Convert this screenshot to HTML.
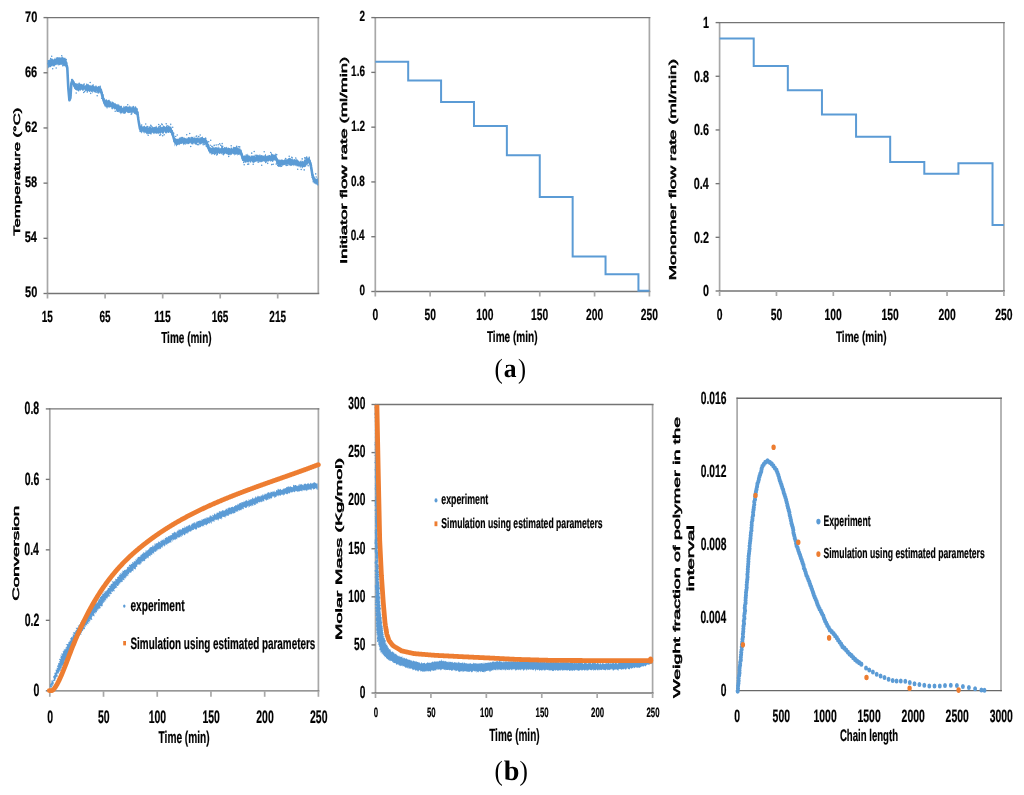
<!DOCTYPE html>
<html><head><meta charset="utf-8"><style>
html,body{margin:0;padding:0;background:#fff;width:1024px;height:795px;overflow:hidden}
svg{display:block;will-change:transform;filter:blur(0.35px)}
text{fill:#000;stroke:#000;stroke-width:0.22px;text-rendering:geometricPrecision}
</style></head><body>
<svg width="1024" height="795" viewBox="0 0 1024 795">
<rect width="1024" height="795" fill="#fff"/>
<line x1="47.5" y1="17" x2="47.5" y2="294.1" stroke="#a8a8a8" stroke-width="1.7"/>
<line x1="318.3" y1="17" x2="318.3" y2="294.1" stroke="#a8a8a8" stroke-width="1.7"/>
<line x1="46.9" y1="17.6" x2="319.2" y2="17.6" stroke="#747474" stroke-width="1.35"/>
<line x1="46.9" y1="293.5" x2="319.2" y2="293.5" stroke="#747474" stroke-width="1.35"/>
<line x1="43.5" y1="17.6" x2="47.5" y2="17.6" stroke="#747474" stroke-width="1.35"/>
<line x1="43.5" y1="72.78" x2="47.5" y2="72.78" stroke="#747474" stroke-width="1.35"/>
<line x1="43.5" y1="127.96" x2="47.5" y2="127.96" stroke="#747474" stroke-width="1.35"/>
<line x1="43.5" y1="183.14" x2="47.5" y2="183.14" stroke="#747474" stroke-width="1.35"/>
<line x1="43.5" y1="238.32" x2="47.5" y2="238.32" stroke="#747474" stroke-width="1.35"/>
<line x1="43.5" y1="293.5" x2="47.5" y2="293.5" stroke="#747474" stroke-width="1.35"/>
<line x1="47.5" y1="293.5" x2="47.5" y2="298.5" stroke="#a8a8a8" stroke-width="1.7"/>
<line x1="105.1" y1="293.5" x2="105.1" y2="298.5" stroke="#a8a8a8" stroke-width="1.7"/>
<line x1="162.7" y1="293.5" x2="162.7" y2="298.5" stroke="#a8a8a8" stroke-width="1.7"/>
<line x1="220.2" y1="293.5" x2="220.2" y2="298.5" stroke="#a8a8a8" stroke-width="1.7"/>
<line x1="277.7" y1="293.5" x2="277.7" y2="298.5" stroke="#a8a8a8" stroke-width="1.7"/>
<text x="25.03" y="21.51" font-family="Liberation Sans" font-size="15.14" font-weight="bold" textLength="12.22" lengthAdjust="spacingAndGlyphs">70</text>
<text x="24.97" y="76.69" font-family="Liberation Sans" font-size="15.14" font-weight="bold" textLength="12.22" lengthAdjust="spacingAndGlyphs">66</text>
<text x="25.02" y="131.87" font-family="Liberation Sans" font-size="15.14" font-weight="bold" textLength="12.22" lengthAdjust="spacingAndGlyphs">62</text>
<text x="24.92" y="187.05" font-family="Liberation Sans" font-size="15.14" font-weight="bold" textLength="12.22" lengthAdjust="spacingAndGlyphs">58</text>
<text x="24.64" y="242.23" font-family="Liberation Sans" font-size="15.14" font-weight="bold" textLength="12.22" lengthAdjust="spacingAndGlyphs">54</text>
<text x="25.03" y="297.41" font-family="Liberation Sans" font-size="15.14" font-weight="bold" textLength="12.22" lengthAdjust="spacingAndGlyphs">50</text>
<text x="41.77" y="321.62" font-family="Liberation Sans" font-size="16.03" font-weight="bold" textLength="11.12" lengthAdjust="spacingAndGlyphs">15</text>
<text x="99.5" y="321.62" font-family="Liberation Sans" font-size="16.03" font-weight="bold" textLength="11.12" lengthAdjust="spacingAndGlyphs">65</text>
<text x="154.19" y="321.62" font-family="Liberation Sans" font-size="16.03" font-weight="bold" textLength="16.67" lengthAdjust="spacingAndGlyphs">115</text>
<text x="211.69" y="321.62" font-family="Liberation Sans" font-size="16.03" font-weight="bold" textLength="16.67" lengthAdjust="spacingAndGlyphs">165</text>
<text x="269.33" y="321.62" font-family="Liberation Sans" font-size="16.03" font-weight="bold" textLength="16.67" lengthAdjust="spacingAndGlyphs">215</text>
<text x="161.19" y="343.2" font-family="Liberation Sans" font-size="15.99" font-weight="bold" textLength="50.41" lengthAdjust="spacingAndGlyphs">Time (min)</text>
<text transform="translate(20,235.77) rotate(-90)" x="0" y="0" font-family="Liberation Sans" font-size="9.16" font-weight="normal" textLength="128.19" lengthAdjust="spacingAndGlyphs" style="stroke-width:0.5px">Temperature (°C)</text>
<path d="M47.8 60.17 L48.1 59.91 L48.4 59.9 L48.7 60.31 L49 60.26 L49.3 60.18 L49.6 59.82 L49.9 58.64 L50.2 58.76 L50.5 59.51 L50.8 58.94 L51.1 58.39 L51.4 58.49 L51.7 59 L52 58.99 L52.3 58.18 L52.6 58.7 L52.9 59.14 L53.2 59.32 L53.5 59.62 L53.8 59.52 L54.1 58.97 L54.4 58.64 L54.7 58.34 L55 57.62 L55.3 57.76 L55.6 58.89 L55.9 58.97 L56.2 57.79 L56.5 57.42 L56.8 58.01 L57.1 58.2 L57.4 57.96 L57.7 58.1 L58 57.19 L58.3 57.19 L58.6 57.68 L58.9 56.92 L59.2 57.16 L59.5 57.61 L59.8 57.3 L60.1 57.22 L60.4 57.82 L60.7 57.82 L61 56.65 L61.3 57.38 L61.6 57.61 L61.9 56.86 L62.2 57.53 L62.5 56.69 L62.8 56.06 L63.1 57.5 L63.4 57.96 L63.7 57.31 L64 57.58 L64.3 57.68 L64.6 57.77 L64.9 57.93 L65.2 57.4 L65.5 58.16 L65.8 58.86 L66.1 58.92 L66.4 60.3 L66.7 64.18 L67 65.84 L67.3 66.75 L67.6 72.08 L67.9 77.48 L68.2 84.48 L68.5 89.59 L68.8 92.06 L69.1 95.95 L69.4 99.81 L69.7 98.26 L70 96.8 L70.3 95.75 L70.6 93.13 L70.9 88.94 L71.2 84.23 L71.5 81.09 L71.8 80.07 L72.1 79.8 L72.4 79.48 L72.7 78.31 L73 79.17 L73.3 80.23 L73.6 80.75 L73.9 81.06 L74.2 81.14 L74.5 81.26 L74.8 82.4 L75.1 83.01 L75.4 83.37 L75.7 83.23 L76 83.11 L76.3 83.35 L76.6 83.96 L76.9 84.09 L77.2 84.3 L77.5 85.4 L77.8 84.81 L78.1 84.33 L78.4 84.15 L78.7 82.76 L79 83.24 L79.3 84.56 L79.6 84.13 L79.9 83.65 L80.2 83.85 L80.5 84.2 L80.8 83.83 L81.1 83.54 L81.4 84.35 L81.7 84.65 L82 84.2 L82.3 84.66 L82.6 84.59 L82.9 84.53 L83.2 84.24 L83.5 83.8 L83.8 84.23 L84.1 84.61 L84.4 84.73 L84.7 85.4 L85 85.88 L85.3 84.85 L85.6 85.33 L85.9 85.14 L86.2 85 L86.5 85.07 L86.8 84.69 L87.1 84.71 L87.4 84.3 L87.7 85.37 L88 84.9 L88.3 83.59 L88.6 84.21 L88.9 85.01 L89.2 85.09 L89.5 85.43 L89.8 84.89 L90.1 84.73 L90.4 85.28 L90.7 85.44 L91 85.74 L91.3 86 L91.6 85.2 L91.9 84.73 L92.2 84.91 L92.5 84.87 L92.8 85.66 L93.1 85.86 L93.4 85.84 L93.7 85.73 L94 85.69 L94.3 85.88 L94.6 86.37 L94.9 86.64 L95.2 85.32 L95.5 85.3 L95.8 86.56 L96.1 86.15 L96.4 85.09 L96.7 85.94 L97 86.71 L97.3 86.38 L97.6 87.12 L97.9 86.55 L98.2 85.81 L98.5 86.15 L98.8 86.52 L99.1 86.39 L99.4 86.34 L99.7 86.65 L100 86.95 L100.3 87.47 L100.6 86.42 L100.9 86.54 L101.2 88.25 L101.5 89.28 L101.8 90.85 L102.1 92.3 L102.4 92.97 L102.7 93.84 L103 95.16 L103.3 95.98 L103.6 96.34 L103.9 97.01 L104.2 98.33 L104.5 99.86 L104.8 101.01 L105.1 100.38 L105.4 99.38 L105.7 99.93 L106 100.17 L106.3 99.81 L106.6 99.74 L106.9 99.73 L107.2 100.36 L107.5 100.15 L107.8 100.56 L108.1 100.91 L108.4 100.18 L108.7 100.23 L109 99.66 L109.3 99.44 L109.6 100.85 L109.9 102.33 L110.2 101.5 L110.5 101.26 L110.8 101.68 L111.1 100.9 L111.4 101.69 L111.7 103.07 L112 102.27 L112.3 101.35 L112.6 101.64 L112.9 101.69 L113.2 102.15 L113.5 103.03 L113.8 102.9 L114.1 102.83 L114.4 103.68 L114.7 103.19 L115 102.66 L115.3 102.88 L115.6 103.48 L115.9 104.14 L116.2 104.33 L116.5 104.61 L116.8 104.25 L117.1 104.38 L117.4 104.49 L117.7 104.17 L118 103.6 L118.3 104.56 L118.6 105.25 L118.9 104.84 L119.2 105.43 L119.5 106.22 L119.8 106.6 L120.1 105.79 L120.4 105.8 L120.7 106.11 L121 106.22 L121.3 105.75 L121.6 105.65 L121.9 107.17 L122.2 107.49 L122.5 107.39 L122.8 108.56 L123.1 107.93 L123.4 105.88 L123.7 105.63 L124 106.77 L124.3 107.23 L124.6 106.21 L124.9 105.73 L125.2 106.23 L125.5 106.34 L125.8 106.36 L126.1 105.98 L126.4 105.77 L126.7 106.05 L127 106.78 L127.3 106.66 L127.6 106.51 L127.9 106.26 L128.2 106.54 L128.5 107.11 L128.8 106.55 L129.1 107.1 L129.4 106.34 L129.7 105.1 L130 106.1 L130.3 106.42 L130.6 106.06 L130.9 107.59 L131.2 107.66 L131.5 106.53 L131.8 106.62 L132.1 107.09 L132.4 107.26 L132.7 106.87 L133 106.23 L133.3 106.01 L133.6 106.56 L133.9 106.04 L134.2 106.3 L134.5 107.18 L134.8 107.76 L135.1 106.89 L135.4 105.66 L135.7 106.16 L136 106.61 L136.3 107.29 L136.6 107.81 L136.9 108.29 L137.2 108.8 L137.5 110.1 L137.8 111.33 L138.1 113.1 L138.4 115.81 L138.7 118.32 L139 120.41 L139.3 121.18 L139.6 122.42 L139.9 124.86 L140.2 125.85 L140.5 126.43 L140.8 126.34 L141.1 125.49 L141.4 125.68 L141.7 126.22 L142 126.18 L142.3 126.08 L142.6 126.74 L142.9 126.93 L143.2 126.64 L143.5 126.18 L143.8 126.19 L144.1 126.37 L144.4 125.38 L144.7 125.82 L145 126.82 L145.3 126.63 L145.6 126.41 L145.9 126.98 L146.2 126.82 L146.5 125.51 L146.8 125.87 L147.1 126.91 L147.4 127.31 L147.7 127.12 L148 127.25 L148.3 127.93 L148.6 126.84 L148.9 126.79 L149.2 126.92 L149.5 125.87 L149.8 126.28 L150.1 126.76 L150.4 126.04 L150.7 126.4 L151 127.52 L151.3 128.02 L151.6 127.71 L151.9 126.42 L152.2 125.98 L152.5 127.05 L152.8 127.84 L153.1 127.62 L153.4 127.08 L153.7 126.92 L154 126.94 L154.3 126.69 L154.6 126.89 L154.9 127.02 L155.2 126.77 L155.5 126.77 L155.8 126.61 L156.1 125.71 L156.4 125.65 L156.7 126.44 L157 127.44 L157.3 127.27 L157.6 127.37 L157.9 128.15 L158.2 126.87 L158.5 125.89 L158.8 126.32 L159.1 127.39 L159.4 127.46 L159.7 126.98 L160 126.5 L160.3 125.16 L160.6 125.32 L160.9 126.66 L161.2 127.27 L161.5 126.92 L161.8 126.45 L162.1 126.92 L162.4 126.76 L162.7 126.74 L163 126.27 L163.3 125.25 L163.6 125.24 L163.9 125.91 L164.2 126.14 L164.5 125.96 L164.8 126.35 L165.1 126.42 L165.4 126.8 L165.7 127.28 L166 126.31 L166.3 125.73 L166.6 125.96 L166.9 125.4 L167.2 126.26 L167.5 127.04 L167.8 126.16 L168.1 125.61 L168.4 125.83 L168.7 125.52 L169 125.23 L169.3 126.22 L169.6 126.71 L169.9 125.78 L170.2 125.13 L170.5 126.89 L170.8 127.04 L171.1 126.46 L171.4 127.01 L171.7 128 L172 129.28 L172.3 130.16 L172.6 129.83 L172.9 130.55 L173.2 132.13 L173.5 133.49 L173.8 135.27 L174.1 136.88 L174.4 138.28 L174.7 138.23 L175 138.6 L175.3 138.53 L175.6 137.8 L175.9 138.73 L176.2 139.08 L176.5 138.79 L176.8 138.57 L177.1 138.58 L177.4 138.91 L177.7 138.78 L178 138.85 L178.3 139.27 L178.6 138.8 L178.9 137.8 L179.2 138.44 L179.5 138.82 L179.8 138.4 L180.1 138.82 L180.4 138.12 L180.7 137.89 L181 137.57 L181.3 137.67 L181.6 138.15 L181.9 137.87 L182.2 138.36 L182.5 137.97 L182.8 137.68 L183.1 137.65 L183.4 137.58 L183.7 138.32 L184 138.32 L184.3 137.78 L184.6 137.28 L184.9 137.69 L185.2 138.11 L185.5 138.46 L185.8 138.12 L186.1 137.81 L186.4 138.89 L186.7 138.41 L187 137.07 L187.3 137.71 L187.6 138.67 L187.9 138.29 L188.2 138.29 L188.5 137.76 L188.8 137.59 L189.1 138.06 L189.4 137.41 L189.7 137.4 L190 137.44 L190.3 137.52 L190.6 138.23 L190.9 138.6 L191.2 137.19 L191.5 136.48 L191.8 137.19 L192.1 137.03 L192.4 137.05 L192.7 136.99 L193 136.18 L193.3 136.64 L193.6 138.18 L193.9 138.17 L194.2 138.08 L194.5 137.31 L194.8 136.36 L195.1 137.14 L195.4 138.16 L195.7 137.9 L196 136.66 L196.3 137.79 L196.6 138.2 L196.9 137.43 L197.2 137.22 L197.5 137.23 L197.8 137.85 L198.1 138.06 L198.4 138.39 L198.7 137.1 L199 136.31 L199.3 137.13 L199.6 137.91 L199.9 138.6 L200.2 138.4 L200.5 137.58 L200.8 137.46 L201.1 137.5 L201.4 137.99 L201.7 137.99 L202 137.52 L202.3 136.93 L202.6 136.09 L202.9 136.75 L203.2 137.95 L203.5 137.93 L203.8 137.88 L204.1 138.2 L204.4 137.97 L204.7 138.12 L205 137.84 L205.3 137.43 L205.6 137.61 L205.9 137.66 L206.2 138.61 L206.5 139.7 L206.8 140.23 L207.1 140.8 L207.4 141.34 L207.7 141.91 L208 143.56 L208.3 144.46 L208.6 145.39 L208.9 146.63 L209.2 147.09 L209.5 148.37 L209.8 148.19 L210.1 147.19 L210.4 147.3 L210.7 147.56 L211 147.66 L211.3 147.91 L211.6 147.86 L211.9 147.67 L212.2 147.51 L212.5 147.8 L212.8 147.74 L213.1 147.13 L213.4 147.3 L213.7 147.56 L214 147.25 L214.3 147.8 L214.6 147.84 L214.9 146.98 L215.2 147.06 L215.5 147 L215.8 147.42 L216.1 147.71 L216.4 147.13 L216.7 146.82 L217 147.01 L217.3 147.89 L217.6 147.74 L217.9 146.53 L218.2 146.32 L218.5 146.74 L218.8 147.9 L219.1 147.58 L219.4 146.94 L219.7 148.51 L220 148.27 L220.3 147.8 L220.6 148.55 L220.9 148.17 L221.2 147.02 L221.5 146.91 L221.8 147.37 L222.1 146.43 L222.4 145.85 L222.7 146.69 L223 147.53 L223.3 148.06 L223.6 148.27 L223.9 147.53 L224.2 147.05 L224.5 147.2 L224.8 146.94 L225.1 147.35 L225.4 147.83 L225.7 147.17 L226 146.89 L226.3 146.75 L226.6 146.84 L226.9 147.48 L227.2 147.5 L227.5 147.83 L227.8 148.74 L228.1 148.04 L228.4 147.33 L228.7 147.47 L229 148.22 L229.3 148.53 L229.6 148.05 L229.9 148.28 L230.2 149.04 L230.5 148.81 L230.8 147.4 L231.1 147.09 L231.4 147.78 L231.7 147.97 L232 147.37 L232.3 148.61 L232.6 149.02 L232.9 147.55 L233.2 147.19 L233.5 146.68 L233.8 146.49 L234.1 147.13 L234.4 147.51 L234.7 147.31 L235 147.7 L235.3 148.08 L235.6 147.44 L235.9 146.55 L236.2 147.04 L236.5 147.96 L236.8 147.81 L237.1 147.19 L237.4 147.31 L237.7 147.26 L238 147.69 L238.3 148.45 L238.6 148.11 L238.9 147.69 L239.2 147.14 L239.5 148.18 L239.8 149.08 L240.1 148.26 L240.4 148.56 L240.7 150.02 L241 149.88 L241.3 149.6 L241.6 150.6 L241.9 152.06 L242.2 152.85 L242.5 153.77 L242.8 154.77 L243.1 155.42 L243.4 156.29 L243.7 155.79 L244 155.72 L244.3 155.51 L244.6 155.08 L244.9 155.8 L245.2 155.88 L245.5 155.63 L245.8 155.25 L246.1 155.37 L246.4 155.98 L246.7 155.15 L247 153.95 L247.3 153.59 L247.6 154.57 L247.9 155.37 L248.2 154.71 L248.5 154.87 L248.8 156 L249.1 155.89 L249.4 155.24 L249.7 155.67 L250 156.61 L250.3 156.89 L250.6 155.85 L250.9 155.54 L251.2 155.9 L251.5 155.47 L251.8 155.13 L252.1 155.37 L252.4 155.43 L252.7 155.68 L253 156.06 L253.3 156.12 L253.6 155.45 L253.9 155 L254.2 155.84 L254.5 155.99 L254.8 155.76 L255.1 155.28 L255.4 155.9 L255.7 156.68 L256 156.14 L256.3 154.53 L256.6 153.93 L256.9 155.12 L257.2 155.23 L257.5 154.25 L257.8 154.68 L258.1 155.77 L258.4 155.12 L258.7 154.73 L259 154.98 L259.3 155.43 L259.6 154.86 L259.9 153.86 L260.2 154.48 L260.5 154.94 L260.8 156.1 L261.1 156.13 L261.4 155.3 L261.7 155.39 L262 155 L262.3 155.32 L262.6 156.35 L262.9 156 L263.2 155.55 L263.5 155.83 L263.8 155.74 L264.1 155.71 L264.4 156.45 L264.7 155.72 L265 154.53 L265.3 154.55 L265.6 153.74 L265.9 154.2 L266.2 155.87 L266.5 156.25 L266.8 155.95 L267.1 155.75 L267.4 155.14 L267.7 155.78 L268 155.63 L268.3 155.38 L268.6 155.37 L268.9 154.71 L269.2 154.95 L269.5 154.91 L269.8 154.98 L270.1 155.19 L270.4 155.67 L270.7 155.38 L271 153.76 L271.3 152.83 L271.6 153.03 L271.9 153.58 L272.2 154.44 L272.5 154.08 L272.8 153.77 L273.1 154.42 L273.4 154.5 L273.7 154.39 L274 154.43 L274.3 154.48 L274.6 154.74 L274.9 154.84 L275.2 153.29 L275.5 153.13 L275.8 154.5 L276.1 155 L276.4 155.34 L276.7 156.85 L277 158.04 L277.3 157.78 L277.6 158.17 L277.9 159.12 L278.2 159.15 L278.5 159.89 L278.8 160.49 L279.1 160.36 L279.4 159.67 L279.7 160.26 L280 161.17 L280.3 160.48 L280.6 159.82 L280.9 159.25 L281.2 158.86 L281.5 159.79 L281.8 160.02 L282.1 159.39 L282.4 159.97 L282.7 159.54 L283 159.59 L283.3 160.71 L283.6 160.41 L283.9 160.09 L284.2 160.16 L284.5 159.26 L284.8 158.77 L285.1 158.17 L285.4 158.34 L285.7 159.69 L286 159.88 L286.3 159.55 L286.6 159.7 L286.9 159.03 L287.2 158.71 L287.5 159.74 L287.8 159.08 L288.1 158.18 L288.4 158.28 L288.7 158.13 L289 157.94 L289.3 157.92 L289.6 157.67 L289.9 157.56 L290.2 158 L290.5 158.07 L290.8 158.96 L291.1 159.28 L291.4 158.8 L291.7 158.7 L292 159.25 L292.3 158.67 L292.6 158.08 L292.9 159.42 L293.2 160.3 L293.5 159.94 L293.8 159.27 L294.1 159.53 L294.4 159.51 L294.7 159.54 L295 159.39 L295.3 159.49 L295.6 159.82 L295.9 159.12 L296.2 158 L296.5 158.96 L296.8 160.39 L297.1 160.37 L297.4 159.87 L297.7 160.07 L298 160.71 L298.3 160.26 L298.6 160.55 L298.9 161.03 L299.2 160.86 L299.5 161.44 L299.8 161.94 L300.1 161.24 L300.4 160.58 L300.7 160.54 L301 161.47 L301.3 161.66 L301.6 160.56 L301.9 160.16 L302.2 160.62 L302.5 161.33 L302.8 161.07 L303.1 160.91 L303.4 161.52 L303.7 161.42 L304 160.05 L304.3 159.39 L304.6 159.32 L304.9 159.44 L305.2 159.34 L305.5 159.2 L305.8 159.49 L306.1 157.9 L306.4 157.29 L306.7 158.43 L307 158.62 L307.3 158.05 L307.6 157.27 L307.9 157.44 L308.2 158.56 L308.5 158.27 L308.8 157.28 L309.1 156.91 L309.4 156.86 L309.7 157.66 L310 158.79 L310.3 160.33 L310.6 161.2 L310.9 160.99 L311.2 162.91 L311.5 165.61 L311.8 167.77 L312.1 168.95 L312.4 171.31 L312.7 173.24 L313 173.68 L313.3 174.36 L313.6 175.84 L313.9 177.1 L314.2 177.48 L314.5 177.71 L314.8 177.79 L315.1 178.5 L315.4 178.6 L315.7 177.83 L316 178.4 L316.3 179.05 L316.6 178.46 L316.9 178.73 L317.2 178.71 L317.5 178.48 L317.8 177.82 L318.1 176.15 L318.1 184.44 L317.8 183.73 L317.5 184.96 L317.2 184.74 L316.9 184.13 L316.6 185.06 L316.3 184.41 L316 184.1 L315.7 184.82 L315.4 183.99 L315.1 183.41 L314.8 183.16 L314.5 183.47 L314.2 183.63 L313.9 183.78 L313.6 182.06 L313.3 180.05 L313 180.38 L312.7 179.36 L312.4 177.62 L312.1 176.64 L311.8 175.22 L311.5 173.28 L311.2 171.39 L310.9 168.4 L310.6 167.32 L310.3 167.64 L310 166.47 L309.7 165.18 L309.4 163.89 L309.1 163.06 L308.8 163.1 L308.5 163.53 L308.2 164.68 L307.9 164.47 L307.6 163.99 L307.3 165.15 L307 165.74 L306.7 164.77 L306.4 165.02 L306.1 166.58 L305.8 166.92 L305.5 166.02 L305.2 165.89 L304.9 167.4 L304.6 167.27 L304.3 166.88 L304 166.74 L303.7 165.88 L303.4 166.64 L303.1 167.07 L302.8 167.69 L302.5 168.39 L302.2 168.3 L301.9 168.4 L301.6 167.06 L301.3 166.16 L301 167.65 L300.7 168.44 L300.4 167.14 L300.1 166.42 L299.8 166.5 L299.5 166.19 L299.2 167.45 L298.9 167.49 L298.6 166 L298.3 166.58 L298 166.83 L297.7 166.71 L297.4 165.93 L297.1 165.95 L296.8 166.42 L296.5 166.27 L296.2 165.43 L295.9 165.11 L295.6 165.77 L295.3 165.96 L295 166.2 L294.7 164.85 L294.4 164.96 L294.1 166.05 L293.8 166.16 L293.5 165.35 L293.2 165.34 L292.9 165.74 L292.6 164.91 L292.3 165.02 L292 165.45 L291.7 166 L291.4 165.81 L291.1 165.67 L290.8 166.2 L290.5 165.64 L290.2 165.5 L289.9 165.53 L289.6 165.46 L289.3 165.44 L289 164.68 L288.7 164.36 L288.4 165.33 L288.1 164.69 L287.8 164.39 L287.5 164.95 L287.2 164.45 L286.9 164.47 L286.6 165.14 L286.3 165.91 L286 165.71 L285.7 165.05 L285.4 164.49 L285.1 164.48 L284.8 164.97 L284.5 165.25 L284.2 164.86 L283.9 165.43 L283.6 165.17 L283.3 165.05 L283 165.83 L282.7 165.7 L282.4 165.81 L282.1 165.43 L281.8 164.89 L281.5 164.87 L281.2 166.06 L280.9 166.57 L280.6 166.66 L280.3 167.6 L280 166.8 L279.7 166.71 L279.4 167.21 L279.1 166.36 L278.8 166.19 L278.5 166.45 L278.2 166.4 L277.9 166.1 L277.6 165.01 L277.3 163.71 L277 163.65 L276.7 163.35 L276.4 162.28 L276.1 161.42 L275.8 160.59 L275.5 160.94 L275.2 160.18 L274.9 159.7 L274.6 160.67 L274.3 160.75 L274 160.17 L273.7 160.53 L273.4 161.33 L273.1 161.74 L272.8 161.74 L272.5 162.05 L272.2 162.07 L271.9 161.47 L271.6 161.34 L271.3 160.82 L271 160.69 L270.7 160.79 L270.4 162.04 L270.1 162.02 L269.8 160.69 L269.5 160.49 L269.2 160.98 L268.9 161.25 L268.6 161.71 L268.3 161.87 L268 161.01 L267.7 161.54 L267.4 162.07 L267.1 161.28 L266.8 161.16 L266.5 161.32 L266.2 161.53 L265.9 162.6 L265.6 162.55 L265.3 161.49 L265 161.64 L264.7 162.07 L264.4 161.5 L264.1 161.61 L263.8 161.67 L263.5 161.16 L263.2 161.08 L262.9 161.04 L262.6 161.19 L262.3 160.67 L262 161.57 L261.7 162.69 L261.4 162.06 L261.1 161.79 L260.8 162.42 L260.5 162.36 L260.2 161.54 L259.9 162.38 L259.6 162.6 L259.3 161.43 L259 161.83 L258.7 161.87 L258.4 161.62 L258.1 162.13 L257.8 161.92 L257.5 161.17 L257.2 161.14 L256.9 161.77 L256.6 161.89 L256.3 161.11 L256 161.11 L255.7 162.06 L255.4 161.74 L255.1 161.89 L254.8 162.63 L254.5 162.27 L254.2 162.24 L253.9 163.39 L253.6 163.09 L253.3 162.41 L253 162.96 L252.7 162.84 L252.4 162.05 L252.1 162.25 L251.8 161.87 L251.5 160.72 L251.2 161.34 L250.9 161.8 L250.6 161.73 L250.3 162.33 L250 162.73 L249.7 162.22 L249.4 161.36 L249.1 161.58 L248.8 163 L248.5 162.73 L248.2 161.78 L247.9 162.07 L247.6 162.12 L247.3 162.54 L247 163.1 L246.7 162.64 L246.4 161.66 L246.1 161.84 L245.8 162.96 L245.5 162.87 L245.2 162.82 L244.9 162.28 L244.6 161.09 L244.3 162.29 L244 162.61 L243.7 161.4 L243.4 161.6 L243.1 160.9 L242.8 160.51 L242.5 160.99 L242.2 159.43 L241.9 158.5 L241.6 157.63 L241.3 157.18 L241 156.77 L240.7 155.49 L240.4 154.88 L240.1 154.31 L239.8 155.17 L239.5 155.33 L239.2 154.09 L238.9 154.64 L238.6 155.12 L238.3 154.65 L238 155.15 L237.7 154.12 L237.4 154.99 L237.1 156.17 L236.8 154.04 L236.5 153.88 L236.2 154.9 L235.9 154.65 L235.6 154.23 L235.3 154.59 L235 155.28 L234.7 155.84 L234.4 154.65 L234.1 153.93 L233.8 154.64 L233.5 154.36 L233.2 153.99 L232.9 153.74 L232.6 153.61 L232.3 154.1 L232 154.19 L231.7 154.56 L231.4 155.2 L231.1 154.8 L230.8 155.21 L230.5 155.54 L230.2 154.21 L229.9 154.89 L229.6 155.75 L229.3 154.41 L229 154.75 L228.7 155.21 L228.4 155.33 L228.1 155.19 L227.8 155.12 L227.5 154.33 L227.2 153.49 L226.9 153.85 L226.6 154.26 L226.3 154.24 L226 153.71 L225.7 153.44 L225.4 153.2 L225.1 153.26 L224.8 153.58 L224.5 153.93 L224.2 154.38 L223.9 155.58 L223.6 155.65 L223.3 154.4 L223 154.05 L222.7 153.68 L222.4 153.28 L222.1 153.97 L221.8 154.56 L221.5 154.04 L221.2 153.46 L220.9 153.51 L220.6 153.27 L220.3 153.4 L220 154.11 L219.7 153.71 L219.4 154.07 L219.1 153.93 L218.8 152.47 L218.5 153.15 L218.2 153.69 L217.9 154.64 L217.6 154.99 L217.3 154.48 L217 154.54 L216.7 154.21 L216.4 153.8 L216.1 152.93 L215.8 153.28 L215.5 153.85 L215.2 153.88 L214.9 153.51 L214.6 154.15 L214.3 155.8 L214 153.84 L213.7 152.35 L213.4 154.28 L213.1 153.89 L212.8 153.88 L212.5 154.4 L212.2 154.13 L211.9 155.05 L211.6 155 L211.3 153.81 L211 153.11 L210.7 152.89 L210.4 153.46 L210.1 154.15 L209.8 153.51 L209.5 153.4 L209.2 152.57 L208.9 151.51 L208.6 150.44 L208.3 149.52 L208 149.1 L207.7 148.62 L207.4 148.2 L207.1 147.31 L206.8 146.79 L206.5 145.76 L206.2 144.97 L205.9 144.29 L205.6 144.17 L205.3 145.54 L205 145.96 L204.7 144.32 L204.4 143.14 L204.1 143.27 L203.8 143.87 L203.5 143.92 L203.2 144.54 L202.9 144.91 L202.6 143.56 L202.3 143.37 L202 143.39 L201.7 143.91 L201.4 144.3 L201.1 143.52 L200.8 144.2 L200.5 144.51 L200.2 144.53 L199.9 145.41 L199.6 144.76 L199.3 143.8 L199 143.38 L198.7 143.48 L198.4 143.14 L198.1 142.09 L197.8 142.76 L197.5 143.2 L197.2 143.25 L196.9 144.47 L196.6 145.18 L196.3 145.12 L196 143.98 L195.7 144.12 L195.4 144.83 L195.1 145.27 L194.8 143.8 L194.5 142.19 L194.2 143.59 L193.9 143.37 L193.6 143.15 L193.3 144.14 L193 144.65 L192.7 144.67 L192.4 143.63 L192.1 144.4 L191.8 143.94 L191.5 143.5 L191.2 144.85 L190.9 144.04 L190.6 142.76 L190.3 142.65 L190 143.83 L189.7 143.97 L189.4 143 L189.1 143.43 L188.8 144.53 L188.5 144.01 L188.2 144.01 L187.9 144.57 L187.6 143.89 L187.3 143.06 L187 143.66 L186.7 144.45 L186.4 143.75 L186.1 143.1 L185.8 143.57 L185.5 144.88 L185.2 144.91 L184.9 144.07 L184.6 144.65 L184.3 144.46 L184 143.4 L183.7 144.64 L183.4 145.52 L183.1 144.72 L182.8 143.82 L182.5 143.16 L182.2 143.08 L181.9 143.49 L181.6 143.78 L181.3 143.43 L181 143.71 L180.7 144.35 L180.4 144.11 L180.1 143.76 L179.8 144.54 L179.5 145.09 L179.2 145.34 L178.9 145.3 L178.6 144.83 L178.3 144.17 L178 144.89 L177.7 145.03 L177.4 144.69 L177.1 145.73 L176.8 145.83 L176.5 146.5 L176.2 146.6 L175.9 144.68 L175.6 144.2 L175.3 144.97 L175 145.9 L174.7 146.56 L174.4 143.96 L174.1 142.28 L173.8 141.9 L173.5 141.34 L173.2 140.16 L172.9 137.97 L172.6 135.56 L172.3 135.04 L172 135.93 L171.7 135.04 L171.4 134.71 L171.1 133.72 L170.8 133.02 L170.5 133.17 L170.2 132.65 L169.9 132.79 L169.6 132.02 L169.3 132.08 L169 131.74 L168.7 132.37 L168.4 133.15 L168.1 132.21 L167.8 132.32 L167.5 132.62 L167.2 132.48 L166.9 132.42 L166.6 132.98 L166.3 133.82 L166 133.66 L165.7 133.46 L165.4 132.84 L165.1 133.03 L164.8 132.78 L164.5 131.56 L164.2 131.56 L163.9 132.19 L163.6 133.56 L163.3 133.99 L163 133.52 L162.7 133.69 L162.4 133.79 L162.1 133.41 L161.8 132.93 L161.5 132.45 L161.2 132.87 L160.9 133.73 L160.6 134.01 L160.3 133.78 L160 133.35 L159.7 133.02 L159.4 133.73 L159.1 133.45 L158.8 134.12 L158.5 134.42 L158.2 133.33 L157.9 133.1 L157.6 133.33 L157.3 133.71 L157 132.98 L156.7 132.7 L156.4 133.49 L156.1 133.42 L155.8 133.28 L155.5 133.72 L155.2 133 L154.9 132.71 L154.6 134.2 L154.3 133.92 L154 132.81 L153.7 133.88 L153.4 134.21 L153.1 133.26 L152.8 132.98 L152.5 133.15 L152.2 132.27 L151.9 132.75 L151.6 134.36 L151.3 134.64 L151 134.29 L150.7 134.19 L150.4 134.72 L150.1 133.96 L149.8 133.11 L149.5 133.89 L149.2 133.84 L148.9 133.53 L148.6 133.6 L148.3 132.73 L148 133.04 L147.7 134.3 L147.4 134.49 L147.1 134.38 L146.8 134.34 L146.5 134.04 L146.2 133.59 L145.9 133.11 L145.6 132.64 L145.3 132.58 L145 133.41 L144.7 133.83 L144.4 132.53 L144.1 132.3 L143.8 133.53 L143.5 132.84 L143.2 131.56 L142.9 131.67 L142.6 131.61 L142.3 131.94 L142 133.36 L141.7 133.6 L141.4 132.66 L141.1 132.53 L140.8 132.22 L140.5 131.91 L140.2 132.21 L139.9 132.13 L139.6 130.81 L139.3 128.61 L139 126.06 L138.7 123.45 L138.4 121.68 L138.1 120.23 L137.8 118.49 L137.5 116.11 L137.2 114.95 L136.9 115.17 L136.6 114.42 L136.3 114.8 L136 115.06 L135.7 114.65 L135.4 114.34 L135.1 113.57 L134.8 113.55 L134.5 114.05 L134.2 113.73 L133.9 113.18 L133.6 112.68 L133.3 112.85 L133 112.37 L132.7 112.39 L132.4 113.22 L132.1 113.21 L131.8 112.84 L131.5 112.68 L131.2 113.13 L130.9 113.13 L130.6 112.04 L130.3 112.9 L130 113.35 L129.7 111.79 L129.4 112.19 L129.1 112.72 L128.8 113.05 L128.5 113.32 L128.2 112.91 L127.9 112.42 L127.6 112.6 L127.3 113.28 L127 112.83 L126.7 111.84 L126.4 111.87 L126.1 112.37 L125.8 113.2 L125.5 113.6 L125.2 113.05 L124.9 112.78 L124.6 112.46 L124.3 113.55 L124 113.96 L123.7 112.87 L123.4 112.39 L123.1 112.42 L122.8 112.36 L122.5 112.05 L122.2 112.79 L121.9 113.21 L121.6 112.98 L121.3 113.39 L121 114.42 L120.7 114.29 L120.4 113.18 L120.1 112.67 L119.8 113.28 L119.5 112.62 L119.2 111.04 L118.9 111.49 L118.6 112.39 L118.3 111.9 L118 110.34 L117.7 109.85 L117.4 109.55 L117.1 109.35 L116.8 110.7 L116.5 110.55 L116.2 109.93 L115.9 109.77 L115.6 109.3 L115.3 109.08 L115 109.14 L114.7 109.9 L114.4 109.22 L114.1 108.77 L113.8 108.94 L113.5 108.36 L113.2 108.35 L112.9 108.39 L112.6 108.53 L112.3 108.48 L112 108.67 L111.7 108.37 L111.4 107.45 L111.1 107.45 L110.8 107.26 L110.5 107.03 L110.2 107.33 L109.9 107.81 L109.6 107.69 L109.3 107.21 L109 107.16 L108.7 107.1 L108.4 107.39 L108.1 107.78 L107.8 108.76 L107.5 108.49 L107.2 106.65 L106.9 107.5 L106.6 109.02 L106.3 107.62 L106 106.8 L105.7 107.41 L105.4 106.91 L105.1 106.09 L104.8 106.43 L104.5 106.54 L104.2 105.15 L103.9 104.13 L103.6 102.52 L103.3 102.07 L103 101.97 L102.7 100.61 L102.4 99.82 L102.1 98.45 L101.8 97.01 L101.5 95.37 L101.2 93.17 L100.9 93.09 L100.6 93.01 L100.3 92.26 L100 92.51 L99.7 92.18 L99.4 93.09 L99.1 93.77 L98.8 92.69 L98.5 92.78 L98.2 94.1 L97.9 93.74 L97.6 92.58 L97.3 92.65 L97 91.89 L96.7 91.2 L96.4 91.46 L96.1 91.23 L95.8 91.71 L95.5 92.56 L95.2 93.09 L94.9 92.34 L94.6 91.53 L94.3 92.25 L94 92.4 L93.7 91.51 L93.4 91.15 L93.1 92.02 L92.8 93.57 L92.5 93.07 L92.2 91.3 L91.9 91.09 L91.6 91.31 L91.3 91.23 L91 91.94 L90.7 91.92 L90.4 90.59 L90.1 91.47 L89.8 92.31 L89.5 91.88 L89.2 91.75 L88.9 91.61 L88.6 91.26 L88.3 91.02 L88 91.52 L87.7 92.22 L87.4 92.36 L87.1 91.51 L86.8 91.08 L86.5 91.21 L86.2 90.71 L85.9 90.84 L85.6 90.95 L85.3 91.34 L85 91.35 L84.7 89.69 L84.4 89.62 L84.1 89.72 L83.8 89.52 L83.5 90.4 L83.2 90.92 L82.9 90.44 L82.6 90.19 L82.3 90.65 L82 89.94 L81.7 89.65 L81.4 89.8 L81.1 89.74 L80.8 90.55 L80.5 90.68 L80.2 90.82 L79.9 90.59 L79.6 90.07 L79.3 90.64 L79 91.71 L78.7 91.41 L78.4 91.49 L78.1 91.11 L77.8 90.35 L77.5 90.67 L77.2 90.09 L76.9 90.11 L76.6 90.27 L76.3 90.49 L76 90.24 L75.7 89.78 L75.4 90.08 L75.1 89.71 L74.8 89.02 L74.5 89 L74.2 88.8 L73.9 87.67 L73.6 86.81 L73.3 86.72 L73 86.03 L72.7 85.41 L72.4 83.39 L72.1 82.88 L71.8 83.05 L71.5 83.75 L71.2 86.33 L70.9 91.58 L70.6 96.26 L70.3 99.33 L70 100.85 L69.7 101.18 L69.4 101.72 L69.1 97.81 L68.8 94.64 L68.5 92.26 L68.2 87.86 L67.9 82.1 L67.6 75.77 L67.3 69.9 L67 68.94 L66.7 67.55 L66.4 67.61 L66.1 65.08 L65.8 66.14 L65.5 67.7 L65.2 66.64 L64.9 66.02 L64.6 65.64 L64.3 66.15 L64 66.64 L63.7 66.01 L63.4 65.99 L63.1 65.39 L62.8 65.5 L62.5 65.21 L62.2 64.45 L61.9 64.66 L61.6 64.94 L61.3 64.71 L61 64.44 L60.7 64.64 L60.4 65.05 L60.1 64.77 L59.8 64.93 L59.5 65.4 L59.2 64.89 L58.9 65.24 L58.6 65.86 L58.3 65.16 L58 64.15 L57.7 64.27 L57.4 65.42 L57.1 64.97 L56.8 64.19 L56.5 65.3 L56.2 65.03 L55.9 65.11 L55.6 65.72 L55.3 64.94 L55 64.89 L54.7 65.75 L54.4 66.06 L54.1 65.74 L53.8 66.09 L53.5 66.5 L53.2 65.3 L52.9 64.74 L52.6 65.99 L52.3 66.32 L52 66.5 L51.7 66.68 L51.4 66.12 L51.1 66.16 L50.8 67.2 L50.5 67.23 L50.2 67.2 L49.9 66.75 L49.6 67.1 L49.3 67.87 L49 67.36 L48.7 67.77 L48.4 67.75 L48.1 68.45 L47.8 68.68Z" fill="#5b9bd5"/>
<polyline points="47.5,64.1 47.96,63.9 48.42,63.71 48.88,63.51 49.34,63.31 49.8,63.12 50.26,62.92 50.72,62.72 51.19,62.55 51.67,62.43 52.16,62.32 52.64,62.2 53.13,62.08 53.61,61.96 54.1,61.84 54.59,61.72 55.07,61.6 55.56,61.48 56.04,61.36 56.53,61.24 57.01,61.12 57.51,61.1 58.01,61.1 58.51,61.1 59.01,61.1 59.51,61.1 60.01,61.1 60.51,61.1 61.01,61.1 61.51,61.1 62.01,61.1 62.51,61.1 63.01,61.1 63.47,61.28 63.91,61.51 64.36,61.73 64.81,61.95 65.26,62.18 65.7,62.4 66.11,62.65 66.22,63.14 66.33,63.63 66.44,64.12 66.55,64.61 66.65,65.1 66.76,65.58 66.87,66.07 66.98,66.56 67.09,67.05 67.2,67.54 67.3,68.02 67.33,68.52 67.35,69.02 67.38,69.52 67.4,70.02 67.43,70.52 67.45,71.02 67.48,71.52 67.5,72.02 67.53,72.52 67.55,73.02 67.58,73.52 67.6,74.02 67.63,74.52 67.65,75.02 67.68,75.52 67.7,76.01 67.73,76.51 67.75,77.01 67.78,77.51 67.8,78.01 67.83,78.51 67.85,79.01 67.88,79.51 67.9,80.01 67.93,80.51 67.95,81.01 67.98,81.51 68,82.01 68.03,82.51 68.05,83.01 68.08,83.51 68.1,84 68.13,84.5 68.15,85 68.18,85.5 68.2,86 68.23,86.5 68.25,87 68.28,87.5 68.3,88 68.34,88.5 68.39,89 68.43,89.49 68.48,89.99 68.52,90.49 68.57,90.99 68.61,91.49 68.66,91.98 68.7,92.48 68.75,92.98 68.79,93.48 68.83,93.98 68.88,94.47 68.92,94.97 68.97,95.47 69.01,95.97 69.06,96.47 69.1,96.96 69.15,97.46 69.19,97.96 69.24,98.46 69.28,98.96 69.32,99.45 69.37,99.95 69.46,100.16 69.66,99.7 69.86,99.24 70.06,98.79 70.26,98.33 70.41,97.86 70.44,97.36 70.47,96.86 70.51,96.36 70.54,95.86 70.57,95.36 70.6,94.86 70.63,94.36 70.67,93.87 70.7,93.37 70.73,92.87 70.76,92.37 70.79,91.87 70.83,91.37 70.86,90.87 70.89,90.37 70.92,89.87 70.95,89.38 70.99,88.88 71.02,88.38 71.05,87.88 71.08,87.38 71.11,86.88 71.15,86.38 71.18,85.88 71.21,85.38 71.24,84.88 71.28,84.39 71.33,83.89 71.46,83.41 71.59,82.93 71.72,82.44 71.86,81.96 71.99,81.48 72.12,81 72.29,80.87 72.51,81.32 72.73,81.77 72.95,82.22 73.17,82.67 73.39,83.12 73.61,83.57 73.83,84.01 74.05,84.46 74.27,84.91 74.49,85.36 74.71,85.81 74.93,86.26 75.15,86.71 75.59,86.84 76.09,86.89 76.59,86.94 77.09,86.99 77.58,87.04 78.08,87.09 78.58,87.14 79.08,87.19 79.57,87.23 80.07,87.28 80.57,87.33 81.07,87.38 81.56,87.43 82.06,87.48 82.56,87.53 83.06,87.58 83.55,87.63 84.05,87.68 84.55,87.73 85.05,87.78 85.54,87.83 86.04,87.88 86.54,87.93 87.04,87.98 87.53,88.03 88.03,88.07 88.53,88.12 89.03,88.17 89.52,88.22 90.02,88.27 90.52,88.33 91.01,88.4 91.51,88.47 92,88.54 92.5,88.61 92.99,88.68 93.49,88.76 93.98,88.83 94.48,88.9 94.97,88.97 95.47,89.04 95.96,89.11 96.46,89.18 96.95,89.25 97.45,89.32 97.94,89.39 98.44,89.46 98.93,89.53 99.43,89.6 99.92,89.67 100.42,89.75 100.83,89.91 100.94,90.4 101.06,90.88 101.18,91.37 101.3,91.86 101.41,92.34 101.53,92.83 101.65,93.31 101.77,93.8 101.89,94.28 102,94.77 102.12,95.26 102.24,95.74 102.37,96.22 102.52,96.7 102.67,97.18 102.82,97.66 102.96,98.13 103.11,98.61 103.26,99.09 103.41,99.57 103.56,100.04 103.71,100.52 103.85,101 104,101.48 104.15,101.95 104.3,102.43 104.45,102.91 104.6,103.39 105.08,103.49 105.57,103.58 106.06,103.66 106.55,103.75 107.05,103.84 107.54,103.93 108.03,104.02 108.52,104.11 109.01,104.2 109.51,104.29 110,104.38 110.49,104.46 110.98,104.55 111.47,104.64 111.97,104.73 112.46,104.82 112.94,104.93 113.37,105.18 113.8,105.44 114.23,105.7 114.66,105.96 115.09,106.21 115.52,106.47 115.95,106.73 116.37,106.98 116.8,107.24 117.23,107.5 117.66,107.76 118.09,108.01 118.52,108.27 118.95,108.53 119.38,108.79 119.8,109.04 120.23,109.3 120.71,109.41 121.2,109.44 121.7,109.46 122.2,109.48 122.7,109.51 123.2,109.53 123.7,109.55 124.2,109.58 124.7,109.6 125.2,109.62 125.7,109.65 126.2,109.67 126.7,109.69 127.2,109.72 127.7,109.74 128.2,109.76 128.7,109.78 129.2,109.81 129.7,109.83 130.19,109.85 130.69,109.88 131.19,109.9 131.69,109.92 132.19,109.95 132.69,109.97 133.19,109.99 133.69,110.02 134.19,110.04 134.69,110.06 135.19,110.09 135.63,110.24 135.97,110.6 136.32,110.96 136.66,111.33 137.01,111.69 137.31,112.07 137.38,112.57 137.46,113.06 137.53,113.55 137.61,114.05 137.68,114.54 137.76,115.04 137.83,115.53 137.9,116.03 137.98,116.52 138.05,117.02 138.13,117.51 138.2,118 138.27,118.5 138.35,118.99 138.42,119.49 138.5,119.98 138.57,120.48 138.65,120.97 138.72,121.47 138.79,121.96 138.88,122.45 138.96,122.95 139.05,123.44 139.13,123.93 139.22,124.42 139.3,124.92 139.38,125.41 139.47,125.9 139.55,126.4 139.64,126.89 139.72,127.38 139.81,127.87 139.89,128.37 139.98,128.86 140.35,129.05 140.85,129.12 141.34,129.19 141.84,129.26 142.33,129.33 142.83,129.4 143.32,129.47 143.82,129.54 144.31,129.61 144.81,129.68 145.31,129.75 145.8,129.82 146.3,129.89 146.79,129.96 147.29,130.03 147.78,130.1 148.28,130.17 148.77,130.24 149.27,130.31 149.76,130.38 150.26,130.45 150.75,130.49 151.25,130.45 151.75,130.41 152.25,130.37 152.75,130.34 153.24,130.3 153.74,130.26 154.24,130.22 154.74,130.18 155.24,130.14 155.74,130.11 156.24,130.07 156.73,130.03 157.23,129.99 157.73,129.95 158.23,129.92 158.73,129.88 159.23,129.84 159.73,129.8 160.22,129.76 160.72,129.73 161.22,129.69 161.72,129.65 162.22,129.61 162.72,129.57 163.22,129.53 163.71,129.5 164.21,129.46 164.71,129.42 165.21,129.38 165.71,129.34 166.21,129.31 166.71,129.27 167.2,129.23 167.7,129.19 168.2,129.15 168.7,129.11 169.2,129.08 169.7,129.04 170.2,129 170.44,129.43 170.68,129.87 170.92,130.31 171.16,130.75 171.4,131.19 171.64,131.62 171.88,132.06 172.13,132.5 172.37,132.94 172.51,133.42 172.64,133.9 172.76,134.38 172.89,134.87 173.01,135.35 173.14,135.83 173.27,136.32 173.39,136.8 173.52,137.29 173.65,137.77 173.77,138.25 173.9,138.74 174.03,139.22 174.15,139.7 174.28,140.19 174.41,140.67 174.53,141.16 174.66,141.64 175.03,141.77 175.53,141.74 176.03,141.7 176.53,141.66 177.03,141.62 177.53,141.58 178.02,141.54 178.52,141.51 179.02,141.47 179.52,141.43 180.02,141.39 180.52,141.35 181.02,141.31 181.51,141.28 182.01,141.24 182.51,141.2 183.01,141.16 183.51,141.12 184.01,141.08 184.51,141.04 185,141 185.5,140.96 186,140.92 186.5,140.88 187,140.84 187.5,140.8 187.99,140.76 188.49,140.72 188.99,140.68 189.49,140.64 189.99,140.6 190.49,140.56 190.98,140.52 191.48,140.48 191.98,140.44 192.48,140.4 192.98,140.36 193.48,140.32 193.97,140.32 194.47,140.34 194.97,140.37 195.47,140.4 195.97,140.43 196.47,140.46 196.97,140.49 197.47,140.51 197.97,140.54 198.47,140.57 198.97,140.6 199.47,140.63 199.97,140.66 200.46,140.68 200.96,140.71 201.46,140.74 201.96,140.77 202.46,140.8 202.96,140.83 203.46,140.86 203.96,140.88 204.46,140.91 204.96,140.94 205.46,140.97 205.96,141 206.17,141.42 206.35,141.89 206.54,142.35 206.73,142.82 206.91,143.28 207.1,143.74 207.28,144.21 207.47,144.67 207.65,145.14 207.8,145.62 207.95,146.09 208.1,146.57 208.26,147.04 208.41,147.52 208.56,148 208.72,148.47 208.87,148.95 209.02,149.42 209.18,149.9 209.33,150.38 209.66,150.6 210.16,150.6 210.66,150.6 211.16,150.6 211.66,150.6 212.16,150.6 212.66,150.6 213.16,150.6 213.66,150.6 214.16,150.6 214.66,150.6 215.16,150.6 215.66,150.6 216.16,150.6 216.66,150.6 217.16,150.6 217.66,150.6 218.16,150.6 218.66,150.6 219.16,150.6 219.66,150.6 220.16,150.6 220.66,150.6 221.16,150.61 221.66,150.62 222.16,150.64 222.66,150.66 223.16,150.68 223.66,150.7 224.16,150.72 224.66,150.73 225.16,150.75 225.66,150.77 226.16,150.79 226.66,150.81 227.16,150.82 227.66,150.84 228.16,150.86 228.66,150.88 229.16,150.9 229.66,150.92 230.16,150.93 230.66,150.95 231.16,150.97 231.66,150.99 232.16,151.01 232.66,151.03 233.16,151.04 233.66,151.06 234.16,151.08 234.66,151.1 235.16,151.12 235.66,151.13 236.15,151.15 236.65,151.17 237.15,151.19 237.65,151.21 238.15,151.23 238.65,151.24 239.15,151.26 239.65,151.28 240.15,151.3 240.4,151.71 240.61,152.16 240.83,152.61 241.05,153.06 241.26,153.51 241.48,153.96 241.63,154.44 241.77,154.92 241.91,155.4 242.05,155.88 242.19,156.36 242.33,156.84 242.47,157.32 242.61,157.8 242.75,158.28 242.89,158.76 243.36,158.8 243.86,158.8 244.36,158.8 244.86,158.8 245.36,158.8 245.86,158.8 246.36,158.8 246.86,158.8 247.36,158.8 247.86,158.8 248.36,158.8 248.86,158.8 249.36,158.8 249.86,158.8 250.36,158.8 250.86,158.8 251.36,158.8 251.86,158.8 252.36,158.8 252.86,158.8 253.36,158.8 253.86,158.8 254.36,158.8 254.86,158.8 255.36,158.8 255.86,158.8 256.36,158.8 256.86,158.8 257.36,158.8 257.86,158.8 258.36,158.8 258.86,158.8 259.36,158.8 259.86,158.8 260.36,158.8 260.86,158.8 261.36,158.8 261.86,158.8 262.35,158.76 262.85,158.71 263.35,158.66 263.85,158.61 264.34,158.56 264.84,158.51 265.34,158.46 265.84,158.41 266.33,158.36 266.83,158.31 267.33,158.26 267.83,158.2 268.32,158.15 268.82,158.1 269.32,158.05 269.81,158 270.31,157.95 270.81,157.9 271.31,157.85 271.8,157.8 272.3,157.75 272.8,157.7 273.3,157.65 273.79,157.59 274.29,157.54 274.79,157.49 275.29,157.44 275.73,157.48 275.91,157.94 276.09,158.41 276.27,158.88 276.46,159.34 276.64,159.81 276.82,160.27 277,160.74 277.2,161.2 277.42,161.65 277.65,162.09 277.87,162.54 278.09,162.99 278.32,163.43 278.71,163.54 279.2,163.45 279.69,163.35 280.18,163.26 280.67,163.17 281.16,163.07 281.66,162.98 282.15,162.88 282.64,162.79 283.13,162.7 283.62,162.6 284.11,162.51 284.6,162.42 285.09,162.32 285.58,162.23 286.08,162.13 286.57,162.04 287.06,161.95 287.55,161.85 288.04,161.76 288.53,161.67 289.02,161.57 289.51,161.52 290,161.62 290.49,161.73 290.98,161.83 291.47,161.93 291.96,162.03 292.45,162.13 292.94,162.23 293.43,162.33 293.92,162.43 294.41,162.53 294.9,162.63 295.39,162.73 295.88,162.83 296.37,162.93 296.86,163.04 297.35,163.14 297.84,163.24 298.33,163.34 298.82,163.44 299.31,163.54 299.8,163.64 300.29,163.74 300.78,163.84 301.27,163.94 301.76,164.04 302.25,164.14 302.74,164.25 303.19,164.17 303.61,163.9 304.03,163.62 304.44,163.35 304.86,163.07 305.28,162.79 305.69,162.52 306.11,162.24 306.53,161.97 306.95,161.69 307.36,161.41 307.78,161.14 308.2,160.86 308.61,160.59 309.03,160.31 309.29,160.48 309.45,160.96 309.61,161.43 309.77,161.91 309.93,162.38 310.08,162.85 310.24,163.33 310.4,163.8 310.56,164.28 310.72,164.75 310.84,165.24 310.92,165.73 311,166.22 311.07,166.72 311.15,167.21 311.23,167.7 311.31,168.2 311.39,168.69 311.47,169.18 311.55,169.68 311.63,170.17 311.71,170.67 311.79,171.16 311.86,171.65 311.94,172.15 312.02,172.64 312.1,173.13 312.18,173.63 312.26,174.12 312.34,174.62 312.43,175.11 312.57,175.59 312.7,176.07 312.84,176.55 312.97,177.03 313.11,177.51 313.24,178 313.38,178.48 313.51,178.96 313.65,179.44 313.78,179.92 313.92,180.4 314.17,180.78 314.62,181 315.07,181.22 315.52,181.43 315.97,181.65 316.42,181.87 316.85,181.88 317.25,181.58 317.65,181.27" fill="none" stroke="#5b9bd5" stroke-width="2.6" stroke-linejoin="round"/>
<path d="M48.2 60.96h0 M48.7 62.08h0 M49.2 60.85h0 M49.7 63.52h0 M50.2 64.14h0 M50.7 58.48h0 M51.2 62.6h0 M51.7 56.31h0 M52.2 64.25h0 M52.7 68.77h0 M53.2 65.47h0 M53.7 65.3h0 M54.2 65.76h0 M54.7 63h0 M55.2 59.88h0 M55.7 61.09h0 M56.2 68.03h0 M56.7 60.15h0 M57.2 57.79h0 M57.7 58.8h0 M58.2 61.04h0 M58.7 62.88h0 M59.2 61.98h0 M59.7 63.78h0 M60.2 61.1h0 M60.7 60.19h0 M61.2 60.93h0 M61.7 55.71h0 M62.2 62.17h0 M62.7 65.75h0 M63.2 63.44h0 M63.7 61.21h0 M64.2 60.51h0 M64.7 60.75h0 M65.2 63.9h0 M65.7 61.02h0 M66.2 59.62h0 M66.7 66.26h0 M67.2 69.1h0 M67.7 78.56h0 M68.2 83.97h0 M68.7 90.55h0 M69.2 96.77h0 M69.7 96.28h0 M70.2 96.68h0 M70.7 95.45h0 M71.2 83.41h0 M71.7 79.66h0 M72.2 81.95h0 M72.7 80.31h0 M73.2 83.38h0 M73.7 84h0 M74.2 85.06h0 M74.7 84.83h0 M75.2 84.49h0 M75.7 85.55h0 M76.2 92.98h0 M76.7 84.18h0 M77.2 89.86h0 M77.7 84.33h0 M78.2 87.87h0 M78.7 86.66h0 M79.2 83.22h0 M79.7 84.26h0 M80.2 85.6h0 M80.7 87.75h0 M81.2 87.76h0 M81.7 84.74h0 M82.2 86.05h0 M82.7 89.78h0 M83.2 88.85h0 M83.7 92.47h0 M84.2 84.11h0 M84.7 91.52h0 M85.2 86.86h0 M85.7 88h0 M86.2 87.95h0 M86.7 84.34h0 M87.2 92.04h0 M87.7 85.03h0 M88.2 85.66h0 M88.7 89.01h0 M89.2 89.6h0 M89.7 90.33h0 M90.2 82.55h0 M90.7 93.34h0 M91.2 89.97h0 M91.7 91.2h0 M92.2 88.77h0 M92.7 85.9h0 M93.2 85.11h0 M93.7 88.54h0 M94.2 90.09h0 M94.7 91.51h0 M95.2 87.55h0 M95.7 91.06h0 M96.2 92.16h0 M96.7 89.32h0 M97.2 95.76h0 M97.7 88.7h0 M98.2 92.78h0 M98.7 87.08h0 M99.2 91.43h0 M99.7 88.44h0 M100.2 86.36h0 M100.7 91.24h0 M101.2 92.72h0 M101.7 98.18h0 M102.2 92.53h0 M102.7 96.29h0 M103.2 95.07h0 M103.7 99.86h0 M104.2 99.17h0 M104.7 102.96h0 M105.2 101.19h0 M105.7 105.22h0 M106.2 100.01h0 M106.7 101.79h0 M107.2 104.11h0 M107.7 103.07h0 M108.2 101.38h0 M108.7 100.48h0 M109.2 101.64h0 M109.7 101.46h0 M110.2 102.62h0 M110.7 105.49h0 M111.2 104.98h0 M111.7 105.77h0 M112.2 108.62h0 M112.7 107.5h0 M113.2 102.97h0 M113.7 103.85h0 M114.2 105.34h0 M114.7 106.21h0 M115.2 111.18h0 M115.7 104.48h0 M116.2 107.74h0 M116.7 109.95h0 M117.2 111.16h0 M117.7 109.73h0 M118.2 111.15h0 M118.7 105.35h0 M119.2 106.23h0 M119.7 110.67h0 M120.2 109.08h0 M120.7 106.84h0 M121.2 106.67h0 M121.7 112.12h0 M122.2 109.82h0 M122.7 108.46h0 M123.2 112.87h0 M123.7 108.48h0 M124.2 112.83h0 M124.7 113.07h0 M125.2 111.78h0 M125.7 109.08h0 M126.2 107.68h0 M126.7 109.79h0 M127.2 108.45h0 M127.7 104.81h0 M128.2 110.47h0 M128.7 109.44h0 M129.2 107.41h0 M129.7 112.32h0 M130.2 109.41h0 M130.7 110.5h0 M131.2 114.21h0 M131.7 113.73h0 M132.2 108.91h0 M132.7 111.39h0 M133.2 106.52h0 M133.7 109.39h0 M134.2 109.19h0 M134.7 113.06h0 M135.2 108.54h0 M135.7 109.32h0 M136.2 113.36h0 M136.7 111.92h0 M137.2 109.13h0 M137.7 118.88h0 M138.2 114.88h0 M138.7 121.54h0 M139.2 123.31h0 M139.7 126.49h0 M140.2 131.14h0 M140.7 128.08h0 M141.2 126.42h0 M141.7 124.93h0 M142.2 127.18h0 M142.7 128.76h0 M143.2 130.25h0 M143.7 131.04h0 M144.2 126.77h0 M144.7 128.99h0 M145.2 127.74h0 M145.7 124.05h0 M146.2 130.2h0 M146.7 129.29h0 M147.2 130.45h0 M147.7 126.57h0 M148.2 135.28h0 M148.7 133.31h0 M149.2 133.12h0 M149.7 130.84h0 M150.2 128.41h0 M150.7 125.22h0 M151.2 126.1h0 M151.7 130.67h0 M152.2 127.24h0 M152.7 131.43h0 M153.2 128.76h0 M153.7 130.01h0 M154.2 131.73h0 M154.7 128.96h0 M155.2 128.7h0 M155.7 132.54h0 M156.2 130.11h0 M156.7 132.95h0 M157.2 130.1h0 M157.7 132.42h0 M158.2 130.23h0 M158.7 124.48h0 M159.2 126.8h0 M159.7 135.26h0 M160.2 125.69h0 M160.7 134.71h0 M161.2 129.86h0 M161.7 124.08h0 M162.2 124.65h0 M162.7 135.68h0 M163.2 132.41h0 M163.7 131.34h0 M164.2 134.74h0 M164.7 130.3h0 M165.2 128.08h0 M165.7 132.26h0 M166.2 123.85h0 M166.7 132.03h0 M167.2 125.75h0 M167.7 131.03h0 M168.2 131.56h0 M168.7 132.14h0 M169.2 129.4h0 M169.7 128.62h0 M170.2 128.33h0 M170.7 124.32h0 M171.2 131.45h0 M171.7 130.74h0 M172.2 134.76h0 M172.7 127.27h0 M173.2 135.14h0 M173.7 133.34h0 M174.2 141.02h0 M174.7 138.91h0 M175.2 142.34h0 M175.7 136.44h0 M176.2 140.01h0 M176.7 144.52h0 M177.2 134.93h0 M177.7 141.87h0 M178.2 142.09h0 M178.7 142.52h0 M179.2 142.58h0 M179.7 138.29h0 M180.2 142.56h0 M180.7 139.07h0 M181.2 137.44h0 M181.7 143.12h0 M182.2 141.96h0 M182.7 137.56h0 M183.2 142.47h0 M183.7 139.32h0 M184.2 142.38h0 M184.7 142.34h0 M185.2 142.31h0 M185.7 140.61h0 M186.2 142.53h0 M186.7 134.77h0 M187.2 142.93h0 M187.7 142.81h0 M188.2 139.07h0 M188.7 137.87h0 M189.2 138.06h0 M189.7 133.57h0 M190.2 139.7h0 M190.7 146.48h0 M191.2 137.48h0 M191.7 138.44h0 M192.2 139.14h0 M192.7 141.12h0 M193.2 141.55h0 M193.7 138.78h0 M194.2 141.9h0 M194.7 140.77h0 M195.2 143.46h0 M195.7 141.4h0 M196.2 136.29h0 M196.7 136.07h0 M197.2 139.61h0 M197.7 144.59h0 M198.2 144.64h0 M198.7 136.55h0 M199.2 140.04h0 M199.7 141.22h0 M200.2 135.07h0 M200.7 139h0 M201.2 137.84h0 M201.7 139.05h0 M202.2 138.13h0 M202.7 139.06h0 M203.2 144.74h0 M203.7 141.17h0 M204.2 142.46h0 M204.7 144.26h0 M205.2 143.02h0 M205.7 138.2h0 M206.2 146.08h0 M206.7 142.03h0 M207.2 146.93h0 M207.7 147.57h0 M208.2 144.81h0 M208.7 141.77h0 M209.2 146.98h0 M209.7 147.97h0 M210.2 145.29h0 M210.7 140.24h0 M211.2 148.43h0 M211.7 146.32h0 M212.2 152.9h0 M212.7 147.11h0 M213.2 150.04h0 M213.7 153.35h0 M214.2 145.38h0 M214.7 154.23h0 M215.2 149.54h0 M215.7 153.13h0 M216.2 144.95h0 M216.7 155.06h0 M217.2 154.44h0 M217.7 151.99h0 M218.2 144.72h0 M218.7 152.37h0 M219.2 150.09h0 M219.7 143.84h0 M220.2 152.46h0 M220.7 145.22h0 M221.2 149.28h0 M221.7 146.21h0 M222.2 143.61h0 M222.7 146.37h0 M223.2 154.42h0 M223.7 150.12h0 M224.2 152.82h0 M224.7 153.33h0 M225.2 151.18h0 M225.7 151.66h0 M226.2 148.77h0 M226.7 148.96h0 M227.2 153.38h0 M227.7 149.44h0 M228.2 152.37h0 M228.7 156.46h0 M229.2 150.83h0 M229.7 148.74h0 M230.2 151.74h0 M230.7 149.95h0 M231.2 145.87h0 M231.7 149.51h0 M232.2 150.83h0 M232.7 150.8h0 M233.2 152h0 M233.7 152.44h0 M234.2 150.58h0 M234.7 147.72h0 M235.2 153.62h0 M235.7 148.09h0 M236.2 147.47h0 M236.7 146.38h0 M237.2 151.9h0 M237.7 151.95h0 M238.2 150.44h0 M238.7 146.78h0 M239.2 150.01h0 M239.7 146.9h0 M240.2 152.51h0 M240.7 150.3h0 M241.2 153.09h0 M241.7 154.63h0 M242.2 158.73h0 M242.7 160.13h0 M243.2 158.54h0 M243.7 162.42h0 M244.2 164.77h0 M244.7 160.69h0 M245.2 159.03h0 M245.7 159.21h0 M246.2 155.13h0 M246.7 158.43h0 M247.2 158.45h0 M247.7 164.18h0 M248.2 159.24h0 M248.7 164.09h0 M249.2 156.54h0 M249.7 157.83h0 M250.2 159h0 M250.7 161.87h0 M251.2 159.26h0 M251.7 153.14h0 M252.2 157.82h0 M252.7 159.9h0 M253.2 164.19h0 M253.7 161.4h0 M254.2 151.46h0 M254.7 160.05h0 M255.2 155.21h0 M255.7 160.68h0 M256.2 157.91h0 M256.7 155.83h0 M257.2 160.35h0 M257.7 158.74h0 M258.2 162.31h0 M258.7 157.67h0 M259.2 157.92h0 M259.7 159.39h0 M260.2 156.91h0 M260.7 158.23h0 M261.2 155.92h0 M261.7 165.24h0 M262.2 161.08h0 M262.7 156.26h0 M263.2 158.43h0 M263.7 159.47h0 M264.2 151.74h0 M264.7 159.69h0 M265.2 155.87h0 M265.7 162.56h0 M266.2 161.81h0 M266.7 157.84h0 M267.2 159.5h0 M267.7 163.35h0 M268.2 157.55h0 M268.7 158.17h0 M269.2 159.46h0 M269.7 157.78h0 M270.2 157.88h0 M270.7 152.49h0 M271.2 160.26h0 M271.7 164.62h0 M272.2 155.96h0 M272.7 157.87h0 M273.2 164.18h0 M273.7 159.23h0 M274.2 157.5h0 M274.7 158.4h0 M275.2 158.65h0 M275.7 158.73h0 M276.2 164.08h0 M276.7 154.65h0 M277.2 162.89h0 M277.7 165.51h0 M278.2 160.4h0 M278.7 166.1h0 M279.2 160.35h0 M279.7 162.89h0 M280.2 164.94h0 M280.7 160.72h0 M281.2 166.08h0 M281.7 166.1h0 M282.2 164.13h0 M282.7 160.77h0 M283.2 163.36h0 M283.7 161.52h0 M284.2 160.61h0 M284.7 163.28h0 M285.2 163.9h0 M285.7 158.65h0 M286.2 165.55h0 M286.7 160.33h0 M287.2 160.34h0 M287.7 165.31h0 M288.2 161.42h0 M288.7 162.46h0 M289.2 156.31h0 M289.7 162.52h0 M290.2 160.65h0 M290.7 159.38h0 M291.2 160.76h0 M291.7 157.35h0 M292.2 157.76h0 M292.7 160.97h0 M293.2 162.56h0 M293.7 162.36h0 M294.2 159.88h0 M294.7 163.09h0 M295.2 163.31h0 M295.7 158.01h0 M296.2 163.08h0 M296.7 160.21h0 M297.2 160.32h0 M297.7 169.2h0 M298.2 163.52h0 M298.7 163.69h0 M299.2 164.68h0 M299.7 164.68h0 M300.2 163.37h0 M300.7 164.08h0 M301.2 169.52h0 M301.7 163.42h0 M302.2 158.88h0 M302.7 165.99h0 M303.2 164.5h0 M303.7 166.5h0 M304.2 169.91h0 M304.7 157.92h0 M305.2 165.98h0 M305.7 158.16h0 M306.2 158.83h0 M306.7 157.17h0 M307.2 161.04h0 M307.7 161.21h0 M308.2 165.8h0 M308.7 158.92h0 M309.2 157.31h0 M309.7 160.59h0 M310.2 164.14h0 M310.7 163.02h0 M311.2 165.11h0 M311.7 174.59h0 M312.2 177.52h0 M312.7 175.96h0 M313.2 181.68h0 M313.7 177.2h0 M314.2 177.26h0 M314.7 180.78h0 M315.2 180.09h0 M315.7 173.91h0 M316.2 176.98h0 M316.7 183.06h0 M317.2 180.19h0 M317.7 184.73h0" stroke="#5b9bd5" stroke-width="1.6" stroke-linecap="round" fill="none"/>
<line x1="375.3" y1="17" x2="375.3" y2="292.1" stroke="#a8a8a8" stroke-width="1.7"/>
<line x1="649.4" y1="17" x2="649.4" y2="292.1" stroke="#a8a8a8" stroke-width="1.7"/>
<line x1="374.7" y1="17.6" x2="650.3" y2="17.6" stroke="#747474" stroke-width="1.35"/>
<line x1="374.7" y1="291.5" x2="650.3" y2="291.5" stroke="#747474" stroke-width="1.35"/>
<line x1="371.3" y1="17.6" x2="375.3" y2="17.6" stroke="#747474" stroke-width="1.35"/>
<line x1="371.3" y1="72.38" x2="375.3" y2="72.38" stroke="#747474" stroke-width="1.35"/>
<line x1="371.3" y1="127.16" x2="375.3" y2="127.16" stroke="#747474" stroke-width="1.35"/>
<line x1="371.3" y1="181.94" x2="375.3" y2="181.94" stroke="#747474" stroke-width="1.35"/>
<line x1="371.3" y1="236.72" x2="375.3" y2="236.72" stroke="#747474" stroke-width="1.35"/>
<line x1="371.3" y1="291.5" x2="375.3" y2="291.5" stroke="#747474" stroke-width="1.35"/>
<line x1="375.3" y1="291.5" x2="375.3" y2="296.5" stroke="#a8a8a8" stroke-width="1.7"/>
<line x1="430.12" y1="291.5" x2="430.12" y2="296.5" stroke="#a8a8a8" stroke-width="1.7"/>
<line x1="484.94" y1="291.5" x2="484.94" y2="296.5" stroke="#a8a8a8" stroke-width="1.7"/>
<line x1="539.76" y1="291.5" x2="539.76" y2="296.5" stroke="#a8a8a8" stroke-width="1.7"/>
<line x1="594.58" y1="291.5" x2="594.58" y2="296.5" stroke="#a8a8a8" stroke-width="1.7"/>
<line x1="649.4" y1="291.5" x2="649.4" y2="296.5" stroke="#a8a8a8" stroke-width="1.7"/>
<text x="359.45" y="21.4" font-family="Liberation Sans" font-size="14.75" font-weight="bold" textLength="5.54" lengthAdjust="spacingAndGlyphs">2</text>
<text x="351.1" y="76.04" font-family="Liberation Sans" font-size="14.75" font-weight="bold" textLength="13.86" lengthAdjust="spacingAndGlyphs">1.6</text>
<text x="351.14" y="130.96" font-family="Liberation Sans" font-size="14.75" font-weight="bold" textLength="13.86" lengthAdjust="spacingAndGlyphs">1.2</text>
<text x="351.05" y="185.6" font-family="Liberation Sans" font-size="14.75" font-weight="bold" textLength="13.86" lengthAdjust="spacingAndGlyphs">0.8</text>
<text x="350.79" y="240.38" font-family="Liberation Sans" font-size="14.75" font-weight="bold" textLength="13.86" lengthAdjust="spacingAndGlyphs">0.4</text>
<text x="359.46" y="295.16" font-family="Liberation Sans" font-size="14.75" font-weight="bold" textLength="5.54" lengthAdjust="spacingAndGlyphs">0</text>
<text x="372.45" y="319.68" font-family="Liberation Sans" font-size="16.03" font-weight="bold" textLength="5.72" lengthAdjust="spacingAndGlyphs">0</text>
<text x="424.45" y="319.68" font-family="Liberation Sans" font-size="16.03" font-weight="bold" textLength="11.44" lengthAdjust="spacingAndGlyphs">50</text>
<text x="476.25" y="319.68" font-family="Liberation Sans" font-size="16.03" font-weight="bold" textLength="17.16" lengthAdjust="spacingAndGlyphs">100</text>
<text x="531.07" y="319.68" font-family="Liberation Sans" font-size="16.03" font-weight="bold" textLength="17.16" lengthAdjust="spacingAndGlyphs">150</text>
<text x="586.03" y="319.68" font-family="Liberation Sans" font-size="16.03" font-weight="bold" textLength="17.16" lengthAdjust="spacingAndGlyphs">200</text>
<text x="640.85" y="319.68" font-family="Liberation Sans" font-size="16.03" font-weight="bold" textLength="17.16" lengthAdjust="spacingAndGlyphs">250</text>
<text x="486.89" y="342.4" font-family="Liberation Sans" font-size="15.7" font-weight="bold" textLength="50.71" lengthAdjust="spacingAndGlyphs">Time (min)</text>
<text transform="translate(346.8,264) rotate(-90)" x="0" y="0" font-family="Liberation Sans" font-size="9.74" font-weight="normal" textLength="207.25" lengthAdjust="spacingAndGlyphs" style="stroke-width:0.5px">Initiator flow rate (ml/min)</text>
<polyline points="375.3,61.7 408.19,61.7 408.19,80.6 441.08,80.6 441.08,101.96 473.98,101.96 473.98,125.93 506.87,125.93 506.87,155.37 539.76,155.37 539.76,197 572.65,197 572.65,256.58 605.54,256.58 605.54,274.24 638.44,274.24 638.44,290.68 649.4,290.68" fill="none" stroke="#5b9bd5" stroke-width="2"/>
<line x1="719.6" y1="22" x2="719.6" y2="291.6" stroke="#a8a8a8" stroke-width="1.7"/>
<line x1="1003.9" y1="22" x2="1003.9" y2="291.6" stroke="#a8a8a8" stroke-width="1.7"/>
<line x1="719" y1="22.6" x2="1004.8" y2="22.6" stroke="#747474" stroke-width="1.35"/>
<line x1="719" y1="291" x2="1004.8" y2="291" stroke="#747474" stroke-width="1.35"/>
<line x1="715.6" y1="22.6" x2="719.6" y2="22.6" stroke="#747474" stroke-width="1.35"/>
<line x1="715.6" y1="76.28" x2="719.6" y2="76.28" stroke="#747474" stroke-width="1.35"/>
<line x1="715.6" y1="129.96" x2="719.6" y2="129.96" stroke="#747474" stroke-width="1.35"/>
<line x1="715.6" y1="183.64" x2="719.6" y2="183.64" stroke="#747474" stroke-width="1.35"/>
<line x1="715.6" y1="237.32" x2="719.6" y2="237.32" stroke="#747474" stroke-width="1.35"/>
<line x1="715.6" y1="291" x2="719.6" y2="291" stroke="#747474" stroke-width="1.35"/>
<line x1="719.6" y1="291" x2="719.6" y2="296" stroke="#a8a8a8" stroke-width="1.7"/>
<line x1="776.46" y1="291" x2="776.46" y2="296" stroke="#a8a8a8" stroke-width="1.7"/>
<line x1="833.32" y1="291" x2="833.32" y2="296" stroke="#a8a8a8" stroke-width="1.7"/>
<line x1="890.18" y1="291" x2="890.18" y2="296" stroke="#a8a8a8" stroke-width="1.7"/>
<line x1="947.04" y1="291" x2="947.04" y2="296" stroke="#a8a8a8" stroke-width="1.7"/>
<line x1="1003.9" y1="291" x2="1003.9" y2="296" stroke="#a8a8a8" stroke-width="1.7"/>
<text x="702.92" y="27.98" font-family="Liberation Sans" font-size="16.03" font-weight="bold" textLength="5.98" lengthAdjust="spacingAndGlyphs">1</text>
<text x="693.97" y="81.5" font-family="Liberation Sans" font-size="16.03" font-weight="bold" textLength="14.96" lengthAdjust="spacingAndGlyphs">0.8</text>
<text x="694.03" y="135.18" font-family="Liberation Sans" font-size="16.03" font-weight="bold" textLength="14.96" lengthAdjust="spacingAndGlyphs">0.6</text>
<text x="693.7" y="188.86" font-family="Liberation Sans" font-size="16.03" font-weight="bold" textLength="14.96" lengthAdjust="spacingAndGlyphs">0.4</text>
<text x="694.07" y="242.54" font-family="Liberation Sans" font-size="16.03" font-weight="bold" textLength="14.96" lengthAdjust="spacingAndGlyphs">0.2</text>
<text x="703.06" y="296.22" font-family="Liberation Sans" font-size="16.03" font-weight="bold" textLength="5.98" lengthAdjust="spacingAndGlyphs">0</text>
<text x="716.72" y="320.46" font-family="Liberation Sans" font-size="16.03" font-weight="bold" textLength="5.77" lengthAdjust="spacingAndGlyphs">0</text>
<text x="770.74" y="320.46" font-family="Liberation Sans" font-size="16.03" font-weight="bold" textLength="11.54" lengthAdjust="spacingAndGlyphs">50</text>
<text x="824.55" y="320.46" font-family="Liberation Sans" font-size="16.03" font-weight="bold" textLength="17.32" lengthAdjust="spacingAndGlyphs">100</text>
<text x="881.41" y="320.46" font-family="Liberation Sans" font-size="16.03" font-weight="bold" textLength="17.32" lengthAdjust="spacingAndGlyphs">150</text>
<text x="938.42" y="320.46" font-family="Liberation Sans" font-size="16.03" font-weight="bold" textLength="17.32" lengthAdjust="spacingAndGlyphs">200</text>
<text x="995.28" y="320.46" font-family="Liberation Sans" font-size="16.03" font-weight="bold" textLength="17.32" lengthAdjust="spacingAndGlyphs">250</text>
<text x="835.89" y="342.4" font-family="Liberation Sans" font-size="15.41" font-weight="bold" textLength="50.71" lengthAdjust="spacingAndGlyphs">Time (min)</text>
<text transform="translate(676,280.19) rotate(-90)" x="0" y="0" font-family="Liberation Sans" font-size="9.88" font-weight="normal" textLength="221.32" lengthAdjust="spacingAndGlyphs" style="stroke-width:0.5px">Monomer flow rate (ml/min)</text>
<polyline points="719.6,38.44 753.72,38.44 753.72,65.95 787.83,65.95 787.83,90.24 821.95,90.24 821.95,114.39 856.06,114.39 856.06,136.67 890.18,136.67 890.18,161.9 924.3,161.9 924.3,173.71 958.41,173.71 958.41,163.24 992.53,163.24 992.53,224.97 1003.9,224.97" fill="none" stroke="#5b9bd5" stroke-width="2"/>
<text x="494.4" y="377.96" font-family="Liberation Serif" font-size="27.9" font-weight="normal" textLength="8.3" lengthAdjust="spacingAndGlyphs" style="stroke:none">(</text>
<text x="503.77" y="377.44" font-family="Liberation Serif" font-size="26.3" font-weight="bold" textLength="12.81" lengthAdjust="spacingAndGlyphs" style="stroke:none">a</text>
<text x="518.12" y="377.96" font-family="Liberation Serif" font-size="27.9" font-weight="normal" textLength="8.04" lengthAdjust="spacingAndGlyphs" style="stroke:none">)</text>
<line x1="49.8" y1="408.3" x2="49.8" y2="691.4" stroke="#a8a8a8" stroke-width="1.7"/>
<line x1="318.4" y1="408.3" x2="318.4" y2="691.4" stroke="#a8a8a8" stroke-width="1.7"/>
<line x1="49.2" y1="408.9" x2="319.3" y2="408.9" stroke="#747474" stroke-width="1.35"/>
<line x1="49.2" y1="690.8" x2="319.3" y2="690.8" stroke="#747474" stroke-width="1.35"/>
<line x1="45.8" y1="408.9" x2="49.8" y2="408.9" stroke="#747474" stroke-width="1.35"/>
<line x1="45.8" y1="479.38" x2="49.8" y2="479.38" stroke="#747474" stroke-width="1.35"/>
<line x1="45.8" y1="549.85" x2="49.8" y2="549.85" stroke="#747474" stroke-width="1.35"/>
<line x1="45.8" y1="620.32" x2="49.8" y2="620.32" stroke="#747474" stroke-width="1.35"/>
<line x1="45.8" y1="690.8" x2="49.8" y2="690.8" stroke="#747474" stroke-width="1.35"/>
<line x1="49.8" y1="690.8" x2="49.8" y2="696.8" stroke="#a8a8a8" stroke-width="1.7"/>
<line x1="103.52" y1="690.8" x2="103.52" y2="696.8" stroke="#a8a8a8" stroke-width="1.7"/>
<line x1="157.24" y1="690.8" x2="157.24" y2="696.8" stroke="#a8a8a8" stroke-width="1.7"/>
<line x1="210.96" y1="690.8" x2="210.96" y2="696.8" stroke="#a8a8a8" stroke-width="1.7"/>
<line x1="264.68" y1="690.8" x2="264.68" y2="696.8" stroke="#a8a8a8" stroke-width="1.7"/>
<line x1="318.4" y1="690.8" x2="318.4" y2="696.8" stroke="#a8a8a8" stroke-width="1.7"/>
<text x="24.58" y="414.08" font-family="Liberation Sans" font-size="17.8" font-weight="bold" textLength="14.64" lengthAdjust="spacingAndGlyphs">0.8</text>
<text x="24.64" y="484.55" font-family="Liberation Sans" font-size="17.8" font-weight="bold" textLength="14.64" lengthAdjust="spacingAndGlyphs">0.6</text>
<text x="24.32" y="555.03" font-family="Liberation Sans" font-size="17.8" font-weight="bold" textLength="14.64" lengthAdjust="spacingAndGlyphs">0.4</text>
<text x="24.68" y="625.5" font-family="Liberation Sans" font-size="17.8" font-weight="bold" textLength="14.64" lengthAdjust="spacingAndGlyphs">0.2</text>
<text x="33.47" y="695.98" font-family="Liberation Sans" font-size="17.8" font-weight="bold" textLength="5.86" lengthAdjust="spacingAndGlyphs">0</text>
<text x="47.2" y="723.02" font-family="Liberation Sans" font-size="18.26" font-weight="bold" textLength="5.82" lengthAdjust="spacingAndGlyphs">0</text>
<text x="98.05" y="723.02" font-family="Liberation Sans" font-size="18.26" font-weight="bold" textLength="11.64" lengthAdjust="spacingAndGlyphs">50</text>
<text x="148.7" y="723.02" font-family="Liberation Sans" font-size="18.26" font-weight="bold" textLength="17.46" lengthAdjust="spacingAndGlyphs">100</text>
<text x="202.42" y="723.02" font-family="Liberation Sans" font-size="18.26" font-weight="bold" textLength="17.46" lengthAdjust="spacingAndGlyphs">150</text>
<text x="256.28" y="723.02" font-family="Liberation Sans" font-size="18.26" font-weight="bold" textLength="17.46" lengthAdjust="spacingAndGlyphs">200</text>
<text x="310" y="723.02" font-family="Liberation Sans" font-size="18.26" font-weight="bold" textLength="17.46" lengthAdjust="spacingAndGlyphs">250</text>
<text x="158.59" y="742.6" font-family="Liberation Sans" font-size="17.01" font-weight="bold" textLength="51.02" lengthAdjust="spacingAndGlyphs">Time (min)</text>
<text transform="translate(18.5,600.75) rotate(-90)" x="0" y="0" font-family="Liberation Sans" font-size="9.31" font-weight="normal" textLength="94.97" lengthAdjust="spacingAndGlyphs" style="stroke-width:0.5px">Conversion</text>
<path d="M51.43 687.61 L52.42 687.61 L52.35 687.14 L52.12 686.6 L51.4 685.85 L51.34 685.38 L52.89 685.63 L53.33 685.39 L53.51 685.03 L52.33 684.07 L53.98 684.36 L53.14 683.55 L53.89 683.45 L54.07 683.09 L53.45 682.38 L53.75 682.07 L52.96 681.29 L53.86 681.25 L53.46 680.63 L55.06 680.9 L54.98 680.43 L55.68 680.3 L55.49 679.78 L55.02 679.13 L55.81 679.05 L55.5 678.47 L56.32 678.4 L56.33 677.97 L55.69 677.25 L56.52 677.18 L56.75 676.84 L56.71 676.39 L57.68 676.38 L58.39 676.26 L57.26 675.32 L57.47 674.97 L56.45 674.08 L58 674.33 L58 673.9 L57.09 673.05 L58.85 673.4 L59.24 673.14 L58.59 672.41 L59.02 672.16 L58.84 671.64 L60.14 671.79 L58.88 670.79 L59.84 670.78 L61.49 671.08 L60.47 670.19 L60.93 669.96 L60.74 669.43 L60.28 668.79 L61.2 668.77 L61.68 668.55 L60.97 667.79 L62.04 667.83 L62.81 667.75 L62.9 667.35 L61.41 666.23 L61.99 666.06 L61.78 665.53 L63.69 665.96 L63.6 665.48 L63.86 665.16 L63.05 664.35 L63.07 663.92 L64.06 663.94 L64.27 663.6 L63.87 662.98 L64.7 662.92 L65.22 662.73 L65.16 662.26 L64.55 661.54 L64.08 660.87 L65.44 661.08 L65.88 660.85 L65.78 660.36 L65.84 659.95 L65.85 659.51 L66.91 659.58 L66.59 658.99 L66.88 658.68 L66.36 657.99 L66.75 657.74 L67.42 657.63 L66.86 656.91 L66.87 656.48 L67.63 656.41 L68.77 656.52 L68.31 655.86 L69.28 655.89 L68.45 655.05 L68.52 654.64 L68.02 653.94 L68.71 653.84 L70.14 654.12 L69.63 653.42 L70.06 653.2 L70.22 652.84 L69.95 652.26 L70.01 651.85 L70.4 651.6 L70.92 651.43 L70.97 651.01 L71.17 650.67 L71.15 650.21 L70.76 649.56 L71.26 649.38 L71.02 648.81 L72.41 649.1 L70.68 647.73 L72.03 648 L73.82 648.53 L72.33 647.27 L72.03 646.66 L72.91 646.69 L73.9 646.78 L73.2 645.95 L73.87 645.87 L73.75 645.35 L73.65 644.84 L75.99 645.71 L74.31 644.31 L74.14 643.76 L74.36 643.43 L75.09 643.39 L75.3 643.06 L75.72 642.85 L75.54 642.29 L74.78 641.39 L76.17 641.74 L75.86 641.11 L76.08 640.78 L75.56 640.01 L76.31 639.99 L76.42 639.6 L77.04 639.51 L76.4 638.66 L77.5 638.87 L77.75 638.56 L77.22 637.77 L77.72 637.61 L77.79 637.19 L79.05 637.51 L77.22 635.9 L78.72 636.38 L78.15 635.55 L79.09 635.68 L80.06 635.83 L79.4 634.94 L80.07 634.9 L79.7 634.19 L81.55 634.92 L81.16 634.2 L81.5 633.95 L80.28 632.68 L80.63 632.44 L82.12 632.95 L81.6 632.12 L81.78 631.77 L82.34 631.67 L81.64 630.73 L83.04 631.19 L82.82 630.57 L83.31 630.42 L82.86 629.64 L83.77 629.78 L83.29 628.97 L84.47 629.31 L84.8 629.05 L84.9 628.64 L84.89 628.16 L85.19 627.88 L83.5 626.22 L85.75 627.31 L85.35 626.54 L85.78 626.37 L85.8 625.89 L85.39 625.12 L86.11 625.14 L87.02 625.31 L87.68 625.29 L86.75 624.14 L86.83 623.7 L88.4 624.35 L87.3 623.07 L89.21 623.96 L88.3 622.81 L88 622.1 L89.29 622.55 L89.93 622.53 L88.39 620.91 L90.32 621.83 L89.52 620.75 L90.75 621.16 L89.93 620.07 L89.49 619.25 L90.9 619.8 L91.38 619.65 L92.27 619.82 L92.3 619.35 L91.96 618.6 L91.67 617.89 L91.75 617.46 L92.12 617.23 L92.06 616.69 L92.61 616.6 L91.58 615.33 L93.34 616.16 L93.46 615.76 L95.15 616.54 L94.38 615.46 L93.93 614.61 L94.75 614.74 L94 613.66 L94.59 613.61 L94.12 612.76 L96.2 613.85 L95.98 613.18 L95.24 612.11 L96.1 612.27 L96.9 612.38 L96.89 611.88 L97.07 611.51 L96.63 610.67 L97 610.45 L97.65 610.45 L98.34 610.49 L97.62 609.42 L97.71 608.98 L99.2 609.65 L98.3 608.44 L99.66 608.99 L99.44 608.32 L100.04 608.29 L100.76 608.35 L100.43 607.58 L100.72 607.3 L100.04 606.26 L100.41 606.04 L101.39 606.31 L102.12 606.39 L102.29 606.02 L103.05 606.11 L102.2 604.93 L102.39 604.57 L103.08 604.61 L102.79 603.87 L102.99 603.52 L102.71 602.78 L104.07 603.37 L103.19 602.15 L104.31 602.54 L103.51 601.38 L105.12 602.18 L104.22 600.93 L105.49 601.45 L104.42 600.07 L105.3 600.27 L106.42 600.68 L105.6 599.49 L106.33 599.57 L106.29 599.02 L105.55 597.9 L107.22 598.76 L107.54 598.5 L106.96 597.51 L108.12 597.95 L107.64 597.04 L107.78 596.64 L108.58 596.78 L108.46 596.17 L110.32 597.2 L108.5 595.17 L109.99 595.89 L110.38 595.7 L109.04 594.06 L109.43 593.86 L110.92 594.59 L110.62 593.82 L111.34 593.91 L112 593.94 L111.45 592.96 L111.33 592.34 L110.7 591.28 L112.53 592.31 L112.18 591.49 L113.1 591.75 L113.31 591.42 L112.71 590.38 L114.62 591.49 L114.54 590.9 L114.68 590.49 L113.86 589.26 L114.53 589.32 L114.72 588.95 L115.05 588.71 L114.93 588.09 L116.02 588.51 L116.17 588.11 L116.5 587.88 L116.31 587.18 L117.51 587.71 L117.2 586.9 L115.92 585.25 L117.29 585.92 L117.86 585.9 L118.65 586.08 L118.26 585.19 L118.55 584.92 L118.6 584.43 L119.55 584.76 L119.24 583.94 L119.42 583.57 L119.62 583.21 L120.56 583.53 L120.26 582.73 L119.94 581.89 L121.39 582.69 L120.98 581.77 L121.79 581.98 L122.07 581.69 L122.76 581.8 L122.95 581.43 L122.39 580.37 L122.87 580.28 L122.56 579.45 L124.35 580.58 L123.99 579.7 L124.74 579.87 L124.14 578.76 L123.54 577.64 L125.63 579.08 L125.17 578.1 L125.46 577.84 L125.7 577.51 L126.27 577.51 L126.49 577.18 L125.7 575.86 L127.31 576.88 L126.78 575.81 L127.09 575.56 L128.46 576.35 L128.33 575.68 L127.99 574.78 L127.51 573.75 L128.79 574.46 L129.26 574.37 L129.23 573.79 L128.94 572.93 L129.44 572.88 L129.5 572.37 L130.5 572.83 L131.08 572.85 L131.46 572.68 L130.88 571.53 L131.64 571.74 L132.08 571.63 L131.85 570.81 L132.31 570.73 L133.69 571.61 L133.05 570.36 L133.66 570.44 L133.32 569.49 L133.83 569.47 L133.28 568.3 L134.38 568.89 L135.25 569.25 L135.96 569.45 L135.82 568.72 L135.87 568.19 L135.86 567.6 L135.85 566.99 L136.35 566.96 L137 567.1 L136.64 566.1 L137.74 566.74 L137.14 565.47 L137.06 564.79 L137.72 564.93 L137.71 564.33 L138.14 564.22 L139.6 565.28 L139.28 564.32 L139.77 564.28 L140.5 564.52 L140.84 564.32 L140.33 563.12 L141.47 563.84 L141.34 563.08 L141.46 562.62 L141.96 562.6 L141.42 561.35 L142.01 561.44 L142.62 561.55 L143.25 561.68 L143.11 560.9 L143.52 560.78 L144.32 561.13 L144.81 561.12 L144.83 560.52 L145.36 560.54 L144.93 559.39 L145.28 559.19 L145.86 559.29 L145.9 558.7 L146.11 558.34 L147.36 559.28 L146.87 558.02 L146.85 557.35 L147.78 557.91 L148.67 558.41 L148.23 557.2 L149.03 557.6 L148.63 556.43 L148.92 556.16 L149.15 555.81 L149.7 555.88 L150.85 556.74 L149.9 554.83 L151.39 556.16 L150.59 554.44 L151.23 554.64 L152 555 L152.23 554.65 L152.4 554.22 L151.91 552.9 L153.06 553.8 L152.81 552.79 L154.61 554.59 L153.78 552.78 L154.27 552.78 L154.04 551.79 L154.64 551.94 L154.63 551.25 L155.87 552.32 L155.69 551.38 L156.35 551.63 L156.17 550.68 L156.57 550.56 L157.6 551.37 L157.03 549.84 L157.02 549.14 L158.22 550.19 L157.94 549.07 L158.54 549.26 L159.4 549.82 L159.05 548.59 L160.04 549.36 L159.76 548.23 L160.93 549.28 L161.19 548.97 L160.83 547.7 L161.26 547.64 L161.35 547.06 L162.07 547.45 L162.77 547.79 L162.11 546.05 L163.34 547.22 L162.82 545.69 L163.33 545.75 L163.32 544.99 L165.11 547.08 L164.68 545.66 L165.08 545.56 L165.07 544.8 L166.05 545.63 L165.22 543.54 L166.34 544.6 L167.47 545.69 L166.86 543.94 L167.34 543.97 L167.92 544.16 L167.72 543.07 L168.36 543.36 L169.03 543.72 L169.1 543.06 L169.5 542.96 L169.58 542.33 L170.16 542.53 L170.4 542.17 L171.24 542.81 L171.32 542.17 L171.32 541.39 L170.89 539.86 L172.34 541.58 L172.69 541.4 L172.45 540.19 L172.42 539.34 L173.07 539.66 L174.12 540.73 L173.78 539.32 L174.33 539.49 L174.91 539.72 L175.6 540.14 L175.52 539.18 L175.84 538.94 L176.03 538.48 L177.11 539.62 L177.27 539.09 L177.23 538.19 L177.14 537.2 L177.69 537.38 L178.49 538.04 L178.41 537.05 L179.29 537.86 L179.47 537.34 L179.79 537.12 L180.26 537.15 L180.56 536.87 L180.47 535.85 L180.99 535.99 L182.2 537.47 L181.41 535.08 L182 535.35 L182.84 536.13 L182.8 535.19 L182.94 534.6 L183.14 534.1 L184.08 535.08 L184.58 535.2 L185.06 535.26 L184.99 534.24 L185.65 534.69 L185.35 533.21 L186.08 533.78 L186.17 533.08 L186.79 533.44 L187.33 533.62 L187.78 533.65 L187.5 532.18 L188.55 533.42 L188.37 532.16 L188.56 531.63 L189.18 532 L189.14 531.01 L189.95 531.77 L190.39 531.77 L190.6 531.29 L191.18 531.59 L191.28 530.88 L191.74 530.91 L191.66 529.83 L192.47 530.6 L192.56 529.86 L193.04 529.95 L193.5 530.01 L193.95 530.02 L193.76 528.68 L194.15 528.57 L194.88 529.2 L195.47 529.53 L195.8 529.29 L196.31 529.47 L196.79 529.56 L196.92 528.88 L197.13 528.39 L197.2 527.58 L197.59 527.47 L198.09 527.61 L198.66 527.92 L199.01 527.73 L199.31 527.43 L199.63 527.16 L200.21 527.5 L200.46 527.07 L200.85 526.96 L201.21 526.81 L201.33 526.1 L201.56 525.63 L202.35 526.44 L202.7 526.24 L202.88 525.67 L203.19 525.38 L204.31 526.95 L203.82 524.84 L204.34 525.03 L204.84 525.18 L204.81 524.11 L205.53 524.77 L206.36 525.69 L206.49 524.98 L206.77 524.63 L207.12 524.44 L207.36 523.98 L207.96 524.36 L208.01 523.49 L208.31 523.16 L208.82 523.34 L209.41 523.7 L209.61 523.18 L210.08 523.24 L209.7 521.35 L210.95 523.26 L211.63 523.84 L211.72 523.04 L211.64 521.82 L211.86 521.32 L212.54 521.89 L212.56 520.92 L213.39 521.87 L213.42 520.91 L214.19 521.71 L214.67 521.81 L214.11 519.47 L215.11 520.81 L215.21 520.02 L215.39 519.41 L215.97 519.76 L216.45 519.86 L217.16 520.52 L216.83 518.71 L217.9 520.22 L218.53 520.69 L218.51 519.61 L218.87 519.43 L219.08 518.91 L219.14 518.01 L219.97 518.95 L220.3 518.7 L220.76 518.77 L221.63 519.8 L221.5 518.46 L221.78 518.11 L222.46 518.69 L222.04 516.65 L222.46 516.63 L223.04 516.97 L223.33 516.63 L224.07 517.35 L224.16 516.54 L225.09 517.71 L225.4 517.42 L225.57 516.78 L225.62 515.88 L226.26 516.37 L226.68 516.34 L226.54 514.97 L227.29 515.73 L227.76 515.8 L227.99 515.33 L228.73 516.05 L229 515.67 L228.82 514.2 L229.44 514.65 L229.55 513.88 L230.3 514.64 L230.28 513.55 L231.13 514.55 L231.36 514.05 L231.88 514.27 L231.95 513.4 L231.96 512.4 L233.2 514.32 L233.05 512.92 L233.83 513.76 L233.95 513 L234.38 513 L235.06 513.59 L235.03 512.48 L235.68 513.01 L235.27 510.99 L236.27 512.36 L236.34 511.49 L236.74 511.41 L237.15 511.34 L237.61 511.41 L238.33 512.11 L237.76 509.68 L238.63 510.76 L238.8 510.11 L239.67 511.18 L239.61 510 L240.22 510.42 L240.36 509.71 L241.01 510.25 L241.47 510.32 L241.47 509.26 L241.95 509.4 L241.93 508.29 L242.76 509.26 L243.27 509.47 L243.27 508.4 L244.08 509.34 L243.61 507.12 L244.04 507.11 L244.53 507.26 L245.14 507.7 L245.64 507.88 L245.98 507.67 L246.35 507.53 L246.93 507.89 L246.99 506.97 L247.15 506.3 L247.53 506.17 L248.77 508.2 L247.98 505.15 L248.91 506.42 L249.7 507.34 L249.82 506.56 L249.86 505.56 L250.44 505.95 L251.03 506.37 L251.49 506.45 L251.32 504.93 L252.11 505.87 L252.36 505.39 L252.94 505.81 L253.38 505.85 L253.32 504.57 L253.41 503.71 L254.25 504.77 L254.96 505.53 L255.06 504.68 L255.32 504.24 L256.23 505.52 L255.74 503.12 L256.6 504.25 L256.61 503.15 L257.13 503.41 L257.51 503.3 L258.23 504.1 L258 502.35 L258.48 502.47 L258.59 501.64 L259.47 502.87 L259.61 502.11 L260.2 502.55 L260.21 501.43 L260.75 501.77 L261.46 502.55 L261.55 501.62 L262.11 502.01 L262.46 501.81 L262.62 501.09 L262.71 500.16 L263.69 501.71 L263.87 501.04 L264.43 501.44 L264.11 499.33 L264.57 499.44 L264.83 498.98 L265.5 499.69 L266.31 500.83 L266.58 500.38 L266.81 499.86 L267.23 499.84 L267.74 500.12 L267.88 499.29 L268.41 499.63 L268.73 499.33 L268.58 497.66 L269.36 498.73 L270.12 499.76 L270.11 498.47 L270.54 498.52 L270.82 498.08 L271.22 498.04 L271.95 498.99 L272.02 497.94 L272.24 497.32 L272.17 495.8 L273.09 497.37 L273.17 496.32 L273.58 496.3 L274.51 497.93 L274.87 497.75 L274.7 495.88 L275.65 497.61 L275.95 497.23 L276.07 496.29 L276.76 497.19 L276.65 495.49 L277.12 495.66 L277.45 495.39 L277.9 495.49 L278.67 496.72 L278.61 495.12 L279.03 495.13 L279.45 495.15 L280.05 495.81 L280.33 495.35 L280.94 496.05 L281.02 494.88 L281.29 494.38 L281.82 494.8 L282.3 495.06 L282.5 494.3 L283.11 495.01 L283.77 495.95 L283.71 494.22 L284.2 494.54 L284.82 495.33 L284.84 493.87 L285.19 493.64 L285.53 493.37 L286.17 494.28 L286.57 494.26 L286.84 493.71 L287.26 493.75 L287.85 494.49 L288.16 494.12 L288.16 492.48 L288.78 493.33 L289.18 493.32 L289.66 493.64 L289.89 492.91 L290.21 492.53 L290.62 492.57 L290.8 491.58 L291.46 492.68 L291.75 492.21 L292.3 492.85 L292.46 491.74 L292.93 492.06 L293.24 491.6 L293.61 491.46 L294.25 492.59 L294.47 491.71 L294.98 492.25 L295.15 491.1 L295.7 491.86 L295.84 490.55 L296.4 491.31 L296.78 491.21 L297.31 491.88 L297.64 491.53 L297.98 491.22 L298.5 491.84 L298.8 491.33 L299.23 491.49 L299.64 491.58 L299.93 490.94 L300.29 490.72 L300.75 491.08 L301.05 490.5 L301.53 490.99 L301.99 491.43 L302.35 491.19 L302.6 490.27 L302.9 489.59 L303.41 490.38 L303.8 490.27 L304.31 491.07 L304.55 489.98 L304.95 490.05 L305.43 490.65 L305.7 489.76 L306.12 489.93 L306.68 491.17 L307.04 490.97 L307.36 490.32 L307.71 490.03 L308 489.12 L308.51 490.14 L308.86 489.75 L309.26 489.82 L309.6 489.26 L310.03 489.57 L310.4 489.41 L310.83 489.72 L311.29 490.46 L311.61 489.68 L311.87 488.24 L312.31 488.69 L312.66 488.23 L313.1 488.75 L313.56 489.66 L313.94 489.52 L314.28 488.8 L314.71 489.37 L315.06 488.64 L315.42 488.15 L315.82 488.14 L316.23 488.5 L316.7 490.07 L317 488.12 L317.48 489.91 L317.87 489.95 L317.56 482.7 L317.2 483.71 L316.77 483.28 L316.38 483.7 L315.95 483.22 L315.5 482.54 L315.13 483.15 L314.67 482.34 L314.23 482.06 L313.91 483.37 L313.41 482.11 L313.08 483.25 L312.68 483.39 L312.25 483.18 L311.81 482.8 L311.5 483.99 L311.05 483.53 L310.62 483.29 L310.14 482.6 L309.84 483.74 L309.47 484.15 L309.07 484.21 L308.58 483.44 L308.08 482.64 L307.7 482.95 L307.39 483.92 L307 484.07 L306.65 484.54 L306.16 483.91 L305.7 483.56 L305.32 483.78 L304.89 483.63 L304.52 484.01 L304.04 483.48 L303.73 484.24 L303.55 485.83 L302.9 484.22 L302.65 485.28 L302.17 484.84 L301.62 483.96 L301.33 484.75 L300.97 485.08 L300.56 485.09 L299.95 483.88 L299.51 483.76 L299.47 485.98 L298.78 484.37 L298.46 484.88 L298.25 486.03 L297.86 486.13 L297.37 485.75 L296.85 485.17 L296.62 486.16 L295.98 484.98 L295.57 484.99 L295.13 484.89 L294.77 485.16 L294.47 485.72 L293.94 485.16 L293.5 485.06 L292.99 484.61 L293.2 487.62 L292.6 486.71 L292.35 487.5 L291.76 486.67 L291.43 487.08 L290.92 486.65 L290.47 486.5 L290.26 487.41 L289.55 486.14 L289.36 487.12 L289.01 487.41 L288.27 486.04 L287.83 485.97 L287.79 487.56 L287.25 487.05 L286.83 487.03 L286.44 487.15 L286.3 488.28 L285.83 488.06 L285.39 487.99 L285.1 488.48 L284.84 489.09 L284.12 487.93 L283.8 488.34 L283.69 489.48 L283.21 489.26 L282.78 489.21 L282.53 489.83 L282.08 489.71 L281.68 489.8 L281.38 490.21 L280.56 488.79 L280.19 488.96 L280.09 490.11 L279.39 489.13 L279.32 490.37 L278.36 488.48 L278.24 489.54 L277.53 488.53 L277.76 490.78 L277.13 490.05 L276.97 490.97 L276.3 490.11 L276.18 491.15 L275.82 491.35 L275.68 492.29 L275.08 491.69 L274.19 490.15 L274.52 492.6 L273.68 491.24 L273.38 491.64 L272.86 491.34 L272.52 491.61 L272.34 492.38 L271.69 491.66 L271.36 491.98 L270.71 491.26 L270.92 493.24 L270.12 492.07 L269.78 492.35 L269.72 493.45 L268.93 492.35 L268.39 492.01 L268.2 492.71 L267.62 492.25 L267.49 493.14 L267.13 493.35 L266.66 493.2 L266.64 494.41 L265.96 493.66 L265.82 494.5 L264.96 493.23 L264.72 493.79 L264.8 495.25 L263.97 494.09 L263.87 495.02 L263.88 496.27 L262.61 493.88 L262.89 495.89 L262.3 495.43 L261.86 495.4 L261.54 495.69 L260.85 494.97 L260.77 495.93 L260.53 496.45 L260.12 496.51 L259.52 496.02 L259.22 496.39 L258.91 496.71 L258.02 495.44 L257.69 495.72 L257.72 496.98 L256.85 495.78 L257.05 497.48 L256.69 497.66 L255.81 496.47 L255.32 496.3 L255.35 497.53 L254.98 497.71 L254.56 497.73 L254.39 498.43 L254.06 498.68 L253.74 498.96 L252.98 498.09 L252.66 498.39 L252.17 498.24 L252.45 500.09 L251.54 498.84 L251.26 499.25 L251 499.68 L250.23 498.81 L250.19 499.81 L250 500.45 L249.2 499.49 L248.62 499.12 L248.59 500.15 L248.48 500.97 L247.99 500.82 L247.81 501.45 L246.74 499.84 L246.43 500.15 L246.22 500.72 L245.7 500.51 L245.39 500.8 L245.2 501.41 L244.94 501.85 L244.36 501.47 L243.54 500.51 L243.9 502.49 L243.28 502.02 L242.8 501.91 L242.87 503.15 L242.02 502.12 L241.72 502.44 L241.08 501.95 L241.41 503.83 L240.48 502.61 L240.19 502.95 L239.98 503.5 L239.26 502.8 L239.31 503.99 L238.98 504.23 L238.53 504.2 L238.28 504.66 L237.93 504.86 L236.98 503.61 L237.37 505.6 L236.69 505.01 L236.76 506.24 L235.88 505.15 L235.4 505.05 L235.45 506.2 L234.91 505.96 L234.55 506.12 L234.16 506.23 L233.95 506.77 L233.57 506.9 L233.43 507.61 L232.52 506.46 L232.24 506.83 L231.96 507.22 L231.4 506.91 L231 506.99 L230.76 507.45 L230.47 507.81 L230.17 508.13 L229.74 508.12 L229.18 507.84 L228.76 507.86 L228.26 507.7 L228.27 508.76 L227.54 508.06 L227.42 508.8 L227.52 510.08 L226.62 508.96 L225.93 508.37 L225.86 509.22 L225.8 510.13 L225.04 509.35 L225.01 510.32 L224.61 510.4 L224.35 510.79 L223.65 510.17 L223.37 510.53 L223.28 511.36 L222.49 510.51 L222.35 511.21 L221.68 510.64 L221.63 511.55 L221.03 511.16 L220.65 511.29 L220.43 511.8 L219.82 511.37 L219.38 511.36 L219.5 512.69 L218.83 512.13 L218.81 513.1 L218.24 512.77 L217.55 512.17 L217.57 513.25 L216.7 512.22 L216.83 513.54 L216.49 513.78 L215.79 513.15 L216.29 515.37 L215.34 514.14 L214.43 513.01 L214.57 514.37 L213.81 513.6 L214.11 515.33 L213.64 515.27 L213.25 515.36 L212.73 515.15 L211.91 514.26 L212.61 516.94 L212.16 516.89 L211.39 516.1 L210.42 514.84 L210.72 516.58 L209.88 515.62 L209.6 516 L209.56 516.92 L209.14 516.95 L209.25 518.24 L208.25 516.92 L208.19 517.8 L207.43 517.05 L207.35 517.88 L206.84 517.7 L206.16 517.12 L206.35 518.6 L206.22 519.31 L205.04 517.57 L205.14 518.84 L204.33 517.95 L204.44 519.23 L203.83 518.83 L203.47 519.02 L203.1 519.18 L202.78 519.44 L202.38 519.53 L202.07 519.83 L201.27 519 L201.62 520.8 L201.17 520.77 L200.52 520.3 L200.29 520.77 L199.89 520.86 L199.36 520.64 L198.97 520.77 L198.66 521.06 L198.2 521.01 L197.7 520.89 L197.66 521.79 L197.09 521.48 L196.55 521.28 L196.52 522.19 L196.23 522.53 L195.64 522.2 L195.97 523.91 L194.92 522.56 L194.2 521.95 L194.2 522.92 L194.1 523.67 L193.04 522.33 L193.18 523.6 L192.86 523.86 L192.27 523.56 L191.82 523.53 L191.67 524.17 L191.42 524.6 L191.22 525.12 L190.89 525.36 L191.18 526.93 L189.67 524.66 L189.28 524.78 L189.04 525.21 L188.89 525.85 L188.21 525.35 L187.82 525.48 L187.58 525.91 L187.42 526.5 L186.99 526.55 L186.39 526.24 L185.9 526.16 L186.07 527.43 L185.6 527.39 L184.27 525.58 L184.93 527.85 L184.17 527.22 L184.13 528.05 L183.97 528.63 L183.18 527.94 L182.61 527.73 L182.39 528.18 L181.94 528.18 L182.08 529.37 L181.51 529.14 L181.31 529.64 L180.88 529.69 L180 528.85 L180.43 530.56 L179.6 529.85 L178.83 529.23 L178.58 529.63 L178.81 530.95 L177.9 530.09 L177.59 530.37 L177.79 531.62 L177.04 531.06 L176.88 531.63 L176.99 532.69 L177.33 534.19 L175.83 532.24 L175.37 532.24 L175.18 532.74 L173.96 531.33 L173.99 532.24 L173.78 532.7 L173.36 532.78 L173.31 533.54 L172.57 533.03 L172.37 533.51 L171.65 533.05 L172.19 534.85 L171.79 534.96 L171.16 534.66 L171.15 535.47 L170.59 535.31 L170.27 535.56 L170.39 536.59 L169.21 535.34 L169.34 536.38 L168.75 536.16 L168.2 536.02 L167.82 536.18 L167.96 537.23 L167.73 537.63 L167.06 537.28 L166.73 537.52 L165.53 536.3 L166.12 538.08 L165.64 538.08 L164.99 537.77 L165.04 538.65 L164.41 538.39 L164.53 539.37 L164.79 540.57 L163.01 538.44 L163.63 540.21 L162.95 539.88 L162.23 539.5 L162.4 540.53 L161.25 539.46 L161.77 541.06 L161.1 540.74 L160.64 540.78 L160.33 541.06 L160.22 541.64 L160.67 543.07 L159.54 542.07 L158.37 541.01 L158.68 542.24 L158.11 542.11 L158.26 543.07 L158.05 543.5 L157.29 543.07 L156.89 543.21 L156.4 543.21 L155.9 543.2 L155.47 543.28 L156.04 544.85 L154.8 543.75 L154.19 543.57 L154.78 545.16 L154.85 545.98 L153.6 544.87 L153.77 545.83 L154.16 547.1 L152.18 544.97 L152.4 546 L152.08 546.26 L152.36 547.36 L151.67 547.08 L150.92 546.73 L150.8 547.26 L150.2 547.12 L150.21 547.83 L149.43 547.44 L149.87 548.75 L148.85 548.03 L149.69 549.88 L148.32 548.69 L148.39 549.47 L148.29 550.02 L147.82 550.07 L147.73 550.62 L146.93 550.23 L146.35 550.14 L147.24 551.98 L145.16 549.92 L145.73 551.33 L145.49 551.69 L145.48 552.34 L145 552.38 L144.93 552.96 L143.8 552.17 L143.08 551.9 L143.68 553.33 L143.35 553.57 L143.11 553.92 L142.09 553.28 L142.09 553.94 L141.75 554.16 L141.73 554.79 L141.23 554.81 L140.6 554.68 L141.43 556.34 L139.98 555.2 L140.53 556.52 L140.39 556.98 L139.5 556.54 L139.21 556.83 L139.1 557.34 L138.17 556.86 L137.72 556.95 L137.82 557.7 L137.37 557.79 L137.54 558.62 L137.16 558.81 L136.31 558.44 L136.72 559.54 L136.59 560.01 L135.34 559.18 L135.26 559.7 L135.73 560.85 L135.83 561.59 L134.61 560.81 L134.77 561.61 L133.67 560.97 L133.89 561.83 L133.83 562.37 L133.56 562.68 L132.5 562.11 L132.02 562.18 L132.67 563.49 L132.48 563.89 L131.85 563.8 L131.58 564.11 L130.65 563.69 L130.87 564.52 L130.93 565.19 L130.13 564.92 L129.26 564.59 L129.12 565.03 L128.79 565.27 L129.78 566.91 L129.53 567.23 L127.87 566.07 L128.51 567.33 L127.79 567.16 L126.99 566.92 L126.83 567.34 L127.28 568.38 L126.85 568.52 L126.87 569.12 L126.57 569.39 L126.01 569.4 L126.01 569.98 L124.96 569.48 L125.31 570.42 L124.15 569.83 L123.68 569.93 L124.08 570.91 L123.7 571.09 L123.13 571.1 L121.87 570.44 L122.93 572.04 L122.17 571.87 L122.64 572.88 L121.32 572.17 L121.53 572.94 L121.59 573.56 L121.85 574.37 L119.9 573.06 L119.83 573.56 L120.42 574.68 L120.21 575.04 L119.02 574.47 L118.66 574.69 L119.14 575.69 L119.62 576.7 L118.4 576.11 L118.6 576.85 L117.9 576.75 L117.58 577.01 L117.17 577.17 L116.99 577.56 L117.67 578.73 L117.35 578.99 L116.68 578.92 L116.42 579.23 L115.28 578.74 L114.78 578.83 L115.94 580.42 L114.85 579.99 L115.19 580.83 L115.37 581.53 L113.68 580.56 L114.49 581.83 L113.65 581.62 L113.06 581.63 L111.01 580.35 L112.32 582.06 L112.66 582.9 L112.92 583.66 L111.92 583.32 L111.97 583.9 L111.23 583.79 L110.89 584.03 L111.23 584.86 L110.23 584.52 L111.11 585.83 L109.74 585.16 L110.31 586.2 L109.26 585.82 L108.63 585.81 L109.31 586.93 L109.62 587.73 L109.37 588.04 L108.64 587.94 L107.74 587.7 L107.89 588.36 L107.58 588.63 L107.89 589.42 L107.29 589.43 L107.42 590.07 L106.83 590.1 L106.4 590.26 L106.77 591.1 L106.34 591.27 L105.12 590.76 L105.92 591.96 L104.73 591.48 L104.01 591.41 L105.37 593.06 L104.47 592.84 L103.07 592.2 L103.86 593.38 L104.31 594.27 L102.21 593.05 L102.96 594.2 L102.2 594.09 L102.06 594.5 L102.47 595.36 L101.92 595.42 L101.82 595.86 L101.2 595.87 L100.78 596.05 L101.01 596.76 L100.77 597.08 L99.74 596.76 L99.86 597.38 L99.69 597.76 L99.01 597.73 L100.5 599.45 L99.02 598.77 L99.11 599.36 L98.15 599.1 L98.98 600.29 L98.41 600.35 L98.19 600.68 L96.89 600.16 L98.37 601.86 L97.74 601.87 L98.18 602.73 L96.2 601.67 L96.62 602.52 L96.3 602.77 L96.22 603.22 L96.54 603.99 L95.9 604 L94.97 603.77 L94.83 604.17 L93.57 603.7 L94.54 604.97 L93.78 604.88 L93.56 605.23 L94.32 606.33 L93.25 606.01 L93.38 606.62 L93.48 607.2 L91.68 606.32 L92.81 607.7 L91.95 607.55 L91.92 608.03 L92.03 608.63 L91.73 608.9 L92.19 609.76 L90.63 609.07 L90.63 609.58 L89.14 608.94 L90.08 610.17 L89.56 610.28 L89.36 610.63 L88.74 610.67 L90.13 612.23 L89.09 611.94 L87.76 611.44 L88.03 612.15 L88.4 612.94 L88.32 613.38 L87.64 613.37 L87.49 613.76 L86.93 613.84 L88.13 615.24 L87.66 615.4 L86.13 614.76 L86.55 615.57 L85.02 614.93 L85.31 615.66 L86.02 616.68 L84.96 616.39 L84.82 616.79 L85.03 617.45 L85.77 618.49 L84.2 617.84 L84.62 618.65 L83.77 618.52 L83.11 618.54 L83.9 619.62 L84.65 620.65 L83.24 620.13 L83.08 620.51 L82.64 620.69 L81.29 620.22 L81.97 621.21 L81.25 621.19 L81.34 621.75 L81.27 622.2 L81.44 622.81 L80.3 622.5 L80.1 622.85 L81.66 624.44 L80.26 623.95 L80.14 624.37 L78.84 623.95 L80.51 625.6 L79.13 625.14 L78.82 625.42 L77.43 624.96 L78.77 626.37 L77.77 626.18 L79.4 627.77 L78.34 627.54 L77.95 627.76 L76.35 627.18 L77.26 628.27 L75.7 627.72 L75.8 628.28 L76.73 629.38 L77.32 630.26 L75.92 629.82 L76.01 630.36 L76.06 630.88 L74.85 630.58 L74.77 631.01 L75.63 632.05 L75.6 632.5 L74.47 632.27 L73.46 632.1 L73.59 632.66 L72.72 632.6 L73.71 633.7 L74.83 634.88 L72.58 633.96 L72.68 634.49 L73.04 635.2 L72.6 635.4 L73.12 636.2 L72.73 636.43 L71.75 636.31 L72.86 637.45 L71.03 636.82 L71.32 637.47 L71.01 637.76 L70.77 638.09 L70.11 638.17 L70.35 638.79 L70.73 639.48 L70.28 639.68 L70.61 640.34 L70.53 640.77 L69.14 640.43 L70.22 641.51 L69.44 641.54 L68.94 641.72 L68.67 642.03 L68.63 642.48 L67.82 642.49 L68.82 643.51 L67.91 643.47 L68.62 644.32 L67.05 643.92 L66.86 644.28 L65.64 644.08 L66.82 645.19 L67.39 645.95 L67.14 646.28 L66.58 646.43 L66.49 646.85 L66.45 647.29 L65.12 647.04 L66.9 648.43 L66.06 648.45 L65.19 648.45 L65.33 648.98 L65.35 649.45 L63.26 648.83 L64.7 650.02 L64.46 650.35 L63.4 650.27 L63.93 650.99 L63.37 651.17 L62.34 651.1 L63.18 651.97 L62.88 652.28 L63.24 652.91 L62.66 653.07 L63.26 653.82 L61.28 653.3 L61.55 653.88 L62.48 654.78 L60.66 654.35 L62.4 655.64 L61.66 655.73 L60.5 655.62 L60.14 655.9 L61.23 656.86 L60.64 657.03 L60.48 657.4 L60.26 657.74 L60.45 658.28 L61.34 659.15 L59.56 658.75 L59.26 659.06 L58.8 659.29 L59.64 660.12 L60.05 660.76 L60.4 661.36 L59.27 661.28 L58.75 661.48 L59.86 662.44 L59.57 662.75 L58.58 662.73 L58.93 663.34 L57.99 663.35 L58.03 663.81 L58.03 664.25 L58.44 664.88 L57.56 664.92 L58.58 665.82 L56.89 665.5 L57.3 666.12 L57.04 666.44 L57.44 667.07 L58.33 667.91 L56.8 667.66 L56.48 667.96 L56.67 668.48 L57.34 669.22 L56.45 669.26 L56.83 669.87 L55.85 669.87 L55.18 670.01 L56.35 670.97 L55.71 671.12 L56.41 671.88 L55.59 671.95 L56.27 672.69 L54.71 672.43 L54.66 672.85 L54.87 673.38 L54.38 673.6 L53.77 673.77 L55.01 674.76 L54.8 675.1 L53.65 675.03 L54.53 675.86 L53.73 675.94 L53.22 676.15 L53.33 676.64 L53.02 676.94 L53.38 677.54 L53.51 678.03 L53.88 678.63 L54.07 679.15 L53.44 679.31 L54.01 680 L52.44 679.74 L53.01 680.43 L52.91 680.83 L50.75 680.31 L52.52 681.53 L51.67 681.59 L51.38 681.9 L52.19 682.7 L51.1 682.65 L51.2 683.13 L50.79 683.39 L50.61 683.75 L49.91 683.87 L49.87 684.29 L50.34 684.94 L49.76 685.12 L50.04 685.68 L50.25 686.21 L49.73 686.42 L49.65 686.82Z" fill="#5b9bd5"/>
<path d="M50.6 687.24v-2.65 M52.06 683.95v-3.12 M56.43 674.07v-3.92 M60.87 664.23v-3.81 M62.38 660.96v-3.3 M63.92 657.71v-2.93 M65.49 654.47v-3.21 M67.11 651.25v-3.39 M75.96 635.59v-3.48 M77.89 632.55v-2.9 M79.88 629.54v-2.89 M83.97 623.62v-3.42 M86.08 620.7v-2.51 M88.21 617.8v-4.15 M92.54 612.05v-3.48 M96.95 606.36v-3.18 M99.19 603.54v-3.42 M103.72 597.94v-2.74 M106.01 595.17v-3.54 M108.32 592.41v-3.39 M117.78 581.55v-3.23 M120.21 578.9v-3.38 M122.68 576.27v-2.73 M130.31 568.63v-3.91 M132.93 566.17v-3.08 M141.05 559.05v-3.69 M143.84 556.77v-3.94 M146.67 554.54v-2.85 M149.54 552.36v-3.57 M158.36 546.14v-3.87 M167.49 540.37v-2.76 M170.59 538.54v-3.07 M176.88 535.04v-3.26 M180.06 533.35v-3.65 M183.26 531.71v-3.85 M189.73 528.54v-3.69 M192.99 527.01v-3.39 M199.54 524.03v-3.21 M219.4 515.53v-4.17 M222.72 514.14v-4.03 M229.35 511.34v-3.84 M236 508.57v-3.6 M239.32 507.19v-3.63 M242.66 505.83v-3.64 M246 504.49v-3.19 M252.7 501.86v-4.15 M256.06 500.57v-2.81 M262.82 498.1v-3.51 M276.5 493.59v-3.35 M279.95 492.58v-3.03 M283.42 491.62v-2.84 M286.91 490.72v-3.78 M290.41 489.88v-3.47 M293.93 489.11v-3.61 M301 487.79v-3.82" stroke="#5b9bd5" stroke-width="0.9" fill="none"/>
<polyline points="49.3,690.6 49.8,690.6 50.3,690.6 50.8,690.6 51.3,690.6 51.8,690.6 52.3,690.49 52.8,690.07 53.3,689.6 53.8,689.06 54.3,688.47 54.8,687.82 55.3,687.12 55.8,686.37 56.3,685.57 56.8,684.73 57.3,683.84 57.8,682.91 58.3,681.95 58.8,680.95 59.3,679.91 59.8,678.84 60.3,677.74 60.8,676.62 61.3,675.47 61.8,674.3 62.3,673.11 62.8,671.9 63.3,670.67 63.8,669.43 64.3,668.17 64.8,666.9 65.3,665.62 65.8,664.33 66.3,663.03 66.8,661.73 67.3,660.42 67.8,659.11 68.3,657.8 68.8,656.49 69.3,655.18 69.8,653.88 70.3,652.58 70.8,651.28 71.3,650 71.8,648.73 72.3,647.46 72.8,646.21 73.3,644.97 73.8,643.74 74.3,642.52 74.8,641.31 75.3,640.11 75.8,638.92 76.3,637.74 76.8,636.58 77.3,635.42 77.8,634.27 78.3,633.13 78.8,632 79.3,630.89 79.8,629.78 80.3,628.68 80.8,627.59 81.3,626.51 81.8,625.44 82.3,624.38 82.8,623.33 83.3,622.29 83.8,621.26 84.3,620.23 84.8,619.22 85.3,618.21 85.8,617.22 86.3,616.23 86.8,615.25 87.3,614.28 87.8,613.32 88.3,612.37 88.8,611.42 89.3,610.49 89.8,609.56 90.3,608.64 90.8,607.73 91.3,606.83 91.8,605.94 92.3,605.05 92.8,604.17 93.3,603.3 93.8,602.44 94.3,601.58 94.8,600.74 95.3,599.9 95.8,599.06 96.3,598.24 96.8,597.42 97.3,596.61 97.8,595.81 98.3,595.02 98.8,594.23 99.3,593.45 99.8,592.67 100.3,591.9 100.8,591.14 101.3,590.39 101.8,589.64 102.3,588.9 102.8,588.17 103.3,587.44 103.8,586.72 104.3,586 104.8,585.3 105.3,584.59 105.8,583.9 106.3,583.21 106.8,582.52 107.3,581.84 107.8,581.17 108.3,580.51 108.8,579.84 109.3,579.19 109.8,578.54 110.3,577.9 110.8,577.26 111.3,576.63 111.8,576 112.3,575.38 112.8,574.76 113.3,574.15 113.8,573.54 114.3,572.94 114.8,572.35 115.3,571.75 115.8,571.17 116.3,570.59 116.8,570.01 117.3,569.44 117.8,568.88 118.3,568.31 118.8,567.76 119.3,567.2 119.8,566.66 120.3,566.11 120.8,565.57 121.3,565.04 121.8,564.51 122.3,563.98 122.8,563.46 123.3,562.94 123.8,562.43 124.3,561.92 124.8,561.42 125.3,560.91 125.8,560.42 126.3,559.92 126.8,559.43 127.3,558.95 127.8,558.46 128.3,557.98 128.8,557.51 129.3,557.03 129.8,556.57 130.3,556.1 130.8,555.64 131.3,555.18 131.8,554.72 132.3,554.27 132.8,553.82 133.3,553.37 133.8,552.93 134.3,552.49 134.8,552.05 135.3,551.62 135.8,551.18 136.3,550.76 136.8,550.33 137.3,549.9 137.8,549.48 138.3,549.06 138.8,548.64 139.3,548.23 139.8,547.82 140.3,547.41 140.8,547 141.3,546.59 141.8,546.19 142.3,545.79 142.8,545.39 143.3,544.99 143.8,544.59 144.3,544.2 144.8,543.81 145.3,543.42 145.8,543.03 146.3,542.64 146.8,542.26 147.3,541.87 147.8,541.49 148.3,541.11 148.8,540.74 149.3,540.36 149.8,539.99 150.3,539.62 150.8,539.25 151.3,538.88 151.8,538.51 152.3,538.15 152.8,537.79 153.3,537.43 153.8,537.07 154.3,536.71 154.8,536.35 155.3,536 155.8,535.65 156.3,535.3 156.8,534.95 157.3,534.6 157.8,534.26 158.3,533.91 158.8,533.57 159.3,533.23 159.8,532.89 160.3,532.55 160.8,532.22 161.3,531.88 161.8,531.55 162.3,531.22 162.8,530.89 163.3,530.56 163.8,530.24 164.3,529.91 164.8,529.59 165.3,529.27 165.8,528.95 166.3,528.63 166.8,528.31 167.3,527.99 167.8,527.68 168.3,527.37 168.8,527.06 169.3,526.75 169.8,526.44 170.3,526.13 170.8,525.83 171.3,525.52 171.8,525.22 172.3,524.92 172.8,524.62 173.3,524.32 173.8,524.02 174.3,523.73 174.8,523.43 175.3,523.14 175.8,522.85 176.3,522.55 176.8,522.26 177.3,521.98 177.8,521.69 178.3,521.4 178.8,521.12 179.3,520.84 179.8,520.55 180.3,520.27 180.8,519.99 181.3,519.72 181.8,519.44 182.3,519.16 182.8,518.89 183.3,518.61 183.8,518.34 184.3,518.07 184.8,517.8 185.3,517.53 185.8,517.26 186.3,517 186.8,516.73 187.3,516.47 187.8,516.2 188.3,515.94 188.8,515.68 189.3,515.42 189.8,515.16 190.3,514.9 190.8,514.64 191.3,514.38 191.8,514.13 192.3,513.87 192.8,513.62 193.3,513.37 193.8,513.12 194.3,512.87 194.8,512.62 195.3,512.37 195.8,512.12 196.3,511.87 196.8,511.63 197.3,511.38 197.8,511.14 198.3,510.89 198.8,510.65 199.3,510.41 199.8,510.17 200.3,509.93 200.8,509.69 201.3,509.45 201.8,509.21 202.3,508.97 202.8,508.74 203.3,508.5 203.8,508.27 204.3,508.03 204.8,507.8 205.3,507.57 205.8,507.33 206.3,507.1 206.8,506.87 207.3,506.64 207.8,506.42 208.3,506.19 208.8,505.96 209.3,505.73 209.8,505.51 210.3,505.28 210.8,505.06 211.3,504.83 211.8,504.61 212.3,504.39 212.8,504.17 213.3,503.95 213.8,503.73 214.3,503.51 214.8,503.29 215.3,503.07 215.8,502.85 216.3,502.63 216.8,502.42 217.3,502.2 217.8,501.99 218.3,501.77 218.8,501.56 219.3,501.35 219.8,501.13 220.3,500.92 220.8,500.71 221.3,500.5 221.8,500.29 222.3,500.08 222.8,499.87 223.3,499.66 223.8,499.45 224.3,499.25 224.8,499.04 225.3,498.83 225.8,498.63 226.3,498.42 226.8,498.22 227.3,498.01 227.8,497.81 228.3,497.61 228.8,497.4 229.3,497.2 229.8,497 230.3,496.8 230.8,496.6 231.3,496.4 231.8,496.2 232.3,496 232.8,495.8 233.3,495.61 233.8,495.41 234.3,495.21 234.8,495.01 235.3,494.82 235.8,494.62 236.3,494.43 236.8,494.23 237.3,494.04 237.8,493.84 238.3,493.65 238.8,493.46 239.3,493.26 239.8,493.07 240.3,492.88 240.8,492.69 241.3,492.5 241.8,492.31 242.3,492.12 242.8,491.93 243.3,491.74 243.8,491.55 244.3,491.36 244.8,491.17 245.3,490.98 245.8,490.8 246.3,490.61 246.8,490.42 247.3,490.24 247.8,490.05 248.3,489.86 248.8,489.68 249.3,489.49 249.8,489.31 250.3,489.12 250.8,488.94 251.3,488.75 251.8,488.57 252.3,488.39 252.8,488.2 253.3,488.02 253.8,487.84 254.3,487.65 254.8,487.47 255.3,487.29 255.8,487.11 256.3,486.93 256.8,486.75 257.3,486.56 257.8,486.38 258.3,486.2 258.8,486.02 259.3,485.84 259.8,485.66 260.3,485.48 260.8,485.3 261.3,485.12 261.8,484.94 262.3,484.77 262.8,484.59 263.3,484.41 263.8,484.23 264.3,484.05 264.8,483.87 265.3,483.7 265.8,483.52 266.3,483.34 266.8,483.16 267.3,482.99 267.8,482.81 268.3,482.63 268.8,482.45 269.3,482.28 269.8,482.1 270.3,481.92 270.8,481.75 271.3,481.57 271.8,481.39 272.3,481.22 272.8,481.04 273.3,480.86 273.8,480.69 274.3,480.51 274.8,480.34 275.3,480.16 275.8,479.98 276.3,479.81 276.8,479.63 277.3,479.46 277.8,479.28 278.3,479.11 278.8,478.93 279.3,478.75 279.8,478.58 280.3,478.4 280.8,478.23 281.3,478.05 281.8,477.87 282.3,477.7 282.8,477.52 283.3,477.35 283.8,477.17 284.3,477 284.8,476.82 285.3,476.64 285.8,476.47 286.3,476.29 286.8,476.12 287.3,475.94 287.8,475.76 288.3,475.59 288.8,475.41 289.3,475.23 289.8,475.06 290.3,474.88 290.8,474.7 291.3,474.53 291.8,474.35 292.3,474.17 292.8,473.99 293.3,473.82 293.8,473.64 294.3,473.46 294.8,473.28 295.3,473.1 295.8,472.93 296.3,472.75 296.8,472.57 297.3,472.39 297.8,472.21 298.3,472.03 298.8,471.85 299.3,471.67 299.8,471.49 300.3,471.31 300.8,471.13 301.3,470.95 301.8,470.77 302.3,470.59 302.8,470.41 303.3,470.23 303.8,470.05 304.3,469.87 304.8,469.69 305.3,469.5 305.8,469.32 306.3,469.14 306.8,468.96 307.3,468.77 307.8,468.59 308.3,468.4 308.8,468.22 309.3,468.04 309.8,467.85 310.3,467.67 310.8,467.48 311.3,467.3 311.8,467.11 312.3,466.92 312.8,466.74 313.3,466.55 313.8,466.36 314.3,466.18 314.8,465.99 315.3,465.8 315.8,465.61 316.3,465.42 316.8,465.23 317.3,465.04 317.8,464.85 318.3,464.66" fill="none" stroke="#ed7d31" stroke-width="4.8" stroke-linejoin="round" stroke-linecap="round"/>
<ellipse cx="124.3" cy="606.1" rx="1.2" ry="1.6" fill="#5b9bd5"/>
<rect x="123.2" y="641.0" width="2.8" height="4.4" fill="#ed7d31"/>
<text x="130.51" y="648.8" font-family="Liberation Sans" font-size="16.43" font-weight="bold" textLength="184.79" lengthAdjust="spacingAndGlyphs">Simulation using estimated parameters</text>
<text x="130.4" y="610.7" font-family="Liberation Sans" font-size="16.43" font-weight="bold" textLength="54.22" lengthAdjust="spacingAndGlyphs">experiment</text>
<line x1="375.5" y1="403.9" x2="375.5" y2="693.6" stroke="#a8a8a8" stroke-width="1.7"/>
<line x1="652.6" y1="403.9" x2="652.6" y2="693.6" stroke="#a8a8a8" stroke-width="1.7"/>
<line x1="374.9" y1="404.5" x2="653.5" y2="404.5" stroke="#747474" stroke-width="1.35"/>
<line x1="374.9" y1="693" x2="653.5" y2="693" stroke="#747474" stroke-width="1.35"/>
<line x1="371.5" y1="404.5" x2="375.5" y2="404.5" stroke="#747474" stroke-width="1.35"/>
<line x1="371.5" y1="452.58" x2="375.5" y2="452.58" stroke="#747474" stroke-width="1.35"/>
<line x1="371.5" y1="500.67" x2="375.5" y2="500.67" stroke="#747474" stroke-width="1.35"/>
<line x1="371.5" y1="548.75" x2="375.5" y2="548.75" stroke="#747474" stroke-width="1.35"/>
<line x1="371.5" y1="596.83" x2="375.5" y2="596.83" stroke="#747474" stroke-width="1.35"/>
<line x1="371.5" y1="644.92" x2="375.5" y2="644.92" stroke="#747474" stroke-width="1.35"/>
<line x1="371.5" y1="693" x2="375.5" y2="693" stroke="#747474" stroke-width="1.35"/>
<line x1="375.5" y1="693" x2="375.5" y2="698" stroke="#a8a8a8" stroke-width="1.7"/>
<line x1="430.92" y1="693" x2="430.92" y2="698" stroke="#a8a8a8" stroke-width="1.7"/>
<line x1="486.34" y1="693" x2="486.34" y2="698" stroke="#a8a8a8" stroke-width="1.7"/>
<line x1="541.76" y1="693" x2="541.76" y2="698" stroke="#a8a8a8" stroke-width="1.7"/>
<line x1="597.18" y1="693" x2="597.18" y2="698" stroke="#a8a8a8" stroke-width="1.7"/>
<line x1="652.6" y1="693" x2="652.6" y2="698" stroke="#a8a8a8" stroke-width="1.7"/>
<text x="348.32" y="409.23" font-family="Liberation Sans" font-size="17.55" font-weight="bold" textLength="17" lengthAdjust="spacingAndGlyphs">300</text>
<text x="348.32" y="457.34" font-family="Liberation Sans" font-size="17.55" font-weight="bold" textLength="17" lengthAdjust="spacingAndGlyphs">250</text>
<text x="348.32" y="505.42" font-family="Liberation Sans" font-size="17.55" font-weight="bold" textLength="17" lengthAdjust="spacingAndGlyphs">200</text>
<text x="348.32" y="553.5" font-family="Liberation Sans" font-size="17.55" font-weight="bold" textLength="17" lengthAdjust="spacingAndGlyphs">150</text>
<text x="348.32" y="601.59" font-family="Liberation Sans" font-size="17.55" font-weight="bold" textLength="17" lengthAdjust="spacingAndGlyphs">100</text>
<text x="353.98" y="649.67" font-family="Liberation Sans" font-size="17.55" font-weight="bold" textLength="11.33" lengthAdjust="spacingAndGlyphs">50</text>
<text x="359.65" y="697.75" font-family="Liberation Sans" font-size="17.55" font-weight="bold" textLength="5.67" lengthAdjust="spacingAndGlyphs">0</text>
<text x="373.73" y="717.06" font-family="Liberation Sans" font-size="13.56" font-weight="bold" textLength="4.35" lengthAdjust="spacingAndGlyphs">0</text>
<text x="427.01" y="717.06" font-family="Liberation Sans" font-size="13.56" font-weight="bold" textLength="8.71" lengthAdjust="spacingAndGlyphs">50</text>
<text x="480.12" y="717.06" font-family="Liberation Sans" font-size="13.56" font-weight="bold" textLength="13.06" lengthAdjust="spacingAndGlyphs">100</text>
<text x="535.54" y="717.06" font-family="Liberation Sans" font-size="13.56" font-weight="bold" textLength="13.06" lengthAdjust="spacingAndGlyphs">150</text>
<text x="591.07" y="717.06" font-family="Liberation Sans" font-size="13.56" font-weight="bold" textLength="13.06" lengthAdjust="spacingAndGlyphs">200</text>
<text x="646.49" y="717.06" font-family="Liberation Sans" font-size="13.56" font-weight="bold" textLength="13.06" lengthAdjust="spacingAndGlyphs">250</text>
<text x="489.19" y="741.4" font-family="Liberation Sans" font-size="17.59" font-weight="bold" textLength="50.41" lengthAdjust="spacingAndGlyphs">Time (min)</text>
<text transform="translate(342.2,639.92) rotate(-90)" x="0" y="0" font-family="Liberation Sans" font-size="9.16" font-weight="normal" textLength="182.14" lengthAdjust="spacingAndGlyphs" style="stroke-width:0.5px">Molar Mass (Kg/mol)</text>
<path d="M374.26 404.81 L374.91 405.2 L375.68 405.6 L375.45 406 L375.94 406.4 L376.06 406.8 L374.95 407.2 L374.62 407.61 L374.03 408.01 L375.13 408.4 L375.23 408.8 L375.71 409.2 L374.56 409.61 L374.89 410.01 L375.43 410.4 L374.73 410.81 L374.8 411.21 L376.14 411.6 L374.7 412.01 L375.03 412.4 L375.32 412.8 L375.34 413.2 L374.15 413.61 L374.27 414.01 L374.11 414.41 L375.74 414.8 L375.47 415.2 L374.61 415.61 L375.78 416 L375.51 416.4 L376.11 416.8 L374.1 417.21 L374.53 417.61 L374.86 418.01 L375 418.4 L375.35 418.8 L375.34 419.2 L374.78 419.61 L375.51 420 L374.44 420.41 L375.39 420.8 L375.6 421.2 L374.41 421.61 L375.2 422 L374.82 422.41 L375.35 422.8 L376.36 423.2 L374.82 423.61 L375.86 424 L374.53 424.41 L375.98 424.8 L376.15 425.2 L374.96 425.61 L374.89 426.01 L375.07 426.4 L375.8 426.8 L374.64 427.21 L375.93 427.6 L375.39 428 L375.56 428.4 L375.34 428.8 L374.66 429.21 L375.48 429.6 L374.82 430.01 L374.75 430.41 L376.07 430.8 L375.78 431.2 L375.35 431.6 L375.46 432 L374.97 432.41 L376.2 432.8 L374.74 433.21 L374.73 433.61 L375.23 434 L375.9 434.4 L375.14 434.8 L375.44 435.2 L374.83 435.61 L375.19 436 L374.74 436.41 L375.38 436.8 L374.35 437.21 L376.41 437.6 L375.7 438 L374.87 438.41 L375.98 438.8 L374.74 439.21 L375.82 439.6 L375.1 440 L375.65 440.4 L375.39 440.8 L375.05 441.2 L375.21 441.6 L375.36 442 L373.97 442.41 L375.15 442.8 L375.68 443.2 L374.64 443.61 L374.7 444.01 L374.48 444.41 L374.17 444.81 L375.67 445.2 L374.57 445.61 L374.53 446.01 L375.16 446.4 L375.02 446.8 L376.81 447.2 L375.47 447.6 L374.17 448.01 L376.14 448.4 L375.45 448.8 L375 449.21 L374.84 449.61 L374.26 450.01 L376.13 450.4 L375.14 450.8 L374.69 451.21 L375.89 451.6 L375.19 452 L374.13 452.41 L374.44 452.81 L374.87 453.21 L376.6 453.6 L375.24 454 L374.95 454.41 L375.34 454.8 L375.2 455.2 L373.47 455.61 L375.29 456 L375.7 456.4 L375.04 456.8 L375.34 457.2 L375.34 457.6 L375.22 458 L374.75 458.41 L375.04 458.8 L375.83 459.2 L375.25 459.6 L374.91 460.01 L375.43 460.4 L374.54 460.81 L374.75 461.21 L375.72 461.6 L375 462.01 L374.09 462.41 L374.32 462.81 L375.21 463.2 L374.69 463.61 L375.55 464 L375.98 464.4 L374.88 464.81 L375.05 465.21 L374.9 465.61 L375.2 466 L375 466.41 L375.47 466.8 L374.92 467.21 L374.73 467.61 L375.22 468 L374.74 468.41 L376.16 468.8 L375.62 469.2 L374.39 469.61 L374.22 470.01 L375.05 470.4 L375.25 470.8 L375.89 471.2 L374.99 471.6 L374.76 472.01 L376.01 472.4 L374.88 472.81 L374.92 473.21 L374.95 473.61 L375.81 474 L374.9 474.41 L376.02 474.8 L374.38 475.21 L375.12 475.6 L375.83 476 L374.46 476.41 L374.56 476.81 L375.55 477.2 L373.98 477.61 L375.75 478 L375.03 478.4 L374.55 478.81 L376.45 479.2 L374.65 479.61 L375.23 480 L375.21 480.4 L375.79 480.8 L375.02 481.2 L375.81 481.6 L375.73 482 L375.45 482.4 L375.88 482.8 L374.34 483.21 L375.93 483.6 L375.62 484 L375.38 484.4 L375.2 484.8 L374.77 485.21 L374.76 485.61 L375.37 486 L375.42 486.4 L375.19 486.8 L374.75 487.21 L374.82 487.61 L375.49 488 L376.34 488.4 L374.03 488.81 L374.69 489.21 L375.06 489.6 L375.02 490 L375.5 490.4 L375.76 490.8 L375.39 491.2 L375.33 491.6 L375.56 492 L376.01 492.4 L375.39 492.8 L374.9 493.21 L375.49 493.6 L375.2 494 L376.35 494.4 L375.33 494.8 L375.28 495.2 L375.89 495.6 L376.17 496 L374.99 496.41 L375.66 496.8 L374.95 497.21 L375.45 497.6 L374.88 498.01 L375.41 498.4 L376.05 498.8 L375.27 499.2 L375.4 499.6 L374.86 500.01 L375.47 500.4 L375.44 500.8 L374.75 501.21 L374.58 501.61 L374.81 502.01 L374.65 502.41 L374.97 502.81 L374.8 503.21 L374.74 503.61 L375 504.01 L375.19 504.4 L375.15 504.8 L373.9 505.21 L375.22 505.6 L375.36 506 L375.43 506.4 L375.25 506.8 L375.09 507.2 L375.85 507.6 L376.32 508 L375.07 508.4 L376.11 508.8 L375.09 509.2 L375.15 509.6 L374.6 510.01 L374.31 510.41 L375.03 510.81 L375.54 511.2 L375.88 511.6 L375.67 512 L375.21 512.4 L376.37 512.8 L375.19 513.2 L375.24 513.6 L374.88 514.01 L375.42 514.4 L375.18 514.8 L375.64 515.2 L375.49 515.6 L376.21 516 L375.17 516.4 L374.39 516.81 L375.15 517.2 L375.04 517.61 L375.78 518 L374.45 518.41 L375.66 518.8 L374.8 519.21 L375.18 519.6 L375.77 520 L374.68 520.41 L375.23 520.8 L375.15 521.2 L375 521.61 L375.26 522 L375.45 522.4 L374.99 522.81 L375.47 523.2 L375.21 523.6 L375.61 524 L376.07 524.4 L375.62 524.8 L375.52 525.2 L375.24 525.6 L374.6 526.01 L376.18 526.4 L375.18 526.8 L376.47 527.2 L375.83 527.6 L375.53 528 L376.49 528.4 L376.27 528.8 L375.17 529.2 L375.21 529.6 L375.32 530 L375.7 530.4 L374.07 530.81 L375.34 531.2 L375.73 531.6 L374.33 532.01 L374.92 532.41 L375.46 532.8 L374.6 533.21 L375.17 533.6 L374.9 534.01 L375.13 534.4 L375.82 534.8 L374.72 535.21 L375.17 535.6 L375.81 536 L375.68 536.4 L374.74 536.81 L375.46 537.2 L375.24 537.6 L374.9 538.01 L375.19 538.4 L376.1 538.8 L374.91 539.21 L374.75 539.61 L374.79 540.02 L374.38 540.42 L375.07 540.82 L374.85 541.23 L374.41 541.63 L375.45 542.02 L374.34 542.43 L374.34 542.83 L374.87 543.22 L374.29 543.63 L374.84 544.03 L375.8 544.41 L374.7 544.83 L375.15 545.22 L375.1 545.62 L375.25 546.02 L374.59 546.43 L375.04 546.82 L375.73 547.21 L375.09 547.62 L374.96 548.02 L375.76 548.41 L375.61 548.81 L375.58 549.21 L375.71 549.61 L375.19 550.02 L374.83 550.43 L374.35 550.83 L374.74 551.23 L374.84 551.63 L374.78 552.03 L374.68 552.43 L375.62 552.81 L375.04 553.22 L375.25 553.62 L375.5 554.02 L375.68 554.41 L375.72 554.81 L375.59 555.22 L376.13 555.61 L375.17 556.02 L375.47 556.42 L375.4 556.82 L375.28 557.22 L375.07 557.62 L375.8 558.01 L375.54 558.42 L376.37 558.8 L376.71 559.2 L376.56 559.6 L374.65 560.03 L376.5 560.4 L375.23 560.82 L374.68 561.23 L375.74 561.61 L374.59 562.03 L374.46 562.43 L374.96 562.83 L374.17 563.24 L375.13 563.62 L375.87 564.01 L375.18 564.42 L375.7 564.81 L376.17 565.21 L376.15 565.61 L374.18 566.04 L375.74 566.41 L375.45 566.82 L375.8 567.21 L375.36 567.62 L375.56 568.02 L375.65 568.42 L376.09 568.81 L376.19 569.21 L375.82 569.61 L375.25 570.02 L374.26 570.44 L374.82 570.83 L374.4 571.24 L375.13 571.62 L375.44 572.02 L376.12 572.41 L375.38 572.82 L376.56 573.2 L375.54 573.62 L374.48 574.03 L375.19 574.42 L374.75 574.83 L375.57 575.22 L376.12 575.61 L375.62 576.02 L375.57 576.42 L374.69 576.83 L374.26 577.24 L375.75 577.62 L375.54 578.02 L375.41 578.42 L375.52 578.82 L376.01 579.21 L375.27 579.63 L375.12 580.04 L375.11 580.45 L375.99 580.83 L375.39 581.25 L376.29 581.62 L374.83 582.07 L375.9 582.43 L375.49 582.85 L375.59 583.24 L375.66 583.64 L375.93 584.03 L376.32 584.42 L374.4 584.88 L375.21 585.26 L375.21 585.66 L374.2 586.09 L375.42 586.45 L375.06 586.86 L375.35 587.25 L374.72 587.67 L375.09 588.06 L375.2 588.46 L375.52 588.85 L375.22 589.26 L374.74 589.67 L376.53 590.02 L375.46 590.45 L375.62 590.85 L375.56 591.25 L376.48 591.62 L374.99 592.07 L375.86 592.44 L375.53 592.85 L375.68 593.25 L376.33 593.63 L375.65 594.05 L376.42 594.42 L375.93 594.84 L375.59 595.25 L375.42 595.65 L375.39 596.06 L375.5 596.45 L374.25 596.89 L375.19 597.26 L376.11 597.63 L375.77 598.05 L375.8 598.44 L375.54 598.85 L375.78 599.25 L375.92 599.65 L374.54 600.12 L375.44 600.49 L375.66 600.89 L375.62 601.3 L375.62 601.7 L374.74 602.15 L375.26 602.52 L374.91 602.94 L377.26 603.22 L375.38 603.72 L374.98 604.14 L374.49 604.56 L375.57 604.91 L376.54 605.26 L375.29 605.72 L375.95 606.09 L376.62 606.46 L375.99 606.89 L375.08 607.34 L375.01 607.74 L375.28 608.13 L376.27 608.48 L374.32 608.98 L376.36 609.27 L375.77 609.7 L376.53 610.06 L375.02 610.54 L375.51 610.92 L375.28 611.33 L375.73 611.71 L375.83 612.1 L375.71 612.51 L376.85 612.85 L375.28 613.33 L375.34 613.73 L376.07 614.09 L375.87 614.51 L375.71 614.91 L375.02 615.35 L375.66 615.72 L375.88 616.11 L376.2 616.49 L376.76 616.86 L376.27 617.29 L375.91 617.71 L376.1 618.1 L375.93 618.52 L375.58 618.96 L375.76 619.38 L375.88 619.79 L375.7 620.23 L375.98 620.62 L376.11 621.02 L375.86 621.44 L377.08 621.73 L375.47 622.28 L376.88 622.55 L375.73 623.06 L376.2 623.42 L375.62 623.87 L376.22 624.22 L376.78 624.57 L375.69 625.07 L376.2 625.43 L376.25 625.82 L376.29 626.22 L375.8 626.67 L375.92 627.06 L376.26 627.43 L377.26 627.74 L376.65 628.2 L376.39 628.62 L375.48 629.11 L376.27 629.44 L376.55 629.81 L375.86 630.28 L376.6 630.61 L376.57 631.02 L376.49 631.43 L377.41 631.74 L376.08 632.27 L376.39 632.64 L376.8 633 L377.29 633.36 L376.56 633.83 L375.93 634.29 L377.07 634.58 L377.32 634.96 L376.52 635.44 L377.65 635.74 L378.01 636.1 L377.05 636.59 L377.21 636.98 L377 637.4 L377.17 637.8 L376.71 638.35 L377.06 638.88 L377.33 639.39 L377.4 639.94 L376.97 640.64 L376.93 641.15 L377.07 641.53 L377.29 641.88 L379.48 641.58 L378.39 642.36 L378.14 642.86 L377.98 643.34 L379.04 643.41 L377.56 644.32 L378.25 644.51 L378.84 644.74 L378.54 645.26 L378.92 645.55 L379.24 645.87 L378.69 646.47 L379.3 646.69 L379.91 646.91 L379.61 647.43 L379.45 647.91 L380.06 648.13 L378.94 648.91 L380.28 648.9 L378.92 649.82 L379.56 650.27 L380.72 650.54 L380.49 651.46 L380.45 652.38 L381.47 652.48 L382.22 652.52 L381.93 653.28 L381.4 654.26 L383.12 653.33 L382.52 654.36 L383.01 654.47 L383.32 654.73 L383.69 654.94 L383.92 655.27 L383.63 656.07 L384.15 656.32 L385.18 656.16 L384.62 657.6 L386.13 656.79 L385.91 657.98 L386.46 658.05 L386.45 658.74 L387.05 658.6 L387.14 659.15 L387.81 658.91 L387.81 659.59 L388.34 659.55 L388.07 660.59 L389.32 659.56 L389.03 660.64 L389.59 660.55 L390 660.66 L390.6 660.6 L390.72 661.37 L391.76 660.81 L392.21 661.14 L392.21 662.4 L393.23 661.49 L392.97 663.17 L393.71 662.47 L393.96 662.89 L394.37 662.97 L394.66 663.3 L395.18 663.11 L395.56 663.22 L395.88 663.51 L395.98 664.26 L396.33 664.46 L396.67 664.69 L397.23 664.4 L397.73 664.27 L398.42 663.69 L398.27 665.02 L398.6 665.28 L399.26 664.82 L399.44 665.62 L399.8 666.07 L400.49 665.62 L400.79 666.27 L401.35 666.02 L402.09 665.08 L402.26 665.86 L402.63 666.02 L402.85 666.63 L403.47 666.03 L403.78 666.37 L404.25 666.22 L404.47 666.83 L404.84 667 L405.06 667.6 L405.47 667.63 L405.95 667.42 L406.31 667.58 L406.71 667.63 L407.09 667.76 L407.22 668.63 L408.29 666.65 L408.28 667.98 L408.57 668.36 L408.81 668.92 L409.57 667.88 L409.71 668.76 L410 669.15 L410.6 668.59 L411.23 667.95 L411.35 668.89 L411.88 668.58 L412.01 669.69 L412.71 669.05 L412.81 670.58 L413.51 669.81 L414.09 669.41 L414.48 669.66 L414.93 669.42 L415.15 670.31 L415.42 670.98 L416.01 670.15 L416.27 670.84 L416.87 669.92 L417.12 670.68 L417.28 671.84 L418.1 669.93 L418.19 671.43 L418.58 671.48 L419.35 669.93 L419.77 670.27 L420.24 670.62 L420.64 671.75 L421.26 671.02 L421.76 671.19 L422.18 671.69 L422.59 671.38 L422.99 671.46 L423.4 671.17 L423.77 671.98 L424.21 670.96 L424.55 672.32 L425 671.23 L425.41 671 L425.78 671.81 L426.18 671.72 L426.64 670.4 L427.08 671.63 L427.65 670.78 L428.24 671.07 L428.91 671.87 L429.37 670.87 L429.99 671.43 L430.31 670.96 L430.94 672.13 L431.12 670.96 L431.4 670.3 L431.8 670.26 L432.22 670.29 L432.72 670.77 L433.1 670.63 L433.59 671.08 L433.9 670.57 L434.29 670.47 L434.69 670.5 L435 670.19 L435.39 670.34 L435.79 670.56 L436.14 670.51 L436.41 669.73 L436.7 669 L437.18 669.47 L437.66 670 L437.83 668.44 L438.39 669.47 L438.86 669.92 L439.17 669.31 L439.53 668.95 L440.15 670.45 L440.52 670.19 L440.78 669.24 L441.21 670.06 L441.39 670.01 L441.48 668.63 L441.63 670.74 L441.87 668.79 L442.1 669.19 L442.52 668.78 L442.84 669.47 L443.33 668.76 L443.64 669.52 L443.96 670.17 L444.42 669.74 L444.84 669.53 L445.12 670.56 L445.68 669.28 L445.95 670.35 L446.43 669.7 L446.79 670.03 L447.18 669.98 L447.56 670.08 L447.96 670.03 L448.4 669.69 L448.77 669.86 L449.09 670.46 L449.53 670.22 L450.01 669.7 L450.37 670 L450.76 670.07 L451.11 670.47 L451.49 670.65 L451.89 670.66 L452.34 670.31 L452.69 670.73 L453.19 670.03 L453.7 669.25 L453.93 670.86 L454.49 670.04 L454.9 670.49 L455.37 670.37 L455.76 671.41 L456.24 670.42 L456.6 671.26 L457.02 670.86 L457.44 670.48 L457.85 670.31 L458.19 671.45 L458.59 671.43 L458.98 671.67 L459.34 672.27 L459.79 671.44 L460.19 671.47 L460.6 671.27 L460.99 671.42 L461.41 671.19 L461.83 670.91 L462.13 672.52 L462.66 670.43 L462.99 671.61 L463.38 671.74 L463.79 671.6 L464.22 671.01 L464.6 671.46 L465.01 671.33 L465.43 671.02 L465.79 671.61 L466.2 671.43 L466.61 671.37 L466.97 672.07 L467.42 671.14 L467.79 671.99 L468.27 671.44 L468.69 672.03 L469.15 671.84 L469.6 671.93 L470.03 671.26 L470.43 671.37 L470.83 671.33 L471.23 671.89 L471.63 672.21 L472.03 672.39 L472.43 671.52 L472.83 671.84 L473.23 670.91 L473.63 670.58 L474.03 671.32 L474.43 671.43 L474.83 670.94 L475.23 670.82 L475.63 672.09 L476.03 671.35 L476.43 670.87 L476.83 673.07 L477.23 671.89 L477.63 671.62 L478.03 672.16 L478.43 671.37 L478.83 672.66 L479.23 670.95 L479.63 671.07 L480.03 671.71 L480.43 671.37 L480.83 672.56 L481.23 670.91 L481.66 671.39 L482.16 671.92 L482.66 672.09 L483.17 672.29 L483.64 671.87 L484.2 672.84 L484.45 671.34 L484.88 671.65 L485.32 671.97 L485.65 671.29 L486.05 671.26 L486.44 671.12 L486.82 670.98 L487.19 670.67 L487.66 670.94 L488.07 670.34 L488.7 671.33 L488.99 670.17 L489.86 672.03 L490.26 671.74 L490.58 671.33 L490.82 670.54 L491.16 670.26 L491.77 671.14 L492.04 670.5 L492.47 670.61 L492.71 669.84 L493.31 670.71 L493.42 669.64 L493.74 670.07 L493.85 669.01 L494.16 669.6 L494.43 670.24 L494.73 669.71 L495.12 669.71 L495.53 670.38 L495.92 669.9 L496.33 670.62 L496.71 668.61 L497.13 670.24 L497.53 670.2 L497.91 669.07 L498.31 669.2 L498.73 670.39 L499.11 669.32 L499.52 669.55 L499.93 670.22 L500.32 669.7 L500.73 670.14 L501.12 669.4 L501.52 670.03 L501.93 670.46 L502.32 670.04 L502.71 668.65 L503.13 670.2 L503.52 669.87 L503.92 669.34 L504.33 670.59 L504.71 668.87 L505.13 670.85 L505.52 669.47 L505.93 670.67 L506.32 669.78 L506.71 669.07 L507.12 669.85 L507.52 669.97 L507.93 670.08 L508.33 670.36 L508.72 669.28 L509.12 670.04 L509.53 670.17 L509.92 669.61 L510.31 669.24 L510.71 669.22 L511.13 670.15 L511.53 670.17 L511.92 669.28 L512.31 668.99 L512.73 670.4 L513.11 668.87 L513.52 669.8 L513.92 669.26 L514.31 668.74 L514.72 669.76 L515.12 669.59 L515.53 670.47 L515.92 670.92 L516.29 669.57 L516.66 670.23 L517.03 670.25 L517.42 669.4 L517.81 669.21 L518.18 670.58 L518.6 669.5 L519 669.69 L519.4 669.56 L519.8 669.65 L520.2 669.4 L520.59 670.14 L520.98 670.43 L521.4 669.54 L521.81 669 L522.2 669.79 L522.61 668.95 L523 669.43 L523.38 670.46 L523.77 671.06 L524.19 670 L524.61 669.22 L524.99 670.24 L525.42 668.59 L525.8 669.44 L526.18 670.66 L526.59 670.24 L527.01 669.09 L527.41 668.94 L527.79 670.32 L528.2 669.84 L528.6 669.54 L528.99 670.1 L529.4 669.57 L529.81 668.84 L530.19 670.34 L530.6 669.55 L531 669.36 L531.41 669.19 L531.79 670.06 L532.2 669.49 L532.59 670.28 L533 669.8 L533.38 670.54 L533.8 669.74 L534.2 669.61 L534.61 668.89 L535 669.38 L535.39 670.38 L535.77 671.66 L536.21 669.31 L536.6 669.44 L536.99 670.19 L537.39 670.28 L537.8 669.65 L538.19 670.07 L538.61 669.16 L539 669.88 L539.39 670.54 L539.78 670.95 L540.2 669.97 L540.6 669.93 L540.99 670.32 L541.38 670.69 L541.79 670.36 L542.2 669.69 L542.59 670.3 L542.98 670.64 L543.4 669.73 L543.81 669.39 L544.19 670.41 L544.59 670.34 L544.98 670.67 L545.39 670.2 L545.8 669.81 L546.2 669.93 L546.6 669.61 L547 669.66 L547.4 669.88 L547.8 669.93 L548.18 670.81 L548.6 669.54 L548.99 670.19 L549.4 669.9 L549.78 671.04 L550.19 670.38 L550.6 670.04 L550.98 670.69 L551.39 670.29 L551.8 670 L552.18 671.11 L552.59 670.66 L552.99 671.23 L553.4 670.92 L553.8 670.72 L554.2 670.37 L554.61 669.71 L555 670.7 L555.4 670.35 L555.8 670.69 L556.2 670.32 L556.61 669.95 L557.01 669.79 L557.4 670.72 L557.79 671.05 L558.21 670.2 L558.6 670.61 L558.99 671.12 L559.41 669.91 L559.81 670.19 L560.21 669.76 L560.6 671.02 L561 670.51 L561.41 670.11 L561.82 669.46 L562.21 670.26 L562.6 670.9 L563.01 670.19 L563.41 670.12 L563.8 670.7 L564.21 669.67 L564.6 670.37 L565 670.66 L565.41 669.91 L565.81 669.88 L566.2 670.46 L566.61 670.27 L567.01 670.19 L567.4 670.43 L567.8 670.43 L568.21 669.8 L568.61 669.94 L569 670.55 L569.4 670.91 L569.8 671.03 L570.21 669.83 L570.6 670.88 L571 670.7 L571.41 670.26 L571.8 670.54 L572.2 670.73 L572.59 671.25 L573.01 669.69 L573.4 670.59 L573.81 670.18 L574.21 670.14 L574.6 670.88 L575 670.7 L575.41 669.69 L575.81 670.09 L576.21 670.36 L576.62 669.47 L577 670.7 L577.41 670.19 L577.81 670.31 L578.21 670.41 L578.59 671.2 L579.01 670.24 L579.41 670.02 L579.8 671.16 L580.21 669.93 L580.61 669.92 L581.02 669.44 L581.4 670.78 L581.81 670.34 L582.21 670.44 L582.61 670.28 L583.01 670.11 L583.41 669.75 L583.81 669.75 L584.21 670.41 L584.61 670.23 L585 671.05 L585.42 669.75 L585.81 669.89 L586.22 669.6 L586.6 670.9 L587.02 669.48 L587.4 670.56 L587.8 670.92 L588.21 670.06 L588.6 670.53 L589.03 668.97 L589.41 669.92 L589.82 669.22 L590.21 670.21 L590.61 670.12 L591.02 669.69 L591.4 670.62 L591.81 670.3 L592.21 669.82 L592.61 669.82 L593.02 669.3 L593.41 669.99 L593.8 671.24 L594.22 669.7 L594.61 670.31 L595.02 669.78 L595.41 670.51 L595.81 670.31 L596.21 669.94 L596.63 669.09 L597.02 669.78 L597.4 670.71 L597.81 669.92 L598.21 670.39 L598.62 669.78 L599.03 669.03 L599.41 670.27 L599.81 670.21 L600.22 669.72 L600.62 669.84 L601.01 670.21 L601.42 669.73 L601.81 670.25 L602.21 669.95 L602.63 668.79 L603.04 670 L603.48 669.76 L603.91 669.63 L604.37 670.28 L604.79 669.78 L605.23 670.31 L605.65 670.59 L606.02 670.06 L606.38 669.12 L606.8 669.54 L607.24 670.42 L607.61 669.76 L607.99 669.44 L608.41 669.81 L608.83 670.12 L609.22 669.96 L609.63 670.15 L609.99 669.34 L610.4 669.62 L610.8 669.61 L611.21 669.71 L611.55 668.57 L612 669.56 L612.37 668.94 L612.85 670.4 L613.25 670.47 L613.65 670.52 L614.03 670.03 L614.39 669.3 L614.83 670.07 L615.2 669.42 L615.62 669.84 L615.98 669 L616.39 669.15 L616.82 669.7 L617.25 670.39 L617.6 669.4 L618.06 670.61 L618.48 670.87 L618.77 668.65 L619.2 669.32 L619.58 668.79 L620 669.22 L620.39 668.98 L620.8 669.21 L621.22 669.76 L621.62 669.72 L622 669.33 L622.4 669.17 L622.8 669.22 L623.2 669.2 L623.61 669.42 L624 669.1 L624.41 669.35 L624.76 668.34 L625.22 669.46 L625.64 669.96 L626 669.09 L626.35 668.21 L626.83 669.69 L627.18 668.76 L627.51 667.29 L627.98 668.78 L628.41 669.21 L628.8 669.06 L629.25 669.51 L629.7 669.15 L630.15 668.85 L630.49 667.66 L631 668.05 L631.56 668.68 L632.01 668.87 L632.25 667.89 L632.69 668.05 L633.18 668.56 L633.36 667.22 L633.75 667.13 L634.3 667.99 L634.74 668.18 L635.07 667.72 L635.3 666.68 L635.9 667.86 L636.17 667.06 L636.75 668.06 L637.07 667.59 L637.5 667.72 L637.93 667.85 L638.22 667.16 L638.73 667.82 L639.17 667.98 L639.48 667.46 L639.96 667.89 L640.18 666.77 L640.71 667.53 L641.04 667.08 L641.32 666.3 L641.79 666.68 L642.13 666.33 L642.52 666.21 L642.96 666.45 L643.44 666.87 L643.7 666.02 L644.13 666.15 L644.38 665.19 L644.94 665.93 L645.45 666.38 L645.83 666.07 L646.2 665.77 L646.48 665.11 L646.81 664.75 L647.3 665.1 L647.54 664.32 L647.94 664.25 L648.56 665.29 L648.74 664.18 L649.42 665.51 L649.45 663.67 L650.04 664.54 L650.25 663.57 L650.78 664.16 L651.03 663.4 L651.53 663.85 L651.89 663.63 L652.24 663.35 L651.49 659.73 L650.97 659.21 L650.61 659.41 L650.12 659.04 L649.81 659.52 L649.28 658.93 L648.96 659.34 L648.6 659.6 L648.11 659.21 L647.83 659.83 L647.35 659.49 L647.02 659.85 L646.57 659.64 L646.39 660.74 L645.76 659.71 L645.39 659.86 L644.95 659.65 L644.72 660.45 L644.12 659.31 L643.82 659.76 L643.66 661.01 L643.08 659.91 L642.84 660.93 L642.33 660.32 L641.86 659.93 L641.66 661.15 L641.06 659.96 L640.64 659.91 L640.23 659.89 L639.91 660.37 L639.45 660.07 L639.11 660.47 L638.66 660.18 L638.44 661.3 L637.84 660.12 L637.46 660.29 L637.21 661.22 L636.76 660.97 L636.3 660.64 L635.91 660.69 L635.48 660.56 L635.08 660.58 L634.91 661.99 L634.35 661.07 L633.9 660.83 L633.47 660.65 L633.11 660.97 L632.78 661.4 L632.52 662.23 L631.95 661.27 L631.72 662.32 L631.27 662.07 L630.91 662.35 L630.38 661.47 L630.3 663.26 L629.84 662.31 L629.51 662.33 L629.17 662.16 L628.84 662.32 L628.47 662.47 L628.07 662.36 L627.69 662.91 L627.25 662.12 L626.88 662.71 L626.44 661.95 L626.08 662.68 L625.67 662.45 L625.28 662.74 L624.84 661.9 L624.45 662.2 L624.05 662.03 L623.64 661.98 L623.29 663.04 L622.84 661.96 L622.44 661.9 L622.05 662.25 L621.67 662.63 L621.22 661.55 L620.9 663.11 L620.49 663.07 L620.08 662.75 L619.62 661.65 L619.26 662.5 L618.9 663.3 L618.49 662.97 L618.06 662.54 L617.69 662.99 L617.36 664.5 L616.92 663.71 L616.45 662.37 L616.08 662.99 L615.65 662.36 L615.28 662.87 L614.89 663.2 L614.51 663.51 L614.12 663.78 L613.67 662.7 L613.25 662.35 L612.9 663.42 L612.45 662.33 L612.1 663.33 L611.69 663.16 L611.3 663.5 L610.94 664.36 L610.45 662.38 L610.05 662.52 L609.66 662.66 L609.35 664.43 L608.85 662.54 L608.46 662.67 L608.08 663.04 L607.72 663.92 L607.24 662.32 L606.91 663.79 L606.47 662.97 L606.06 662.86 L605.7 663.63 L605.28 663.28 L604.92 663.91 L604.52 663.63 L604.16 663.77 L603.79 663.28 L603.43 663.63 L603.08 663.22 L602.7 663.05 L602.31 662.93 L601.89 664.29 L601.49 664.41 L601.11 663.19 L600.71 662.97 L600.31 662.9 L599.88 664.8 L599.5 663.68 L599.11 663.05 L598.71 662.93 L598.29 664.07 L597.91 662.91 L597.51 662.6 L597.11 663.06 L596.69 664.1 L596.3 663.67 L595.91 662.81 L595.5 663.53 L595.11 662.72 L594.72 662.42 L594.31 662.97 L593.9 663.56 L593.52 662.41 L593.11 663.07 L592.72 662.32 L592.31 663.02 L591.92 662.14 L591.49 664.15 L591.1 663.91 L590.71 662.55 L590.31 662.99 L589.9 663.28 L589.51 663.04 L589.12 662.21 L588.72 661.74 L588.31 662.93 L587.89 663.93 L587.5 663.66 L587.11 663.05 L586.7 663.69 L586.32 662.3 L585.93 661.55 L585.51 663.07 L585.1 663.31 L584.71 662.79 L584.32 662.21 L583.89 663.89 L583.5 663.31 L583.09 663.99 L582.71 663.05 L582.31 662.53 L581.92 662.09 L581.5 663.21 L581.11 662.91 L580.71 662.5 L580.32 662.16 L579.92 662.17 L579.51 662.73 L579.1 663.23 L578.71 662.52 L578.31 662.67 L577.91 662.63 L577.52 662.12 L577.09 663.99 L576.71 662.71 L576.31 662.73 L575.9 663.18 L575.5 663.21 L575.11 662.5 L574.71 662.48 L574.3 663.08 L573.91 662.74 L573.49 663.84 L573.11 662.37 L572.73 660.98 L572.32 661.71 L571.92 662.22 L571.52 661.7 L571.11 662.45 L570.72 662.08 L570.32 661.97 L569.91 662.53 L569.51 662.83 L569.11 662.93 L568.73 661.28 L568.31 662.99 L567.92 661.81 L567.52 661.72 L567.11 662.79 L566.72 662.02 L566.32 661.77 L565.91 662.67 L565.52 661.62 L565.12 662.2 L564.72 662.05 L564.31 662.59 L563.92 661.95 L563.52 661.78 L563.11 662.44 L562.71 662.49 L562.32 661.79 L561.92 661.73 L561.51 662.5 L561.11 662.31 L560.72 661.69 L560.31 662.52 L559.91 662.7 L559.51 662.82 L559.11 662.38 L558.72 662.2 L558.32 662.02 L557.92 662.05 L557.51 662.6 L557.12 662.09 L556.71 662.28 L556.33 661.04 L555.92 661.67 L555.52 662.17 L555.13 660.97 L554.73 661.38 L554.31 662.39 L553.92 662.18 L553.52 661.79 L553.13 661.52 L552.71 662.75 L552.33 661.45 L551.92 662.26 L551.53 662.11 L551.13 661.94 L550.75 660.7 L550.33 661.78 L549.94 661.51 L549.52 662.76 L549.13 662.14 L548.72 662.5 L548.35 661.05 L547.94 661.53 L547.52 662.29 L547.13 662.19 L546.73 661.77 L546.35 661.08 L545.92 662.75 L545.53 662.03 L545.12 662.33 L544.73 661.93 L544.34 661.28 L543.94 661.28 L543.52 662.59 L543.14 661.45 L542.73 662.08 L542.32 662.32 L541.95 660.95 L541.52 662.57 L541.13 661.86 L540.73 662.04 L540.33 661.88 L539.93 661.7 L539.52 662.43 L539.13 662.03 L538.74 661.3 L538.35 660.92 L537.95 660.7 L537.54 661.39 L537.14 661.26 L536.75 660.93 L536.33 661.99 L535.93 661.68 L535.52 662.35 L535.14 661.5 L534.73 661.99 L534.35 660.91 L533.93 661.59 L533.54 661.19 L533.13 661.63 L532.73 661.79 L532.34 661.42 L531.93 661.58 L531.53 661.84 L531.15 660.82 L530.74 661.48 L530.34 661.48 L529.94 661.06 L529.52 662.29 L529.13 661.72 L528.73 661.61 L528.33 661.6 L527.93 661.96 L527.55 660.71 L527.15 660.52 L526.74 661.38 L526.34 661.15 L525.95 660.56 L525.55 660.75 L525.13 661.58 L524.74 661.08 L524.35 660.72 L523.93 662.05 L523.54 660.89 L523.13 661.57 L522.73 661.86 L522.34 661.33 L521.95 660.69 L521.53 661.77 L521.14 661.35 L520.74 660.96 L520.33 661.77 L519.96 660.2 L519.54 661.4 L519.14 660.91 L518.73 661.74 L518.33 661.63 L517.94 661.2 L517.53 661.11 L517.1 661.28 L516.67 661.76 L516.25 661.49 L515.83 661.87 L515.41 660.86 L515 660.25 L514.62 662.27 L514.21 661.25 L513.8 660.6 L513.41 661.48 L513.01 661.39 L512.61 661.47 L512.21 661.27 L511.8 660.52 L511.42 662.01 L511 660.63 L510.6 660.55 L510.23 662.31 L509.82 661.92 L509.41 661.36 L509 660.71 L508.62 662.09 L508.21 661.07 L507.82 662.02 L507.41 661.41 L507.01 661.14 L506.62 661.83 L506.21 661.03 L505.82 662.06 L505.41 661.35 L505 660.43 L504.63 662.4 L504.21 661.46 L503.83 662.6 L503.41 661.36 L503.01 660.94 L502.62 661.76 L502.23 662.79 L501.82 661.87 L501.41 661.48 L501.01 661.37 L500.61 661.37 L500.22 661.81 L499.81 661.34 L499.4 660.7 L499.01 661.19 L498.62 661.79 L498.22 661.78 L497.81 661.45 L497.4 660.64 L497.01 661.18 L496.61 661.14 L496.21 661.62 L495.82 661.7 L495.42 661.96 L495.01 661.35 L494.62 662.41 L494.11 661.4 L493.55 661.58 L493.01 661.87 L492.38 661.47 L491.95 662.29 L491.44 662.14 L491.15 662.69 L490.54 661.76 L490.28 662.46 L489.85 662.36 L489.45 662.39 L489.18 663.04 L488.61 662.3 L488.29 662.71 L487.95 662.83 L487.62 662.77 L487.29 662.66 L487 662.81 L486.71 663.01 L486.35 662.91 L485.89 662.41 L485.59 663.33 L485.13 662.87 L484.86 664.03 L484.31 662.69 L483.85 662.19 L483.62 663.71 L483.21 663.61 L482.84 663.41 L482.56 663.84 L482.19 662.81 L481.9 663.1 L481.59 663.31 L481.23 663.02 L480.83 663.84 L480.43 663.23 L480.03 662.95 L479.63 663.25 L479.23 663.84 L478.83 663.75 L478.43 663.44 L478.03 663.31 L477.63 663.91 L477.23 663.32 L476.83 663.55 L476.43 663.7 L476.03 663 L475.63 663.17 L475.23 663.6 L474.83 663.29 L474.43 662.99 L474.03 664.11 L473.63 662.88 L473.23 662.56 L472.83 663.8 L472.43 663.77 L472.03 664.29 L471.63 663.68 L471.23 663.64 L470.83 663.3 L470.43 663.12 L470.03 663.7 L469.67 662.93 L469.3 664.09 L468.97 663.13 L468.61 663.38 L468.22 664.12 L467.88 663.33 L467.45 663.79 L467.05 663.85 L466.7 662.86 L466.26 663.67 L465.9 662.89 L465.47 663.45 L465.08 663.28 L464.72 662.6 L464.32 662.57 L463.83 664.11 L463.49 662.98 L463.12 662.53 L462.74 662.2 L462.31 662.69 L461.87 663.25 L461.49 662.87 L461.09 662.93 L460.68 663.12 L460.3 662.65 L459.86 663.35 L459.51 662.46 L459.13 662.23 L458.76 661.6 L458.29 662.76 L457.91 662.54 L457.5 662.6 L457.03 663.79 L456.75 661.71 L456.31 662.88 L455.97 662.86 L455.64 662.8 L455.4 661.88 L455.01 662.4 L454.68 662.21 L454.29 662.1 L453.8 662.7 L453.38 662.83 L453 662.69 L452.65 662.26 L452.32 661.79 L451.92 661.71 L451.46 662.16 L451.03 662.32 L450.72 661.63 L450.3 661.78 L449.82 662.32 L449.46 662 L449.13 661.35 L448.54 662.65 L448.31 661.23 L447.79 662.08 L447.37 662.15 L447.07 661.25 L446.59 661.88 L446.23 661.54 L445.91 660.85 L445.43 661.48 L445.08 661.08 L444.6 661.68 L444.33 660.63 L443.84 661.34 L443.56 660.3 L442.99 661.39 L442.5 660.85 L441.87 660.99 L441.21 659.27 L440.66 661.22 L440 660.64 L439.55 660.83 L439.14 660.81 L438.88 661.82 L438.35 660.96 L438.07 661.83 L437.57 661.17 L437.22 661.51 L436.78 661.29 L436.39 661.38 L436.06 661.89 L435.57 661.31 L435.23 661.75 L434.77 661.52 L434.26 661.14 L433.98 662.12 L433.41 661.44 L433.21 662.72 L432.56 661.54 L432.14 661.48 L431.93 662.49 L431.42 661.98 L431.17 662.79 L430.71 662.54 L430.4 663.01 L429.98 662.96 L429.54 662.79 L429.06 662.41 L428.72 662.79 L428.36 662.98 L427.93 662.2 L427.81 662.53 L427.67 663.01 L427.45 662.27 L427.28 662.25 L426.96 662.87 L426.53 663.43 L426.15 663.07 L425.7 664.19 L425.33 663.58 L424.96 662.7 L424.57 662.64 L424.16 662.9 L423.73 663.37 L423.35 662.94 L422.95 663.04 L422.53 663.51 L422.17 663.25 L421.93 662.53 L421.68 662.51 L421.53 661.85 L420.91 663.98 L420.85 662.66 L420.21 663.9 L420.05 662.74 L419.76 662.18 L419.23 662.72 L418.81 662.8 L418.56 662.06 L418.13 662.14 L417.77 661.92 L417.35 661.99 L417 661.69 L416.61 661.59 L416.24 661.43 L415.93 661.1 L415.59 661.16 L415.01 662.21 L414.82 661.67 L414.66 661.1 L414.37 660.92 L413.95 660.95 L413.75 660.27 L413.13 660.89 L412.39 661.87 L412.34 660.74 L412.03 660.4 L411.53 660.65 L411.23 660.26 L410.73 660.52 L410.4 660.24 L410.1 659.87 L409.68 659.85 L409.32 659.67 L408.77 660.03 L408.64 659.14 L408.03 659.69 L407.82 659.04 L407.21 659.61 L406.97 659.07 L406.87 658.05 L406.26 658.65 L405.97 658.25 L405.25 659.18 L405.12 658.27 L404.74 658.14 L404.55 657.42 L403.73 658.7 L403.7 657.7 L403.37 657.68 L403.1 657.52 L402.39 658.42 L402.39 657.53 L402.54 656.26 L401.74 657.1 L401.44 656.77 L400.97 656.87 L400.71 656.45 L400.07 656.91 L399.75 656.64 L399.45 656.35 L399.35 655.57 L398.66 656.14 L398.14 656.33 L398.18 655.24 L397.55 655.7 L397.19 655.51 L397.1 654.72 L396.66 654.74 L396.46 654.32 L396 654.69 L396.31 653.66 L395.72 654.3 L396.29 653.06 L395.38 653.95 L394.72 654.25 L395.1 653.07 L394.01 653.88 L394.3 652.81 L393.96 652.59 L393.47 652.58 L393.14 652.36 L393.14 651.69 L392.42 651.98 L392.57 651.11 L391.14 652.37 L391.03 651.85 L391.21 651.06 L390.83 651.16 L390.66 651.01 L390.83 650.54 L390.48 650.58 L391.23 649.57 L390.32 649.84 L389.83 649.73 L389.94 649.12 L389.04 649.36 L388.49 649.29 L389.14 648.22 L388.68 648.09 L388.62 647.61 L387.94 647.67 L388.16 647.11 L388.38 646.83 L387.6 647.27 L386.98 647.48 L387.78 647 L388.32 646.61 L387.64 646.47 L387.54 646.08 L387.17 645.78 L387.35 645.3 L387.7 644.76 L385.93 644.92 L386.71 644.25 L386.25 643.98 L386.71 643.4 L385.68 643.32 L384.71 643.22 L386.11 642.34 L385.23 642.21 L386.15 641.48 L385.28 641.35 L385.84 640.74 L385.52 640.43 L385.67 639.95 L384.69 639.86 L384.98 639.34 L384.84 638.96 L384.46 638.67 L385.02 638.14 L384.6 638.03 L384.66 637.79 L384.28 637.64 L383.73 637.48 L383.28 637.21 L384.75 636.68 L384.27 636.33 L382.41 636.1 L383.12 635.63 L383.81 635.16 L383.66 634.78 L383.69 634.37 L383.6 633.98 L383.29 633.61 L382.99 633.23 L383.08 632.82 L383.67 632.37 L383.4 631.99 L382.52 631.67 L383.05 631.22 L382.75 630.84 L383.23 630.4 L383.22 630 L383.14 629.6 L381.84 629.32 L383.75 628.74 L383.18 628.39 L382.12 628.09 L383.28 627.58 L382.13 627.29 L382.67 626.83 L382.83 626.42 L382.46 626.05 L381.5 625.74 L382.68 625.23 L382.36 624.85 L381.68 624.52 L381.59 624.12 L381.97 623.69 L382.1 623.27 L381.74 622.9 L382.31 622.45 L382.7 622.01 L382.12 621.66 L381.36 621.33 L382.14 620.86 L380.92 620.57 L382.09 620.06 L381.14 619.76 L381.59 619.34 L381.88 618.94 L381.12 618.61 L382.02 618.18 L381.39 617.82 L381.53 617.41 L382.01 616.99 L380.83 616.65 L380.97 616.24 L381.11 615.83 L381.13 615.43 L381.08 615.04 L381.8 614.6 L380.44 614.27 L381.2 613.83 L380.77 613.45 L380.6 613.06 L380.17 612.68 L381.23 612.22 L380.47 611.86 L380.37 611.47 L380.77 611.05 L380.68 610.65 L379.9 610.29 L381.24 609.82 L380.43 609.46 L380.49 609.06 L381.29 608.62 L381.41 608.21 L380.78 607.84 L380.36 607.46 L380.15 607.07 L380.23 606.67 L380.33 606.26 L380.56 605.85 L381.14 605.42 L380.3 605.06 L379.6 604.7 L380.75 604.24 L379.74 603.89 L379.74 603.49 L381.13 603.02 L380.15 602.67 L379.99 602.27 L379.91 601.88 L379.93 601.48 L380.91 601.02 L379.72 600.69 L379.46 600.31 L380.16 599.89 L379.36 599.53 L380.6 599.09 L379.35 598.74 L380.37 598.31 L381.02 597.89 L380.01 597.52 L380.1 597.11 L379.76 596.72 L379.54 596.33 L380.02 595.92 L378.97 595.55 L380.01 595.12 L379.2 594.74 L379.34 594.34 L380.82 593.89 L380.02 593.52 L380.51 593.1 L378.89 592.75 L379.6 592.33 L379.26 591.94 L379.53 591.53 L379.55 591.13 L378.74 590.75 L379.72 590.32 L379.49 589.93 L379.6 589.53 L379.24 589.14 L380.33 588.7 L379.96 588.32 L379.52 587.93 L380.07 587.51 L379.34 587.13 L380.06 586.71 L378.47 586.36 L379.93 585.91 L379.25 585.54 L379.72 585.12 L379.23 584.74 L379.29 584.33 L379.02 583.94 L379.39 583.53 L379.37 583.13 L379.68 582.72 L379.12 582.34 L379.03 581.94 L378.36 581.56 L379.52 581.13 L378.72 580.75 L377.89 580.38 L379.31 579.95 L379.54 579.55 L379.66 579.15 L378.28 578.78 L379.43 578.36 L378.4 577.98 L378.76 577.57 L378.43 577.18 L379.84 576.75 L379.58 576.36 L379.28 575.96 L378.85 575.57 L377.83 575.18 L379.62 574.76 L379.33 574.36 L379.08 573.97 L378.64 573.57 L377.99 573.18 L379.18 572.76 L379.18 572.36 L378.68 571.97 L379.12 571.56 L378.77 571.17 L377.99 570.78 L378.87 570.37 L379.03 569.97 L377.8 569.58 L378.5 569.17 L378.75 568.77 L379.13 568.36 L378.94 567.97 L378.27 567.58 L378.75 567.17 L379.26 566.76 L379.12 566.36 L379.29 565.96 L379.3 565.56 L378.22 565.18 L378.96 564.77 L378.33 564.38 L378.1 563.98 L377.07 563.59 L377.72 563.18 L378.56 562.77 L377.36 562.39 L378.36 561.97 L378.34 561.57 L377.57 561.19 L378.62 560.77 L377.91 560.38 L378.27 559.98 L378.11 559.58 L377.66 559.18 L377.79 558.78 L378.37 558.37 L378.88 557.97 L377.61 557.59 L378.96 557.17 L377.66 556.78 L378.66 556.37 L378.77 555.97 L377.86 555.58 L378.31 555.17 L377.64 554.78 L378.69 554.37 L378.42 553.97 L378.42 553.57 L378.66 553.17 L377.96 552.78 L377.95 552.38 L378.57 551.97 L377.99 551.58 L377.56 551.19 L377.58 550.79 L378.4 550.37 L377.47 549.99 L377.39 549.59 L377.78 549.18 L377.46 548.79 L379.24 548.36 L379.3 547.96 L378.23 547.58 L378.52 547.17 L378.07 546.78 L377.78 546.38 L378.25 545.97 L378 545.58 L377.77 545.18 L377.6 544.78 L377.98 544.38 L378.64 543.97 L378.64 543.57 L378.54 543.17 L378.39 542.77 L376.95 542.39 L377.95 541.98 L378.73 541.57 L376.55 541.2 L378.72 540.77 L377.96 540.38 L379.06 539.97 L378.25 539.59 L377.44 539.19 L378.9 538.79 L378.26 538.39 L377.85 537.99 L377.4 537.6 L377.98 537.19 L378.13 536.79 L377 536.4 L377.06 536 L377.74 535.59 L377.71 535.19 L377.31 534.8 L378.03 534.39 L377.67 533.99 L378.1 533.59 L377.02 533.2 L376.87 532.8 L377.35 532.4 L377.56 531.99 L378.01 531.59 L377.14 531.2 L378.34 530.79 L378.42 530.39 L377.48 529.99 L378.66 529.59 L377.68 529.19 L377.74 528.79 L378.28 528.39 L377.91 527.99 L377.59 527.59 L376.97 527.2 L377.56 526.79 L378.44 526.39 L378.66 525.99 L378.43 525.59 L377.38 525.2 L378.11 524.79 L377.84 524.39 L377.79 523.99 L377.88 523.59 L377.96 523.19 L378.58 522.79 L377.79 522.39 L377.74 521.99 L378.14 521.59 L377.54 521.19 L377.75 520.79 L377.48 520.39 L377.3 520 L377.52 519.59 L377.4 519.2 L377.47 518.79 L377.11 518.4 L378.63 517.99 L377.66 517.59 L379.21 517.19 L378.26 516.79 L378.22 516.39 L377.19 516 L377.51 515.59 L377.99 515.19 L378.18 514.79 L377.66 514.39 L377.28 514 L376.92 513.6 L378.3 513.19 L377.91 512.79 L377.92 512.39 L377.54 511.99 L376.85 511.6 L377.02 511.2 L378.59 510.79 L377.82 510.39 L377.94 509.99 L377.01 509.6 L377.36 509.2 L378.96 508.79 L377.51 508.39 L377 508 L377.07 507.6 L378.12 507.19 L376.89 506.8 L377.8 506.39 L377.32 506 L378.35 505.59 L377.71 505.19 L376.52 504.8 L377.82 504.39 L377.93 503.99 L377.22 503.6 L377.18 503.2 L377.7 502.79 L377.75 502.39 L377.55 501.99 L377.25 501.6 L378.01 501.19 L377.93 500.79 L378.49 500.39 L378.99 499.99 L377.4 499.59 L377.54 499.19 L377.54 498.79 L378.45 498.39 L377.68 497.99 L377.28 497.6 L377.43 497.19 L377.42 496.79 L377.34 496.4 L376.88 496 L377.69 495.59 L377.32 495.2 L378.35 494.79 L377.18 494.4 L377.43 493.99 L377.37 493.59 L377.17 493.2 L377.88 492.79 L376.91 492.4 L377.18 492 L377.35 491.6 L376.55 491.2 L377.52 490.79 L376.91 490.4 L378.05 489.99 L377.34 489.6 L377.36 489.19 L378 488.79 L378.03 488.39 L378.12 487.99 L378.03 487.59 L377.4 487.19 L377.08 486.8 L377.65 486.39 L377.73 485.99 L377.32 485.6 L377.53 485.19 L377.2 484.8 L378.29 484.39 L377.49 483.99 L376.95 483.6 L377.38 483.19 L378.29 482.79 L377.61 482.39 L377.65 481.99 L377.32 481.6 L377.33 481.19 L377.62 480.79 L377.04 480.4 L376.97 480 L376.91 479.6 L377.68 479.19 L377.53 478.79 L378.33 478.39 L376.93 478 L377.58 477.59 L377.13 477.2 L376.88 476.8 L377.64 476.39 L378.04 475.99 L378.69 475.59 L376.64 475.2 L377.12 474.8 L377.89 474.39 L377.78 473.99 L376.9 473.6 L376.84 473.2 L377.44 472.79 L377.25 472.4 L377.26 472 L377.62 471.59 L376.65 471.2 L378.13 470.79 L377.79 470.39 L376.95 470 L377.98 469.59 L376.73 469.2 L378.22 468.79 L377.56 468.39 L377.6 467.99 L377.44 467.59 L377.93 467.19 L376.63 466.8 L376.65 466.4 L377.72 465.99 L377.7 465.59 L377.33 465.19 L377.36 464.79 L376.88 464.4 L377.73 463.99 L377.92 463.59 L376.78 463.2 L377.83 462.79 L377.33 462.39 L376.73 462 L377.06 461.6 L377.57 461.19 L377.11 460.8 L377.04 460.4 L377.6 459.99 L377.48 459.59 L377.96 459.19 L376.74 458.8 L376.53 458.4 L377.6 457.99 L377.51 457.59 L376.88 457.2 L377.08 456.8 L377.29 456.39 L376.71 456 L378.3 455.59 L377.6 455.19 L377.05 454.8 L376.91 454.4 L377.04 454 L377.56 453.59 L378.02 453.19 L377.26 452.79 L376.93 452.4 L377.22 451.99 L377.37 451.59 L377.94 451.19 L376.5 450.8 L377.96 450.39 L378.3 449.99 L377.7 449.59 L376.67 449.2 L377.18 448.8 L377.27 448.39 L376.41 448 L377.2 447.59 L376.49 447.2 L377.06 446.8 L376.84 446.4 L376.89 446 L376.94 445.6 L377.35 445.19 L377.32 444.79 L376.86 444.4 L377.54 443.99 L377.54 443.59 L376.24 443.2 L377.52 442.79 L377.73 442.39 L376.74 442 L376.8 441.6 L377.89 441.19 L377.01 440.8 L378.35 440.39 L377 440 L377.06 439.6 L376.39 439.2 L377.88 438.79 L376.9 438.4 L376.47 438 L377.42 437.59 L378.37 437.19 L377.21 436.79 L376.46 436.4 L377.01 436 L378.25 435.59 L375.93 435.2 L377.79 434.79 L377.23 434.39 L377.53 433.99 L376.86 433.6 L378.05 433.19 L376.67 432.8 L377.15 432.39 L377.22 431.99 L377.03 431.6 L376.76 431.2 L377.43 430.79 L377.17 430.39 L377.15 429.99 L376.88 429.6 L377.35 429.19 L376.75 428.8 L377.54 428.39 L377.54 427.99 L376.8 427.6 L376.47 427.2 L376.32 426.8 L377.03 426.4 L376.46 426 L377.78 425.59 L375.7 425.2 L376.85 424.8 L377.57 424.39 L376.91 424 L377.03 423.6 L375.88 423.2 L378.53 422.79 L377.06 422.4 L376.66 422 L376.56 421.6 L376.65 421.2 L377.37 420.79 L376.57 420.4 L376.65 420 L377.16 419.59 L376.14 419.2 L377.18 418.79 L376.43 418.4 L376.23 418 L377.09 417.6 L377.05 417.2 L377.37 416.79 L376.9 416.4 L376.92 416 L376.8 415.6 L376.48 415.2 L377.27 414.79 L377.15 414.39 L376.53 414 L376.15 413.6 L377.24 413.19 L377.07 412.8 L377.05 412.4 L377.86 411.99 L377.21 411.59 L376.71 411.2 L377.65 410.79 L377.92 410.39 L377.13 409.99 L379.01 409.59 L376.81 409.2 L376.76 408.8 L375.94 408.4 L376.55 408 L375.74 407.6 L378.11 407.19 L376.9 406.8 L376.95 406.4 L377.39 405.99 L376.58 405.6 L377.72 405.19 L377.18 404.79Z" fill="#5b9bd5"/>
<polyline points="376.9,404.8 376.91,405.3 376.92,405.8 376.93,406.3 376.94,406.8 376.95,407.3 376.96,407.8 376.97,408.3 376.98,408.8 376.99,409.3 377,409.8 377.01,410.3 377.02,410.8 377.03,411.3 377.04,411.8 377.05,412.3 377.06,412.8 377.07,413.3 377.08,413.8 377.09,414.3 377.1,414.8 377.11,415.3 377.12,415.8 377.13,416.3 377.14,416.8 377.15,417.3 377.16,417.8 377.17,418.3 377.18,418.8 377.19,419.3 377.2,419.8 377.21,420.3 377.22,420.8 377.23,421.3 377.24,421.8 377.25,422.3 377.26,422.8 377.27,423.3 377.28,423.8 377.29,424.3 377.3,424.8 377.31,425.3 377.32,425.8 377.33,426.3 377.34,426.8 377.35,427.3 377.36,427.8 377.37,428.3 377.38,428.8 377.39,429.3 377.4,429.8 377.41,430.29 377.42,430.79 377.43,431.29 377.44,431.79 377.45,432.29 377.46,432.79 377.47,433.29 377.48,433.79 377.49,434.29 377.5,434.79 377.51,435.29 377.52,435.79 377.53,436.29 377.54,436.79 377.55,437.29 377.56,437.79 377.57,438.29 377.58,438.79 377.59,439.29 377.6,439.79 377.61,440.29 377.62,440.79 377.63,441.29 377.64,441.79 377.65,442.29 377.66,442.79 377.67,443.29 377.68,443.79 377.69,444.29 377.7,444.79 377.71,445.29 377.72,445.79 377.73,446.29 377.74,446.79 377.75,447.29 377.76,447.79 377.77,448.29 377.78,448.79 377.79,449.29 377.8,449.79 377.81,450.29 377.82,450.79 377.83,451.29 377.84,451.79 377.85,452.29 377.86,452.79 377.87,453.29 377.88,453.79 377.89,454.29 377.9,454.79 377.91,455.29 377.92,455.79 377.93,456.29 377.94,456.79 377.95,457.29 377.96,457.79 377.97,458.29 377.98,458.79 377.99,459.29 378,459.79 378.01,460.29 378.02,460.79 378.03,461.29 378.04,461.79 378.05,462.29 378.06,462.79 378.07,463.29 378.08,463.79 378.09,464.29 378.1,464.79 378.11,465.29 378.12,465.79 378.13,466.29 378.14,466.79 378.15,467.29 378.16,467.79 378.17,468.29 378.18,468.79 378.19,469.29 378.2,469.79 378.21,470.29 378.22,470.79 378.23,471.29 378.24,471.79 378.25,472.29 378.26,472.79 378.27,473.29 378.28,473.79 378.29,474.29 378.3,474.79 378.31,475.29 378.32,475.79 378.33,476.29 378.35,476.79 378.36,477.29 378.37,477.79 378.38,478.29 378.39,478.79 378.4,479.28 378.41,479.78 378.42,480.28 378.43,480.78 378.44,481.28 378.45,481.78 378.46,482.28 378.47,482.78 378.48,483.28 378.5,483.78 378.51,484.28 378.52,484.78 378.53,485.28 378.54,485.78 378.55,486.28 378.56,486.78 378.57,487.28 378.58,487.78 378.59,488.28 378.6,488.78 378.61,489.28 378.62,489.78 378.63,490.28 378.65,490.78 378.66,491.28 378.67,491.78 378.68,492.28 378.69,492.78 378.7,493.28 378.71,493.78 378.72,494.28 378.73,494.78 378.74,495.28 378.75,495.78 378.76,496.28 378.77,496.78 378.78,497.28 378.8,497.78 378.81,498.28 378.82,498.78 378.83,499.28 378.84,499.78 378.85,500.28 378.86,500.78 378.87,501.28 378.88,501.78 378.89,502.28 378.9,502.78 378.91,503.28 378.92,503.78 378.93,504.28 378.95,504.78 378.96,505.28 378.97,505.78 378.98,506.28 378.99,506.78 379,507.28 379.01,507.78 379.02,508.28 379.03,508.78 379.04,509.28 379.05,509.78 379.06,510.28 379.07,510.78 379.08,511.28 379.1,511.78 379.11,512.28 379.12,512.78 379.13,513.28 379.14,513.78 379.15,514.28 379.16,514.78 379.17,515.28 379.18,515.78 379.19,516.28 379.2,516.78 379.21,517.28 379.22,517.78 379.23,518.28 379.25,518.78 379.26,519.28 379.27,519.78 379.28,520.28 379.29,520.78 379.3,521.28 379.31,521.78 379.32,522.28 379.33,522.77 379.34,523.27 379.35,523.77 379.36,524.27 379.37,524.77 379.38,525.27 379.4,525.77 379.41,526.27 379.42,526.77 379.43,527.27 379.44,527.77 379.45,528.27 379.46,528.77 379.47,529.27 379.48,529.77 379.49,530.27 379.5,530.77 379.51,531.27 379.52,531.77 379.53,532.27 379.55,532.77 379.56,533.27 379.57,533.77 379.58,534.27 379.59,534.77 379.6,535.27 379.61,535.77 379.62,536.27 379.63,536.77 379.64,537.27 379.65,537.77 379.66,538.27 379.67,538.77 379.68,539.27 379.7,539.77 379.71,540.27 379.74,540.77 379.76,541.27 379.79,541.77 379.81,542.27 379.83,542.77 379.86,543.27 379.88,543.77 379.91,544.27 379.93,544.77 379.95,545.26 379.98,545.76 380,546.26 380.03,546.76 380.05,547.26 380.07,547.76 380.1,548.26 380.12,548.76 380.15,549.26 380.17,549.76 380.2,550.26 380.22,550.76 380.24,551.26 380.27,551.76 380.29,552.26 380.32,552.76 380.34,553.26 380.36,553.75 380.39,554.25 380.41,554.75 380.44,555.25 380.46,555.75 380.48,556.25 380.51,556.75 380.53,557.25 380.56,557.75 380.58,558.25 380.61,558.75 380.63,559.25 380.65,559.75 380.68,560.25 380.7,560.75 380.73,561.25 380.75,561.75 380.77,562.25 380.8,562.74 380.82,563.24 380.85,563.74 380.87,564.24 380.89,564.74 380.92,565.24 380.94,565.74 380.97,566.24 380.99,566.74 381.02,567.24 381.04,567.74 381.06,568.24 381.09,568.74 381.11,569.24 381.14,569.74 381.16,570.24 381.18,570.74 381.21,571.23 381.23,571.73 381.26,572.23 381.28,572.73 381.3,573.23 381.33,573.73 381.35,574.23 381.38,574.73 381.4,575.23 381.44,575.73 381.47,576.23 381.5,576.73 381.54,577.23 381.57,577.72 381.61,578.22 381.64,578.72 381.67,579.22 381.71,579.72 381.74,580.22 381.78,580.72 381.81,581.22 381.84,581.71 381.88,582.21 381.91,582.71 381.95,583.21 381.98,583.71 382.01,584.21 382.05,584.71 382.08,585.21 382.12,585.71 382.15,586.2 382.18,586.7 382.22,587.2 382.25,587.7 382.29,588.2 382.32,588.7 382.35,589.2 382.39,589.7 382.42,590.2 382.46,590.69 382.49,591.19 382.52,591.69 382.56,592.19 382.59,592.69 382.63,593.19 382.66,593.69 382.69,594.19 382.73,594.68 382.76,595.18 382.8,595.68 382.83,596.18 382.86,596.68 382.9,597.18 382.93,597.68 382.97,598.18 383,598.68 383.03,599.17 383.07,599.67 383.1,600.17 383.14,600.67 383.17,601.17 383.21,601.67 383.25,602.17 383.29,602.66 383.33,603.16 383.38,603.66 383.42,604.16 383.46,604.66 383.5,605.16 383.55,605.65 383.59,606.15 383.63,606.65 383.67,607.15 383.72,607.65 383.76,608.14 383.8,608.64 383.84,609.14 383.89,609.64 383.93,610.14 383.97,610.64 384.01,611.13 384.06,611.63 384.1,612.13 384.14,612.63 384.18,613.13 384.23,613.62 384.27,614.12 384.31,614.62 384.35,615.12 384.4,615.62 384.44,616.12 384.48,616.61 384.52,617.11 384.57,617.61 384.61,618.11 384.65,618.61 384.69,619.11 384.74,619.6 384.78,620.1 384.82,620.6 384.86,621.1 384.91,621.6 384.95,622.09 384.99,622.59 385.06,623.09 385.14,623.58 385.22,624.07 385.3,624.57 385.38,625.06 385.45,625.56 385.53,626.05 385.61,626.54 385.69,627.04 385.77,627.53 385.85,628.02 385.93,628.52 386.01,629.01 386.08,629.51 386.16,630 386.24,630.49 386.32,630.99 386.4,631.48 386.48,631.98 386.56,632.47 386.63,632.96 386.71,633.46 386.79,633.95 386.94,634.43 387.1,634.9 387.26,635.37 387.43,635.85 387.59,636.32 387.75,636.79 387.91,637.27 388.07,637.74 388.23,638.21 388.39,638.69 388.55,639.16 388.71,639.64 388.87,640.11 389.05,640.57 389.36,640.97 389.66,641.36 389.96,641.76 390.27,642.16 390.57,642.56 390.88,642.95 391.18,643.35 391.48,643.75 391.79,644.14 392.09,644.54 392.39,644.94 392.7,645.34 393.04,645.69 393.47,645.94 393.9,646.2 394.33,646.46 394.76,646.72 395.18,646.98 395.61,647.23 396.04,647.49 396.47,647.75 396.9,648.01 397.33,648.27 397.75,648.52 398.18,648.78 398.61,649.04 399.04,649.3 399.47,649.56 399.9,649.81 400.32,650.07 400.75,650.33 401.18,650.59 401.61,650.85 402.09,650.98 402.57,651.09 403.06,651.2 403.55,651.31 404.04,651.41 404.53,651.52 405.02,651.63 405.5,651.73 405.99,651.84 406.48,651.95 406.97,652.06 407.46,652.16 407.95,652.27 408.43,652.38 408.92,652.49 409.41,652.59 409.9,652.7 410.39,652.81 410.88,652.91 411.36,653.02 411.85,653.13 412.34,653.24 412.83,653.34 413.32,653.45 413.81,653.56 414.3,653.62 414.8,653.67 415.3,653.71 415.8,653.75 416.29,653.79 416.79,653.83 417.29,653.87 417.79,653.91 418.29,653.95 418.79,653.99 419.28,654.03 419.78,654.07 420.28,654.12 420.78,654.16 421.28,654.2 421.78,654.24 422.27,654.28 422.77,654.32 423.27,654.36 423.77,654.4 424.27,654.44 424.77,654.48 425.26,654.53 425.76,654.57 426.26,654.61 426.76,654.65 427.26,654.69 427.76,654.73 428.25,654.77 428.75,654.81 429.25,654.85 429.75,654.89 430.25,654.93 430.75,654.98 431.24,655.02 431.74,655.06 432.24,655.1 432.74,655.14 433.24,655.18 433.73,655.22 434.23,655.26 434.73,655.3 435.23,655.33 435.73,655.35 436.23,655.38 436.73,655.4 437.23,655.43 437.73,655.46 438.23,655.48 438.73,655.51 439.23,655.53 439.73,655.56 440.22,655.58 440.72,655.61 441.22,655.63 441.72,655.66 442.22,655.69 442.72,655.71 443.22,655.74 443.72,655.76 444.22,655.79 444.72,655.81 445.22,655.84 445.72,655.86 446.22,655.89 446.72,655.92 447.22,655.94 447.71,655.97 448.21,655.99 448.71,656.02 449.21,656.04 449.71,656.07 450.21,656.1 450.71,656.12 451.21,656.15 451.71,656.17 452.21,656.2 452.71,656.22 453.21,656.25 453.71,656.27 454.21,656.3 454.71,656.33 455.2,656.35 455.7,656.38 456.2,656.4 456.7,656.43 457.2,656.45 457.7,656.48 458.2,656.51 458.7,656.53 459.2,656.56 459.7,656.58 460.2,656.61 460.7,656.63 461.2,656.66 461.7,656.68 462.2,656.71 462.7,656.73 463.19,656.76 463.69,656.78 464.19,656.8 464.69,656.83 465.19,656.85 465.69,656.88 466.19,656.9 466.69,656.92 467.19,656.95 467.69,656.97 468.19,656.99 468.69,657.02 469.19,657.04 469.69,657.06 470.19,657.09 470.69,657.11 471.19,657.14 471.68,657.16 472.18,657.18 472.68,657.21 473.18,657.23 473.68,657.25 474.18,657.28 474.68,657.3 475.18,657.33 475.68,657.35 476.18,657.37 476.68,657.4 477.18,657.42 477.68,657.44 478.18,657.47 478.68,657.49 479.18,657.51 479.68,657.54 480.18,657.56 480.67,657.59 481.17,657.61 481.67,657.63 482.17,657.66 482.67,657.68 483.17,657.7 483.67,657.73 484.17,657.75 484.67,657.78 485.17,657.8 485.67,657.82 486.17,657.85 486.67,657.87 487.17,657.89 487.67,657.92 488.17,657.94 488.67,657.97 489.17,657.99 489.66,658.01 490.16,658.04 490.66,658.06 491.16,658.09 491.66,658.12 492.16,658.14 492.66,658.17 493.16,658.19 493.66,658.22 494.16,658.24 494.66,658.27 495.16,658.3 495.66,658.32 496.16,658.35 496.66,658.37 497.15,658.4 497.65,658.42 498.15,658.45 498.65,658.47 499.15,658.5 499.65,658.53 500.15,658.55 500.65,658.58 501.15,658.6 501.65,658.63 502.15,658.65 502.65,658.68 503.15,658.7 503.65,658.73 504.15,658.76 504.65,658.78 505.14,658.81 505.64,658.83 506.14,658.86 506.64,658.88 507.14,658.91 507.64,658.94 508.14,658.96 508.64,658.99 509.14,659.01 509.64,659.04 510.14,659.06 510.64,659.09 511.14,659.11 511.64,659.14 512.14,659.17 512.63,659.19 513.13,659.22 513.63,659.24 514.13,659.27 514.63,659.29 515.13,659.32 515.63,659.35 516.13,659.37 516.63,659.4 517.13,659.41 517.63,659.43 518.13,659.44 518.63,659.45 519.13,659.47 519.63,659.48 520.13,659.5 520.63,659.51 521.13,659.52 521.63,659.54 522.13,659.55 522.63,659.57 523.13,659.58 523.63,659.59 524.13,659.61 524.63,659.62 525.13,659.64 525.63,659.65 526.13,659.66 526.63,659.68 527.13,659.69 527.62,659.71 528.12,659.72 528.62,659.73 529.12,659.75 529.62,659.76 530.12,659.77 530.62,659.79 531.12,659.8 531.62,659.82 532.12,659.83 532.62,659.84 533.12,659.86 533.62,659.87 534.12,659.89 534.62,659.9 535.12,659.91 535.62,659.93 536.12,659.94 536.62,659.96 537.12,659.97 537.62,659.98 538.12,660 538.62,660.01 539.12,660.03 539.62,660.04 540.12,660.05 540.62,660.07 541.12,660.08 541.62,660.1 542.12,660.11 542.62,660.12 543.12,660.14 543.62,660.15 544.12,660.17 544.62,660.18 545.12,660.19 545.62,660.21 546.12,660.22 546.62,660.24 547.12,660.25 547.62,660.26 548.12,660.28 548.62,660.29 549.12,660.31 549.62,660.32 550.12,660.33 550.62,660.35 551.12,660.36 551.62,660.38 552.12,660.39 552.62,660.4 553.12,660.4 553.62,660.4 554.12,660.41 554.62,660.41 555.12,660.41 555.62,660.41 556.12,660.42 556.62,660.42 557.12,660.42 557.62,660.42 558.12,660.42 558.62,660.43 559.12,660.43 559.62,660.43 560.12,660.43 560.62,660.43 561.12,660.44 561.62,660.44 562.12,660.44 562.62,660.44 563.12,660.44 563.62,660.45 564.12,660.45 564.62,660.45 565.12,660.45 565.62,660.46 566.12,660.46 566.62,660.46 567.12,660.46 567.62,660.46 568.12,660.47 568.62,660.47 569.12,660.47 569.62,660.47 570.12,660.47 570.62,660.48 571.12,660.48 571.62,660.48 572.12,660.48 572.62,660.48 573.12,660.49 573.62,660.49 574.12,660.49 574.61,660.49 575.11,660.5 575.61,660.5 576.11,660.5 576.61,660.5 577.11,660.5 577.61,660.51 578.11,660.51 578.61,660.51 579.11,660.51 579.61,660.51 580.11,660.52 580.61,660.52 581.11,660.52 581.61,660.52 582.11,660.52 582.61,660.53 583.11,660.53 583.61,660.53 584.11,660.53 584.61,660.54 585.11,660.54 585.61,660.54 586.11,660.54 586.61,660.54 587.11,660.55 587.61,660.55 588.11,660.55 588.61,660.55 589.11,660.55 589.61,660.56 590.11,660.56 590.61,660.56 591.11,660.56 591.61,660.56 592.11,660.57 592.61,660.57 593.11,660.57 593.61,660.57 594.11,660.58 594.61,660.58 595.11,660.58 595.61,660.58 596.11,660.58 596.61,660.59 597.11,660.59 597.61,660.59 598.11,660.59 598.61,660.59 599.11,660.6 599.61,660.6 600.11,660.6 600.61,660.6 601.11,660.6 601.61,660.6 602.11,660.6 602.61,660.6 603.11,660.6 603.61,660.6 604.11,660.6 604.61,660.6 605.11,660.6 605.61,660.6 606.11,660.6 606.61,660.6 607.11,660.6 607.61,660.6 608.11,660.6 608.61,660.6 609.11,660.6 609.61,660.6 610.11,660.6 610.61,660.6 611.11,660.6 611.61,660.6 612.11,660.6 612.61,660.6 613.11,660.6 613.61,660.6 614.11,660.6 614.61,660.6 615.11,660.6 615.61,660.6 616.11,660.6 616.61,660.6 617.11,660.6 617.61,660.6 618.11,660.6 618.61,660.6 619.11,660.6 619.61,660.6 620.11,660.6 620.61,660.6 621.11,660.6 621.61,660.6 622.11,660.6 622.61,660.6 623.11,660.6 623.61,660.6 624.11,660.6 624.61,660.6 625.11,660.6 625.61,660.6 626.11,660.6 626.61,660.6 627.11,660.6 627.61,660.6 628.11,660.6 628.61,660.6 629.11,660.6 629.61,660.6 630.11,660.6 630.61,660.6 631.11,660.6 631.61,660.6 632.11,660.6 632.61,660.6 633.11,660.6 633.61,660.6 634.11,660.6 634.61,660.6 635.11,660.6 635.61,660.6 636.11,660.6 636.61,660.6 637.11,660.6 637.61,660.6 638.11,660.6 638.61,660.6 639.11,660.6 639.61,660.6 640.11,660.6 640.61,660.6 641.11,660.6 641.61,660.6 642.11,660.6 642.61,660.6 643.11,660.6 643.61,660.6 644.11,660.6 644.61,660.6 645.11,660.6 645.61,660.6 646.11,660.6 646.61,660.6 647.11,660.6 647.61,660.6 648.11,660.6 648.61,660.6 649.11,660.6 649.61,660.6 650.11,660.6 650.61,660.6 651.11,660.6" fill="none" stroke="#ed7d31" stroke-width="4.8" stroke-linejoin="round"/>
<ellipse cx="650.6" cy="660.2" rx="2.6" ry="3.6" fill="#ed7d31"/>
<ellipse cx="436" cy="500.4" rx="1.5" ry="2.1" fill="#5b9bd5"/>
<rect x="434.5" y="521.4" width="2.9" height="4.8" fill="#ed7d31"/>
<text x="441.35" y="528.3" font-family="Liberation Sans" font-size="14.32" font-weight="bold" textLength="161.3" lengthAdjust="spacingAndGlyphs">Simulation using estimated parameters</text>
<text x="441.26" y="504.4" font-family="Liberation Sans" font-size="14.32" font-weight="bold" textLength="46.95" lengthAdjust="spacingAndGlyphs">experiment</text>
<text x="494.4" y="779.96" font-family="Liberation Serif" font-size="27.9" font-weight="normal" textLength="8.3" lengthAdjust="spacingAndGlyphs" style="stroke:none">(</text>
<text x="503.74" y="779.72" font-family="Liberation Serif" font-size="28.28" font-weight="bold" textLength="15.7" lengthAdjust="spacingAndGlyphs" style="stroke:none">b</text>
<text x="519.38" y="779.96" font-family="Liberation Serif" font-size="27.9" font-weight="normal" textLength="8.43" lengthAdjust="spacingAndGlyphs" style="stroke:none">)</text>
<line x1="737.1" y1="397.6" x2="737.1" y2="691.2" stroke="#a8a8a8" stroke-width="1.7"/>
<line x1="1001" y1="397.6" x2="1001" y2="691.2" stroke="#a8a8a8" stroke-width="1.7"/>
<line x1="736.5" y1="398.2" x2="1001.9" y2="398.2" stroke="#686868" stroke-width="1.35"/>
<line x1="736.5" y1="690.6" x2="1001.9" y2="690.6" stroke="#686868" stroke-width="1.35"/>
<text x="700.71" y="403.98" font-family="Liberation Sans" font-size="17.67" font-weight="bold" textLength="25.74" lengthAdjust="spacingAndGlyphs">0.016</text>
<text x="700.75" y="477.08" font-family="Liberation Sans" font-size="17.67" font-weight="bold" textLength="25.74" lengthAdjust="spacingAndGlyphs">0.012</text>
<text x="700.66" y="550.18" font-family="Liberation Sans" font-size="17.67" font-weight="bold" textLength="25.74" lengthAdjust="spacingAndGlyphs">0.008</text>
<text x="700.4" y="623.28" font-family="Liberation Sans" font-size="17.67" font-weight="bold" textLength="25.74" lengthAdjust="spacingAndGlyphs">0.004</text>
<text x="720.78" y="696.38" font-family="Liberation Sans" font-size="17.67" font-weight="bold" textLength="5.72" lengthAdjust="spacingAndGlyphs">0</text>
<text x="734.35" y="722.28" font-family="Liberation Sans" font-size="17.91" font-weight="bold" textLength="5.81" lengthAdjust="spacingAndGlyphs">0</text>
<text x="772.58" y="722.28" font-family="Liberation Sans" font-size="17.91" font-weight="bold" textLength="17.42" lengthAdjust="spacingAndGlyphs">500</text>
<text x="813.49" y="722.28" font-family="Liberation Sans" font-size="17.91" font-weight="bold" textLength="23.23" lengthAdjust="spacingAndGlyphs">1000</text>
<text x="857.47" y="722.28" font-family="Liberation Sans" font-size="17.91" font-weight="bold" textLength="23.23" lengthAdjust="spacingAndGlyphs">1500</text>
<text x="901.6" y="722.28" font-family="Liberation Sans" font-size="17.91" font-weight="bold" textLength="23.23" lengthAdjust="spacingAndGlyphs">2000</text>
<text x="945.59" y="722.28" font-family="Liberation Sans" font-size="17.91" font-weight="bold" textLength="23.23" lengthAdjust="spacingAndGlyphs">2500</text>
<text x="989.63" y="722.25" font-family="Liberation Sans" font-size="17.91" font-weight="bold" textLength="23.23" lengthAdjust="spacingAndGlyphs">3000</text>
<text x="839.91" y="741.29" font-family="Liberation Sans" font-size="16.73" font-weight="bold" textLength="58.14" lengthAdjust="spacingAndGlyphs">Chain length</text>
<text transform="translate(679.7,697.94) rotate(-90)" x="0" y="0" font-family="Liberation Sans" font-size="9.84" font-weight="normal" textLength="281.11" lengthAdjust="spacingAndGlyphs" style="stroke-width:0.5px">Weight fraction of polymer in the</text>
<text transform="translate(693.8,591.27) rotate(-90)" x="0" y="0" font-family="Liberation Sans" font-size="10.07" font-weight="normal" textLength="66.15" lengthAdjust="spacingAndGlyphs" style="stroke-width:0.5px">interval</text>
<g transform="scale(0.78 1)"><path d="M945.76 691.01h0 M946.15 688.43h0 M946.27 685.82h0 M946.72 683.24h0 M946.98 680.65h0 M947.06 678.05h0 M947.6 675.47h0 M948.06 672.9h0 M948.1 670.29h0 M948.23 667.69h0 M948.84 665.12h0 M949.03 662.52h0 M949.74 659.96h0 M949.77 657.35h0 M950.1 654.77h0 M950.34 652.17h0 M950.79 649.59h0 M951 647h0 M951.27 644.41h0 M951.72 641.83h0 M951.94 639.23h0 M952.58 636.67h0 M952.47 634.05h0 M952.88 631.47h0 M953.04 628.87h0 M953.18 626.27h0 M953.89 623.71h0 M953.57 621.08h0 M954.35 618.52h0 M954.17 615.9h0 M954.64 613.32h0 M955.22 610.75h0 M954.8 608.12h0 M955.16 605.53h0 M955.82 602.96h0 M955.89 600.36h0 M956.03 597.76h0 M956.35 595.17h0 M956.46 592.57h0 M956.87 589.98h0 M957.32 587.4h0 M957.29 584.79h0 M957.61 582.21h0 M958.02 579.62h0 M958.38 577.04h0 M958.24 574.42h0 M958.63 571.84h0 M958.75 569.24h0 M958.99 566.64h0 M959.28 564.05h0 M959.49 561.46h0 M959.58 558.86h0 M959.79 556.26h0 M960.23 553.68h0 M960.62 551.09h0 M961.03 548.51h0 M961.02 545.9h0 M961.39 543.32h0 M961.85 540.74h0 M962.2 538.16h0 M962.41 535.56h0 M962.75 532.97h0 M963.38 530.41h0 M963.39 527.8h0 M963.7 525.21h0 M963.89 522.61h0 M964.57 520.05h0 M964.83 517.46h0 M965.52 514.9h0 M965.55 512.29h0 M966.09 509.72h0 M966.48 507.14h0 M967.02 504.57h0 M967.04 501.95h0 M967.92 499.42h0 M968.14 496.82h0 M968.58 494.24h0 M969.19 491.69h0 M969.89 489.15h0 M970.62 486.61h0 M971.04 484.02h0 M972.18 481.55h0 M972.95 479.02h0 M973.68 476.48h0 M974.68 474h0 M975.85 471.55h0 M976.4 468.98h0 M977.43 466.52h0 M979.18 464.33h0 M981.14 462.35h0 M984.03 461.02h0 M986.9 462.3h0 M989.45 463.94h0 M991.53 465.97h0 M993.46 468.08h0 M995.48 470.16h0 M996.66 472.61h0 M997.83 475.04h0 M998.78 477.53h0 M999.61 480.05h0 M1000.75 482.49h0 M1001.87 484.94h0 M1002.85 487.42h0 M1004 489.87h0 M1004.8 492.4h0 M1005.86 494.86h0 M1006.89 497.34h0 M1007.78 499.84h0 M1008.61 502.36h0 M1009.4 504.89h0 M1010.2 507.41h0 M1011.08 509.92h0 M1012.01 512.42h0 M1012.47 515h0 M1013.2 517.54h0 M1013.97 520.07h0 M1014.55 522.63h0 M1015.48 525.13h0 M1016.41 527.63h0 M1017.06 530.18h0 M1017.29 532.79h0 M1018.16 535.31h0 M1018.84 537.86h0 M1019.88 540.34h0 M1020.57 542.89h0 M1021.17 545.46h0 M1022.51 547.86h0 M1023.49 550.35h0 M1024.55 552.81h0 M1025.75 555.24h0 M1026.72 557.73h0 M1027.95 560.15h0 M1028.95 562.63h0 M1030.08 565.08h0 M1030.58 567.68h0 M1031.9 570.08h0 M1032.91 572.56h0 M1033.81 575.07h0 M1035.28 577.42h0 M1036.42 579.86h0 M1037.7 582.26h0 M1038.76 584.73h0 M1040.02 587.14h0 M1041.11 589.59h0 M1042.23 592.04h0 M1043.19 594.52h0 M1044.42 596.94h0 M1045.71 599.33h0 M1047.01 601.73h0 M1048.03 604.21h0 M1049.35 606.6h0 M1050.74 608.97h0 M1052.43 611.21h0 M1053.84 613.56h0 M1055.47 615.84h0 M1056.46 618.33h0 M1057.74 620.73h0 M1059.25 623.05h0 M1060.7 625.38h0 M1062.45 627.59h0 M1063.9 629.97h0 M1066.38 631.74h0 M1068.72 633.59h0 M1070.66 635.71h0 M1072.79 637.71h0 M1074.45 639.96h0 M1076.43 642.05h0 M1078.42 644.13h0 M1079.99 646.49h0 M1082.58 648.18h0 M1084.82 650.11h0 M1086.98 652.09h0 M1089.19 654.04h0 M1091.78 655.7h0 M1093.96 657.67h0 M1096.31 659.51h0 M1098.85 661.19h0 M1101.57 662.7h0 M1104.31 664.18h0" stroke="#5b9bd5" stroke-width="5.3" stroke-linecap="round" fill="none"/>
<path d="M1110.26 668h0 M1114.49 669.9h0 M1119.1 672.1h0 M1123.97 674.2h0 M1128.97 676.1h0 M1133.97 677.6h0 M1139.23 679.3h0 M1144.49 680.5h0 M1149.49 680.9h0 M1154.87 680.9h0 M1160.64 681.2h0 M1166.41 682.4h0 M1172.44 683.7h0 M1178.72 684.4h0 M1185 685.2h0 M1191.41 685.9h0 M1198.08 686.1h0 M1204.87 685.9h0 M1211.54 685.6h0 M1218.97 685.3h0 M1226.79 685.6h0 M1234.49 686.4h0 M1242.18 687.5h0 M1250.13 688.7h0 M1258.21 689.9h0 M1262.18 690.3h0" stroke="#5b9bd5" stroke-width="5.0" stroke-linecap="round" fill="none"/>
<path d="M952.44 644.8h0 M968.59 495.5h0 M991.79 447.3h0 M1023.46 542.3h0 M1062.95 637.9h0 M1110.9 677.5h0 M1166.15 688.3h0 M1228.97 690.1h0" stroke="#ed7d31" stroke-width="5.6" stroke-linecap="round" fill="none"/></g>
<ellipse cx="818.4" cy="521.6" rx="2.1" ry="2.8" fill="#5b9bd5"/>
<ellipse cx="818.4" cy="554.1" rx="2.1" ry="2.9" fill="#ed7d31"/>
<text x="823.48" y="526.3" font-family="Liberation Sans" font-size="15.22" font-weight="bold" textLength="47.1" lengthAdjust="spacingAndGlyphs">Experiment</text>
<text x="823.45" y="558.1" font-family="Liberation Sans" font-size="14.46" font-weight="bold" textLength="161.3" lengthAdjust="spacingAndGlyphs">Simulation using estimated parameters</text>
</svg>
</body></html>
